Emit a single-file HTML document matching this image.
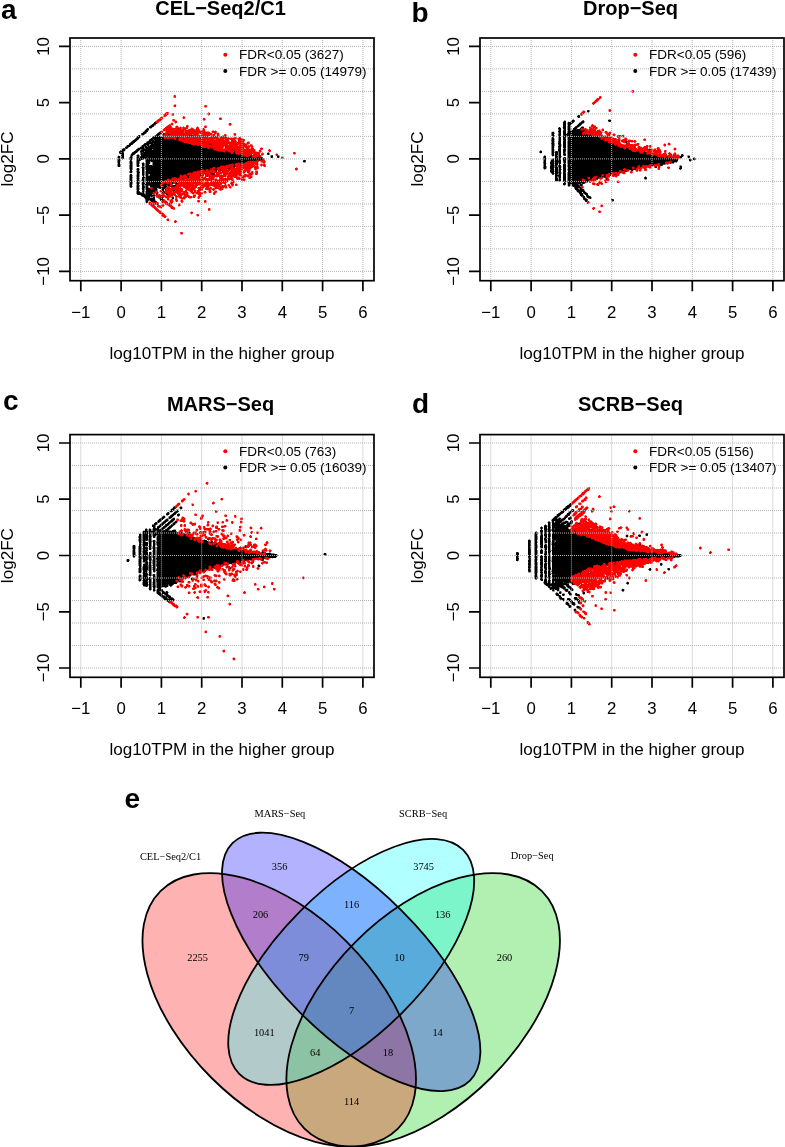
<!DOCTYPE html>
<html><head><meta charset="utf-8"><style>
html,body{margin:0;padding:0;background:#fff;}
body{width:785px;height:1147px;overflow:hidden;position:relative;}
svg{position:absolute;left:0;top:0;filter:blur(0.35px);}
text{font-family:"Liberation Sans",sans-serif;fill:#000;}
.t16{font-size:16.8px;}
.t17{font-size:17.1px;}
.t13{font-size:13.5px;}
.tb{font-size:20px;font-weight:bold;}
.lab{font-size:28px;font-weight:bold;}
.sv{font-family:"Liberation Serif",serif;font-size:10.4px;}
</style></head><body>
<svg width="785" height="1147" viewBox="0 0 785 1147">
<path d="M155 121.5h2v0.5h-2zM154 122h3v0.5h-3zM154 122.5h3.5v0.5h-3.5zM153.5 123h4v0.5h-4zM153 123.5h4v0.5h-4zM152 124h4v0.5h-4zM151.5 124.5h4v0.5h-4zM151 125h4.5v0.5h-4.5zM150 125.5h4v0.5h-4zM149.5 126h4.5v0.5h-4.5zM149 126.5h4.5v0.5h-4.5zM149 127h3.5v0.5h-3.5zM149 127.5h3v0.5h-3zM177.5 127.5h1.5v0.5h-1.5zM183.5 127.5h1.5v0.5h-1.5zM147 128h1.5v0.5h-1.5zM149.5 128h2v0.5h-2zM167.5 128h1.5v0.5h-1.5zM171.5 128h1.5v0.5h-1.5zM177 128h2.5v0.5h-2.5zM183 128h2.5v0.5h-2.5zM146.5 128.5h2.5v0.5h-2.5zM167 128.5h2.5v0.5h-2.5zM171 128.5h2.5v0.5h-2.5zM177 128.5h2.5v0.5h-2.5zM183 128.5h2.5v0.5h-2.5zM146 129h3v0.5h-3zM167 129h6.5v0.5h-6.5zM177 129h2.5v0.5h-2.5zM183 129h2.5v0.5h-2.5zM145.5 129.5h3.5v0.5h-3.5zM167 129.5h6.5v0.5h-6.5zM175 129.5h4.5v0.5h-4.5zM183 129.5h2.5v0.5h-2.5zM188 129.5h1v0.5h-1zM145 130h3.5v0.5h-3.5zM167 130h6.5v0.5h-6.5zM174 130h5v0.5h-5zM181 130h0.5v0.5h-0.5zM184 130h0.5v0.5h-0.5zM187.5 130h2.5v0.5h-2.5zM144.5 130.5h4v0.5h-4zM167.5 130.5h5v0.5h-5zM173.5 130.5h4v0.5h-4zM178 130.5h1v0.5h-1zM180 130.5h2v0.5h-2zM187.5 130.5h2.5v0.5h-2.5zM144.5 131h3.5v0.5h-3.5zM160.5 131h1v0.5h-1zM169.5 131h2.5v0.5h-2.5zM173.5 131h9v0.5h-9zM187 131h3v0.5h-3zM143.5 131.5h4.5v0.5h-4.5zM159.5 131.5h2.5v0.5h-2.5zM174 131.5h3v0.5h-3zM177.5 131.5h5v0.5h-5zM187.5 131.5h4.5v0.5h-4.5zM143 132h4v0.5h-4zM159 132h3.5v0.5h-3.5zM172.5 132h4.5v0.5h-4.5zM177.5 132h5v0.5h-5zM188 132h1.5v0.5h-1.5zM190 132h2.5v0.5h-2.5zM195 132h1v0.5h-1zM142.5 132.5h4v0.5h-4zM158 132.5h4.5v0.5h-4.5zM171.5 132.5h10.5v0.5h-10.5zM189.5 132.5h3v0.5h-3zM194.5 132.5h2.5v0.5h-2.5zM141.5 133h5v0.5h-5zM157.5 133h4.5v0.5h-4.5zM163 133h2v0.5h-2zM166 133h2v0.5h-2zM171.5 133h10v0.5h-10zM182 133h1.5v0.5h-1.5zM190 133h2.5v0.5h-2.5zM194 133h3v0.5h-3zM141 133.5h4.5v0.5h-4.5zM157 133.5h4.5v0.5h-4.5zM163 133.5h5.5v0.5h-5.5zM169 133.5h15v0.5h-15zM188 133.5h4v0.5h-4zM194 133.5h3v0.5h-3zM141 134h4v0.5h-4zM156.5 134h4.5v0.5h-4.5zM162.5 134h22v0.5h-22zM187.5 134h2.5v0.5h-2.5zM193.5 134h3.5v0.5h-3.5zM141.5 134.5h2.5v0.5h-2.5zM156 134.5h4v0.5h-4zM162.5 134.5h22.5v0.5h-22.5zM187.5 134.5h3v0.5h-3zM192.5 134.5h3.5v0.5h-3.5zM138.5 135h1.5v0.5h-1.5zM141.5 135h2v0.5h-2zM155.5 135h4v0.5h-4zM163 135h22v0.5h-22zM187.5 135h8v0.5h-8zM198.5 135h1.5v0.5h-1.5zM138 135.5h2.5v0.5h-2.5zM154.5 135.5h4.5v0.5h-4.5zM159.5 135.5h1v0.5h-1zM162.5 135.5h1v0.5h-1zM164 135.5h12.5v0.5h-12.5zM177.5 135.5h7.5v0.5h-7.5zM186.5 135.5h0.5v0.5h-0.5zM188 135.5h7.5v0.5h-7.5zM198 135.5h2.5v0.5h-2.5zM137.5 136h3v0.5h-3zM153.5 136h22v0.5h-22zM177.5 136h4.5v0.5h-4.5zM182.5 136h2v0.5h-2zM185.5 136h9.5v0.5h-9.5zM198 136h2.5v0.5h-2.5zM137 136.5h3.5v0.5h-3.5zM153 136.5h23.5v0.5h-23.5zM177 136.5h6v0.5h-6zM185.5 136.5h2.5v0.5h-2.5zM189.5 136.5h5v0.5h-5zM198 136.5h2.5v0.5h-2.5zM137 137h3.5v0.5h-3.5zM152.5 137h31v0.5h-31zM185 137h3v0.5h-3zM189.5 137h5v0.5h-5zM198 137h2.5v0.5h-2.5zM136 137.5h4v0.5h-4zM152 137.5h32v0.5h-32zM185 137.5h3v0.5h-3zM189 137.5h5v0.5h-5zM199 137.5h1.5v0.5h-1.5zM135.5 138h4v0.5h-4zM151 138h33v0.5h-33zM184.5 138h3v0.5h-3zM188.5 138h5.5v0.5h-5.5zM194.5 138h2v0.5h-2zM199 138h2v0.5h-2zM217.5 138h1.5v0.5h-1.5zM135.5 138.5h3.5v0.5h-3.5zM150.5 138.5h46.5v0.5h-46.5zM198.5 138.5h3v0.5h-3zM217 138.5h2.5v0.5h-2.5zM134.5 139h4v0.5h-4zM149.5 139h41.5v0.5h-41.5zM192 139h5v0.5h-5zM198.5 139h3v0.5h-3zM217 139h2.5v0.5h-2.5zM134 139.5h4.5v0.5h-4.5zM149 139.5h4.5v0.5h-4.5zM154 139.5h37v0.5h-37zM192 139.5h5.5v0.5h-5.5zM198.5 139.5h4.5v0.5h-4.5zM217 139.5h2.5v0.5h-2.5zM133 140h4.5v0.5h-4.5zM149 140h5v0.5h-5zM154.5 140h37v0.5h-37zM192 140h6v0.5h-6zM198.5 140h5v0.5h-5zM217 140h2.5v0.5h-2.5zM132.5 140.5h4.5v0.5h-4.5zM148.5 140.5h43v0.5h-43zM192 140.5h11.5v0.5h-11.5zM218 140.5h0.5v0.5h-0.5zM132 141h4.5v0.5h-4.5zM147.5 141h47.5v0.5h-47.5zM195.5 141h8.5v0.5h-8.5zM211.5 141h1v0.5h-1zM131 141.5h5v0.5h-5zM146.5 141.5h4.5v0.5h-4.5zM151.5 141.5h53v0.5h-53zM210.5 141.5h3v0.5h-3zM131 142h4v0.5h-4zM146.5 142h58.5v0.5h-58.5zM208.5 142h5v0.5h-5zM130 142.5h5v0.5h-5zM146 142.5h59v0.5h-59zM208 142.5h5.5v0.5h-5.5zM218 142.5h1v0.5h-1zM129.5 143h4.5v0.5h-4.5zM144.5 143h9v0.5h-9zM154 143h50.5v0.5h-50.5zM207 143h6.5v0.5h-6.5zM217 143h2.5v0.5h-2.5zM129 143.5h4.5v0.5h-4.5zM144 143.5h61.5v0.5h-61.5zM206.5 143.5h7.5v0.5h-7.5zM214.5 143.5h2v0.5h-2zM217 143.5h3v0.5h-3zM222.5 143.5h2v0.5h-2zM129 144h4v0.5h-4zM143.5 144h62v0.5h-62zM206 144h15v0.5h-15zM221.5 144h3.5v0.5h-3.5zM128.5 144.5h4v0.5h-4zM143 144.5h6v0.5h-6zM151 144.5h74v0.5h-74zM127 145h4v0.5h-4zM142 145h7v0.5h-7zM150 145h75v0.5h-75zM126.5 145.5h4.5v0.5h-4.5zM141.5 145.5h4.5v0.5h-4.5zM147 145.5h71v0.5h-71zM219 145.5h5.5v0.5h-5.5zM225.5 145.5h2v0.5h-2zM126.5 146h4v0.5h-4zM141.5 146h5.5v0.5h-5.5zM148 146h70v0.5h-70zM219 146h2v0.5h-2zM222 146h1.5v0.5h-1.5zM225 146h2.5v0.5h-2.5zM125.5 146.5h4.5v0.5h-4.5zM140.5 146.5h4v0.5h-4zM145 146.5h73.5v0.5h-73.5zM220 146.5h2v0.5h-2zM225 146.5h3v0.5h-3zM125 147h4v0.5h-4zM140 147h4.5v0.5h-4.5zM145 147h74v0.5h-74zM219.5 147h3v0.5h-3zM225 147h3v0.5h-3zM125 147.5h3v0.5h-3zM138.5 147.5h0.5v0.5h-0.5zM139.5 147.5h5v0.5h-5zM145 147.5h74v0.5h-74zM219.5 147.5h3.5v0.5h-3.5zM225.5 147.5h2v0.5h-2zM234 147.5h1.5v0.5h-1.5zM123.5 148h1v0.5h-1zM125 148h2.5v0.5h-2.5zM137.5 148h7v0.5h-7zM145.5 148h77.5v0.5h-77.5zM226 148h0.5v0.5h-0.5zM231.5 148h1.5v0.5h-1.5zM233.5 148h2.5v0.5h-2.5zM122.5 148.5h2.5v0.5h-2.5zM125.5 148.5h2v0.5h-2zM137.5 148.5h85.5v0.5h-85.5zM224.5 148.5h1.5v0.5h-1.5zM226.5 148.5h2v0.5h-2zM230.5 148.5h5.5v0.5h-5.5zM122 149h3.5v0.5h-3.5zM136.5 149h5v0.5h-5zM142 149h10.5v0.5h-10.5zM153 149h70.5v0.5h-70.5zM224 149h5v0.5h-5zM230 149h6v0.5h-6zM121.5 149.5h4v0.5h-4zM136 149.5h4v0.5h-4zM141 149.5h11.5v0.5h-11.5zM153 149.5h76v0.5h-76zM229.5 149.5h6.5v0.5h-6.5zM236.5 149.5h2v0.5h-2zM120.5 150h5v0.5h-5zM135.5 150h4v0.5h-4zM140.5 150h95v0.5h-95zM236 150h2.5v0.5h-2.5zM120 150.5h5v0.5h-5zM135 150.5h4.5v0.5h-4.5zM140.5 150.5h91.5v0.5h-91.5zM232.5 150.5h3v0.5h-3zM236 150.5h3v0.5h-3zM119.5 151h5v0.5h-5zM134 151h4.5v0.5h-4.5zM140 151h4v0.5h-4zM145 151h93.5v0.5h-93.5zM119 151.5h4.5v0.5h-4.5zM133.5 151.5h4.5v0.5h-4.5zM140 151.5h98.5v0.5h-98.5zM119 152h4.5v0.5h-4.5zM132.5 152h5v0.5h-5zM140 152h98.5v0.5h-98.5zM119 152.5h5v0.5h-5zM132 152.5h5v0.5h-5zM140.5 152.5h1.5v0.5h-1.5zM142.5 152.5h96.5v0.5h-96.5zM239.5 152.5h2v0.5h-2zM250 152.5h1.5v0.5h-1.5zM267.5 152.5h2v0.5h-2zM119 153h5v0.5h-5zM132 153h4v0.5h-4zM140.5 153h102v0.5h-102zM247.5 153h1v0.5h-1zM249.5 153h2.5v0.5h-2.5zM267 153h2.5v0.5h-2.5zM120 153.5h4v0.5h-4zM131 153.5h4.5v0.5h-4.5zM140.5 153.5h103.5v0.5h-103.5zM245 153.5h1.5v0.5h-1.5zM247 153.5h2v0.5h-2zM249.5 153.5h2.5v0.5h-2.5zM267 153.5h2.5v0.5h-2.5zM121 154h3v0.5h-3zM131 154h4v0.5h-4zM140.5 154h111.5v0.5h-111.5zM267 154h2.5v0.5h-2.5zM121 154.5h3v0.5h-3zM130.5 154.5h4v0.5h-4zM137 154.5h2v0.5h-2zM140.5 154.5h111.5v0.5h-111.5zM267.5 154.5h2v0.5h-2zM121 155h3v0.5h-3zM130.5 155h3v0.5h-3zM136.5 155h3v0.5h-3zM141 155h112.5v0.5h-112.5zM271.5 155h1v0.5h-1zM118.5 155.5h0.5v0.5h-0.5zM121 155.5h3v0.5h-3zM130.5 155.5h2.5v0.5h-2.5zM136.5 155.5h3v0.5h-3zM141 155.5h115v0.5h-115zM257.5 155.5h2v0.5h-2zM270.5 155.5h2.5v0.5h-2.5zM277 155.5h2.5v0.5h-2.5zM118 156h2v0.5h-2zM121.5 156h2.5v0.5h-2.5zM130.5 156h2v0.5h-2zM137 156h2.5v0.5h-2.5zM140.5 156h119v0.5h-119zM270.5 156h2.5v0.5h-2.5zM277 156h2.5v0.5h-2.5zM117.5 156.5h3v0.5h-3zM121 156.5h3v0.5h-3zM130 156.5h2.5v0.5h-2.5zM136.5 156.5h3v0.5h-3zM140 156.5h120.5v0.5h-120.5zM270.5 156.5h2.5v0.5h-2.5zM277 156.5h2.5v0.5h-2.5zM117.5 157h3v0.5h-3zM121.5 157h2.5v0.5h-2.5zM129.5 157h3v0.5h-3zM136.5 157h3v0.5h-3zM140 157h122.5v0.5h-122.5zM270.5 157h2.5v0.5h-2.5zM277 157h2.5v0.5h-2.5zM117.5 157.5h2.5v0.5h-2.5zM121 157.5h3v0.5h-3zM129.5 157.5h3v0.5h-3zM136.5 157.5h3v0.5h-3zM140 157.5h7.5v0.5h-7.5zM148 157.5h115v0.5h-115zM271 157.5h1.5v0.5h-1.5zM277.5 157.5h1.5v0.5h-1.5zM118 158h1.5v0.5h-1.5zM121 158h3v0.5h-3zM129.5 158h3v0.5h-3zM136.5 158h127v0.5h-127zM117.5 158.5h2.5v0.5h-2.5zM121 158.5h2.5v0.5h-2.5zM129.5 158.5h3v0.5h-3zM136.5 158.5h8v0.5h-8zM145 158.5h118.5v0.5h-118.5zM117.5 159h2.5v0.5h-2.5zM122 159h1v0.5h-1zM129.5 159h3v0.5h-3zM136.5 159h7.5v0.5h-7.5zM145.5 159h118v0.5h-118zM117.5 159.5h3v0.5h-3zM129.5 159.5h2.5v0.5h-2.5zM136.5 159.5h6.5v0.5h-6.5zM145.5 159.5h118v0.5h-118zM117.5 160h3v0.5h-3zM130 160h1.5v0.5h-1.5zM136.5 160h4.5v0.5h-4.5zM145.5 160h117.5v0.5h-117.5zM303.5 160h2v0.5h-2zM117.5 160.5h3v0.5h-3zM130 160.5h2v0.5h-2zM136.5 160.5h4v0.5h-4zM145.5 160.5h117v0.5h-117zM263 160.5h1.5v0.5h-1.5zM303 160.5h3v0.5h-3zM117.5 161h2.5v0.5h-2.5zM129.5 161h2.5v0.5h-2.5zM136.5 161h3.5v0.5h-3.5zM145.5 161h113.5v0.5h-113.5zM262.5 161h2.5v0.5h-2.5zM303 161h3v0.5h-3zM117.5 161.5h3v0.5h-3zM129.5 161.5h3v0.5h-3zM136.5 161.5h2.5v0.5h-2.5zM145.5 161.5h4.5v0.5h-4.5zM151 161.5h107v0.5h-107zM262.5 161.5h3v0.5h-3zM303 161.5h2.5v0.5h-2.5zM117.5 162h2.5v0.5h-2.5zM129.5 162h3v0.5h-3zM136.5 162h3v0.5h-3zM146 162h4v0.5h-4zM152.5 162h101v0.5h-101zM254.5 162h0.5v0.5h-0.5zM262.5 162h3v0.5h-3zM303.5 162h2v0.5h-2zM117.5 162.5h2.5v0.5h-2.5zM129.5 162.5h3v0.5h-3zM136.5 162.5h3v0.5h-3zM142.5 162.5h1.5v0.5h-1.5zM145.5 162.5h5v0.5h-5zM152.5 162.5h100.5v0.5h-100.5zM262.5 162.5h2.5v0.5h-2.5zM118 163h2v0.5h-2zM129.5 163h3v0.5h-3zM136.5 163h3v0.5h-3zM142 163h2.5v0.5h-2.5zM145.5 163h5v0.5h-5zM152.5 163h99.5v0.5h-99.5zM263.5 163h1v0.5h-1zM117.5 163.5h2.5v0.5h-2.5zM129.5 163.5h3v0.5h-3zM136.5 163.5h3v0.5h-3zM141.5 163.5h3v0.5h-3zM145.5 163.5h4.5v0.5h-4.5zM152.5 163.5h99v0.5h-99zM117.5 164h3v0.5h-3zM130 164h2.5v0.5h-2.5zM136.5 164h2.5v0.5h-2.5zM142 164h2.5v0.5h-2.5zM145.5 164h3.5v0.5h-3.5zM152.5 164h93.5v0.5h-93.5zM247 164h2.5v0.5h-2.5zM117.5 164.5h3v0.5h-3zM129.5 164.5h3v0.5h-3zM136.5 164.5h2.5v0.5h-2.5zM142 164.5h2.5v0.5h-2.5zM145.5 164.5h4v0.5h-4zM152.5 164.5h93.5v0.5h-93.5zM247.5 164.5h2v0.5h-2zM117.5 165h3v0.5h-3zM129.5 165h3v0.5h-3zM136.5 165h3v0.5h-3zM142 165h2.5v0.5h-2.5zM145.5 165h6.5v0.5h-6.5zM152.5 165h85.5v0.5h-85.5zM238.5 165h8v0.5h-8zM117.5 165.5h3v0.5h-3zM129.5 165.5h3v0.5h-3zM136.5 165.5h3v0.5h-3zM142 165.5h2.5v0.5h-2.5zM145.5 165.5h93v0.5h-93zM240 165.5h7v0.5h-7zM117.5 166h3v0.5h-3zM129.5 166h3v0.5h-3zM136.5 166h3v0.5h-3zM142.5 166h1v0.5h-1zM145.5 166h93v0.5h-93zM241 166h6v0.5h-6zM255 166h1.5v0.5h-1.5zM118 166.5h2v0.5h-2zM129.5 166.5h3v0.5h-3zM137 166.5h2v0.5h-2zM142 166.5h2.5v0.5h-2.5zM145 166.5h93v0.5h-93zM242 166.5h5v0.5h-5zM254.5 166.5h2.5v0.5h-2.5zM129.5 167h3v0.5h-3zM141.5 167h3v0.5h-3zM145.5 167h90v0.5h-90zM236 167h2v0.5h-2zM242 167h2v0.5h-2zM244.5 167h2v0.5h-2zM254 167h3v0.5h-3zM129.5 167.5h3v0.5h-3zM141.5 167.5h3.5v0.5h-3.5zM145.5 167.5h87v0.5h-87zM233 167.5h2v0.5h-2zM254.5 167.5h2.5v0.5h-2.5zM129.5 168h3v0.5h-3zM137 168h2v0.5h-2zM142 168h2.5v0.5h-2.5zM145.5 168h85v0.5h-85zM254.5 168h2v0.5h-2zM129.5 168.5h3v0.5h-3zM136.5 168.5h3v0.5h-3zM142 168.5h2.5v0.5h-2.5zM145.5 168.5h80.5v0.5h-80.5zM227 168.5h3.5v0.5h-3.5zM255.5 168.5h0.5v0.5h-0.5zM129.5 169h3v0.5h-3zM136.5 169h3v0.5h-3zM142 169h2.5v0.5h-2.5zM145.5 169h81v0.5h-81zM228 169h2v0.5h-2zM130 169.5h2.5v0.5h-2.5zM136.5 169.5h3v0.5h-3zM142 169.5h2.5v0.5h-2.5zM145.5 169.5h72v0.5h-72zM218 169.5h9v0.5h-9zM228.5 169.5h1v0.5h-1zM130 170h2v0.5h-2zM137 170h2v0.5h-2zM142 170h2.5v0.5h-2.5zM146 170h71v0.5h-71zM219 170h8v0.5h-8zM130 170.5h2v0.5h-2zM136.5 170.5h3v0.5h-3zM142 170.5h2.5v0.5h-2.5zM146 170.5h71v0.5h-71zM218.5 170.5h8v0.5h-8zM129.5 171h3v0.5h-3zM136.5 171h3v0.5h-3zM142 171h2.5v0.5h-2.5zM145.5 171h62v0.5h-62zM208 171h9v0.5h-9zM218 171h3v0.5h-3zM222 171h2.5v0.5h-2.5zM225 171h1v0.5h-1zM129.5 171.5h3v0.5h-3zM136.5 171.5h3v0.5h-3zM142 171.5h2.5v0.5h-2.5zM145.5 171.5h67.5v0.5h-67.5zM214 171.5h3v0.5h-3zM218 171.5h3v0.5h-3zM222 171.5h2.5v0.5h-2.5zM129.5 172h3v0.5h-3zM136.5 172h3.5v0.5h-3.5zM142 172h2.5v0.5h-2.5zM145.5 172h61.5v0.5h-61.5zM207.5 172h5.5v0.5h-5.5zM214 172h2.5v0.5h-2.5zM218.5 172h2.5v0.5h-2.5zM223 172h1v0.5h-1zM129.5 172.5h2.5v0.5h-2.5zM137 172.5h3v0.5h-3zM142 172.5h2.5v0.5h-2.5zM145.5 172.5h67.5v0.5h-67.5zM214.5 172.5h1.5v0.5h-1.5zM219 172.5h1v0.5h-1zM130.5 173h1v0.5h-1zM137 173h2.5v0.5h-2.5zM142 173h2.5v0.5h-2.5zM145.5 173h56v0.5h-56zM202 173h7.5v0.5h-7.5zM210 173h4.5v0.5h-4.5zM136.5 173.5h3v0.5h-3zM142 173.5h2.5v0.5h-2.5zM145.5 173.5h55.5v0.5h-55.5zM202.5 173.5h2v0.5h-2zM205.5 173.5h9.5v0.5h-9.5zM130 174h2v0.5h-2zM136.5 174h3v0.5h-3zM142 174h2.5v0.5h-2.5zM145.5 174h4v0.5h-4zM150 174h51v0.5h-51zM205 174h10v0.5h-10zM129.5 174.5h2.5v0.5h-2.5zM137 174.5h2.5v0.5h-2.5zM142 174.5h2.5v0.5h-2.5zM145.5 174.5h2.5v0.5h-2.5zM150 174.5h51v0.5h-51zM205 174.5h4v0.5h-4zM209.5 174.5h5.5v0.5h-5.5zM129.5 175h3v0.5h-3zM136.5 175h3v0.5h-3zM142 175h2.5v0.5h-2.5zM145.5 175h2.5v0.5h-2.5zM150 175h51v0.5h-51zM205 175h3.5v0.5h-3.5zM210 175h5v0.5h-5zM129.5 175.5h3v0.5h-3zM136.5 175.5h3v0.5h-3zM142.5 175.5h1.5v0.5h-1.5zM145.5 175.5h52v0.5h-52zM198 175.5h3v0.5h-3zM205.5 175.5h3.5v0.5h-3.5zM211.5 175.5h3.5v0.5h-3.5zM129.5 176h2.5v0.5h-2.5zM136.5 176h3v0.5h-3zM143 176h1v0.5h-1zM145.5 176h52v0.5h-52zM198 176h2.5v0.5h-2.5zM206 176h2.5v0.5h-2.5zM211.5 176h4v0.5h-4zM129.5 176.5h3v0.5h-3zM136.5 176.5h3v0.5h-3zM142.5 176.5h2v0.5h-2zM146 176.5h51v0.5h-51zM198 176.5h2.5v0.5h-2.5zM206.5 176.5h2v0.5h-2zM212 176.5h3v0.5h-3zM129.5 177h3v0.5h-3zM136.5 177h3v0.5h-3zM142 177h3v0.5h-3zM145.5 177h49.5v0.5h-49.5zM197.5 177h2.5v0.5h-2.5zM213 177h1.5v0.5h-1.5zM129.5 177.5h3v0.5h-3zM137 177.5h2v0.5h-2zM142 177.5h3v0.5h-3zM145.5 177.5h49.5v0.5h-49.5zM197 177.5h3v0.5h-3zM129.5 178h3v0.5h-3zM136.5 178h3v0.5h-3zM142 178h2.5v0.5h-2.5zM145.5 178h49v0.5h-49zM197 178h3v0.5h-3zM129.5 178.5h2.5v0.5h-2.5zM136.5 178.5h3v0.5h-3zM142 178.5h2.5v0.5h-2.5zM145.5 178.5h49v0.5h-49zM197.5 178.5h3v0.5h-3zM129.5 179h3v0.5h-3zM137 179h2v0.5h-2zM142 179h2.5v0.5h-2.5zM145.5 179h37.5v0.5h-37.5zM186.5 179h7.5v0.5h-7.5zM197.5 179h3v0.5h-3zM129.5 179.5h2.5v0.5h-2.5zM136.5 179.5h3v0.5h-3zM141.5 179.5h3v0.5h-3zM145.5 179.5h37v0.5h-37zM186.5 179.5h3.5v0.5h-3.5zM190.5 179.5h2.5v0.5h-2.5zM198 179.5h2v0.5h-2zM129.5 180h3v0.5h-3zM136.5 180h3v0.5h-3zM141.5 180h3v0.5h-3zM145.5 180h36v0.5h-36zM183.5 180h1.5v0.5h-1.5zM187 180h2v0.5h-2zM190.5 180h2v0.5h-2zM198.5 180h1v0.5h-1zM129.5 180.5h3v0.5h-3zM136.5 180.5h3v0.5h-3zM141.5 180.5h3v0.5h-3zM145.5 180.5h36.5v0.5h-36.5zM183 180.5h2.5v0.5h-2.5zM187.5 180.5h1v0.5h-1zM190.5 180.5h2.5v0.5h-2.5zM129.5 181h3v0.5h-3zM137 181h2.5v0.5h-2.5zM142 181h3v0.5h-3zM145.5 181h40v0.5h-40zM186 181h1.5v0.5h-1.5zM190 181h3v0.5h-3zM129.5 181.5h3v0.5h-3zM136.5 181.5h3v0.5h-3zM142 181.5h3v0.5h-3zM145.5 181.5h32.5v0.5h-32.5zM178.5 181.5h9.5v0.5h-9.5zM190.5 181.5h2.5v0.5h-2.5zM129.5 182h3v0.5h-3zM136.5 182h3v0.5h-3zM142 182h2.5v0.5h-2.5zM145.5 182h4.5v0.5h-4.5zM150.5 182h26.5v0.5h-26.5zM178 182h10v0.5h-10zM190.5 182h2v0.5h-2zM129.5 182.5h3v0.5h-3zM136.5 182.5h3v0.5h-3zM141.5 182.5h3v0.5h-3zM146 182.5h31v0.5h-31zM178 182.5h5v0.5h-5zM184 182.5h0.5v0.5h-0.5zM185.5 182.5h2.5v0.5h-2.5zM129.5 183h3v0.5h-3zM136.5 183h3v0.5h-3zM141.5 183h3.5v0.5h-3.5zM146 183h38v0.5h-38zM185.5 183h2.5v0.5h-2.5zM129.5 183.5h3v0.5h-3zM136.5 183.5h3v0.5h-3zM142 183.5h3v0.5h-3zM145.5 183.5h27.5v0.5h-27.5zM173.5 183.5h7v0.5h-7zM181 183.5h7.5v0.5h-7.5zM129.5 184h3v0.5h-3zM136.5 184h2.5v0.5h-2.5zM142 184h2.5v0.5h-2.5zM145 184h27.5v0.5h-27.5zM175 184h2.5v0.5h-2.5zM178 184h2v0.5h-2zM182 184h6.5v0.5h-6.5zM129.5 184.5h2.5v0.5h-2.5zM137 184.5h2v0.5h-2zM141.5 184.5h3v0.5h-3zM145 184.5h27.5v0.5h-27.5zM175.5 184.5h1.5v0.5h-1.5zM178.5 184.5h1v0.5h-1zM182 184.5h6.5v0.5h-6.5zM129.5 185h2.5v0.5h-2.5zM136.5 185h3v0.5h-3zM142 185h2.5v0.5h-2.5zM145.5 185h21v0.5h-21zM167 185h9v0.5h-9zM178 185h2.5v0.5h-2.5zM182 185h6.5v0.5h-6.5zM129.5 185.5h2.5v0.5h-2.5zM136.5 185.5h3v0.5h-3zM142 185.5h2.5v0.5h-2.5zM145.5 185.5h2.5v0.5h-2.5zM148.5 185.5h1v0.5h-1zM150 185.5h17v0.5h-17zM167.5 185.5h8.5v0.5h-8.5zM177.5 185.5h3v0.5h-3zM182 185.5h6v0.5h-6zM129.5 186h3v0.5h-3zM136.5 186h3v0.5h-3zM142 186h2.5v0.5h-2.5zM145.5 186h2.5v0.5h-2.5zM150 186h11v0.5h-11zM162 186h5.5v0.5h-5.5zM168 186h8.5v0.5h-8.5zM177 186h3.5v0.5h-3.5zM182.5 186h5v0.5h-5zM129.5 186.5h3v0.5h-3zM136.5 186.5h3v0.5h-3zM142 186.5h3v0.5h-3zM145.5 186.5h3v0.5h-3zM150 186.5h11.5v0.5h-11.5zM163.5 186.5h4v0.5h-4zM168.5 186.5h8v0.5h-8zM177 186.5h3.5v0.5h-3.5zM182.5 186.5h2v0.5h-2zM185 186.5h2.5v0.5h-2.5zM130 187h2v0.5h-2zM136.5 187h3v0.5h-3zM142 187h3v0.5h-3zM145.5 187h3v0.5h-3zM150 187h11.5v0.5h-11.5zM162 187h5.5v0.5h-5.5zM169.5 187h0.5v0.5h-0.5zM171.5 187h1.5v0.5h-1.5zM173.5 187h6v0.5h-6zM183.5 187h0.5v0.5h-0.5zM185.5 187h2v0.5h-2zM130.5 187.5h1v0.5h-1zM136.5 187.5h2.5v0.5h-2.5zM142 187.5h3v0.5h-3zM145.5 187.5h2.5v0.5h-2.5zM148.5 187.5h1v0.5h-1zM150 187.5h19v0.5h-19zM173 187.5h3.5v0.5h-3.5zM177 187.5h2v0.5h-2zM136.5 188h3v0.5h-3zM141.5 188h3v0.5h-3zM145.5 188h12v0.5h-12zM158 188h7.5v0.5h-7.5zM166 188h3.5v0.5h-3.5zM173 188h3.5v0.5h-3.5zM136.5 188.5h3v0.5h-3zM142 188.5h2.5v0.5h-2.5zM145.5 188.5h6.5v0.5h-6.5zM152.5 188.5h4.5v0.5h-4.5zM159.5 188.5h1.5v0.5h-1.5zM161.5 188.5h8.5v0.5h-8.5zM173 188.5h3.5v0.5h-3.5zM136.5 189h3v0.5h-3zM142 189h2.5v0.5h-2.5zM145.5 189h12v0.5h-12zM161.5 189h2.5v0.5h-2.5zM165 189h4.5v0.5h-4.5zM173 189h3.5v0.5h-3.5zM136.5 189.5h3v0.5h-3zM142 189.5h2.5v0.5h-2.5zM145.5 189.5h12v0.5h-12zM161.5 189.5h3v0.5h-3zM165 189.5h4.5v0.5h-4.5zM173 189.5h3v0.5h-3zM137 190h2v0.5h-2zM142.5 190h2v0.5h-2zM146 190h11.5v0.5h-11.5zM161.5 190h3v0.5h-3zM165 190h4v0.5h-4zM172.5 190h3v0.5h-3zM136.5 190.5h2.5v0.5h-2.5zM142 190.5h2.5v0.5h-2.5zM146 190.5h11.5v0.5h-11.5zM162 190.5h2v0.5h-2zM165.5 190.5h3v0.5h-3zM172.5 190.5h3v0.5h-3zM136.5 191h3v0.5h-3zM142 191h2.5v0.5h-2.5zM145.5 191h9.5v0.5h-9.5zM156 191h0.5v0.5h-0.5zM163 191h1.5v0.5h-1.5zM165.5 191h3v0.5h-3zM173 191h4v0.5h-4zM136.5 191.5h3.5v0.5h-3.5zM142 191.5h2.5v0.5h-2.5zM145.5 191.5h10v0.5h-10zM156 191.5h2v0.5h-2zM162.5 191.5h6.5v0.5h-6.5zM173.5 191.5h4v0.5h-4zM136.5 192h4v0.5h-4zM142 192h2.5v0.5h-2.5zM145.5 192h13v0.5h-13zM162 192h8v0.5h-8zM175 192h2.5v0.5h-2.5zM136.5 192.5h5.5v0.5h-5.5zM142.5 192.5h1.5v0.5h-1.5zM145.5 192.5h9.5v0.5h-9.5zM155.5 192.5h3v0.5h-3zM161.5 192.5h9v0.5h-9zM175 192.5h2.5v0.5h-2.5zM136.5 193h8v0.5h-8zM145.5 193h9.5v0.5h-9.5zM155.5 193h3v0.5h-3zM161.5 193h9v0.5h-9zM175.5 193h1.5v0.5h-1.5zM136.5 193.5h8v0.5h-8zM145.5 193.5h9.5v0.5h-9.5zM155.5 193.5h2.5v0.5h-2.5zM161.5 193.5h2.5v0.5h-2.5zM165 193.5h5.5v0.5h-5.5zM137 194h8v0.5h-8zM145.5 194h6.5v0.5h-6.5zM153 194h1.5v0.5h-1.5zM155.5 194h2.5v0.5h-2.5zM162 194h1.5v0.5h-1.5zM166 194h4v0.5h-4zM137.5 194.5h17.5v0.5h-17.5zM156 194.5h1.5v0.5h-1.5zM161 194.5h1v0.5h-1zM166 194.5h3v0.5h-3zM140.5 195h15v0.5h-15zM157 195h2v0.5h-2zM160.5 195h2v0.5h-2zM166.5 195h2.5v0.5h-2.5zM141 195.5h14.5v0.5h-14.5zM156.5 195.5h3v0.5h-3zM160 195.5h3v0.5h-3zM167 195.5h1.5v0.5h-1.5zM141.5 196h13.5v0.5h-13.5zM156.5 196h7v0.5h-7zM142.5 196.5h7.5v0.5h-7.5zM150.5 196.5h2v0.5h-2zM153.5 196.5h1v0.5h-1zM156.5 196.5h7v0.5h-7zM172 196.5h1.5v0.5h-1.5zM143.5 197h6.5v0.5h-6.5zM153 197h2v0.5h-2zM156.5 197h7v0.5h-7zM171.5 197h2.5v0.5h-2.5zM144 197.5h11v0.5h-11zM157 197.5h6.5v0.5h-6.5zM171.5 197.5h2.5v0.5h-2.5zM144.5 198h10.5v0.5h-10.5zM158.5 198h4.5v0.5h-4.5zM171.5 198h2.5v0.5h-2.5zM145 198.5h10v0.5h-10zM159.5 198.5h3.5v0.5h-3.5zM172 198.5h2v0.5h-2zM145.5 199h9.5v0.5h-9.5zM159.5 199h4.5v0.5h-4.5zM145 199.5h10.5v0.5h-10.5zM160 199.5h4.5v0.5h-4.5zM145.5 200h10v0.5h-10zM160 200h4.5v0.5h-4.5zM145.5 200.5h3v0.5h-3zM150 200.5h5.5v0.5h-5.5zM160.5 200.5h4v0.5h-4zM145.5 201h3v0.5h-3zM150.5 201h6v0.5h-6zM162 201h2v0.5h-2zM145.5 201.5h2.5v0.5h-2.5zM151 201.5h6v0.5h-6zM145.5 202h2.5v0.5h-2.5zM152.5 202h5.5v0.5h-5.5zM146 202.5h1.5v0.5h-1.5zM152.5 202.5h6v0.5h-6zM152.5 203h6.5v0.5h-6.5zM152.5 203.5h6.5v0.5h-6.5zM152.5 204h2.5v0.5h-2.5zM155.5 204h3.5v0.5h-3.5zM153 204.5h1.5v0.5h-1.5zM156.5 204.5h2v0.5h-2z" fill="#000"/>
<path d="M174 95h1.5v0.5h-1.5zM173.5 95.5h2.5v0.5h-2.5zM173.5 96h2.5v0.5h-2.5zM173.5 96.5h2.5v0.5h-2.5zM173.5 97h2.5v0.5h-2.5zM174.5 97.5h1v0.5h-1zM174 104.5h2v0.5h-2zM173.5 105h2.5v0.5h-2.5zM204.5 105h2v0.5h-2zM173.5 105.5h3v0.5h-3zM204.5 105.5h2.5v0.5h-2.5zM173.5 106h2.5v0.5h-2.5zM204 106h3v0.5h-3zM174 106.5h2v0.5h-2zM204.5 106.5h2.5v0.5h-2.5zM204.5 107h2v0.5h-2zM166 112h2.5v0.5h-2.5zM165.5 112.5h3.5v0.5h-3.5zM208 112.5h1.5v0.5h-1.5zM165 113h4v0.5h-4zM172 113h1.5v0.5h-1.5zM207.5 113h2.5v0.5h-2.5zM164 113.5h5v0.5h-5zM171.5 113.5h2.5v0.5h-2.5zM207.5 113.5h2.5v0.5h-2.5zM163.5 114h5.5v0.5h-5.5zM171.5 114h2.5v0.5h-2.5zM207.5 114h2.5v0.5h-2.5zM163.5 114.5h4.5v0.5h-4.5zM171.5 114.5h2.5v0.5h-2.5zM207.5 114.5h2.5v0.5h-2.5zM163.5 115h3.5v0.5h-3.5zM171.5 115h2.5v0.5h-2.5zM208 115h1v0.5h-1zM163.5 115.5h3.5v0.5h-3.5zM172.5 115.5h0.5v0.5h-0.5zM163.5 116h3v0.5h-3zM183.5 116h0.5v0.5h-0.5zM161 116.5h1.5v0.5h-1.5zM163.5 116.5h2v0.5h-2zM183 116.5h2v0.5h-2zM160.5 117h2.5v0.5h-2.5zM182.5 117h2.5v0.5h-2.5zM160 117.5h3v0.5h-3zM182.5 117.5h3v0.5h-3zM219.5 117.5h2v0.5h-2zM159.5 118h3.5v0.5h-3.5zM182.5 118h2.5v0.5h-2.5zM203 118h2v0.5h-2zM219 118h2.5v0.5h-2.5zM159 118.5h4v0.5h-4zM183 118.5h1.5v0.5h-1.5zM203 118.5h2.5v0.5h-2.5zM219 118.5h3v0.5h-3zM158 119h4.5v0.5h-4.5zM172.5 119h2v0.5h-2zM202.5 119h3v0.5h-3zM219 119h3v0.5h-3zM157.5 119.5h4.5v0.5h-4.5zM172.5 119.5h2.5v0.5h-2.5zM203 119.5h2.5v0.5h-2.5zM219.5 119.5h2v0.5h-2zM157 120h4v0.5h-4zM172 120h3v0.5h-3zM203 120h2v0.5h-2zM156 120.5h5v0.5h-5zM172.5 120.5h4v0.5h-4zM156 121h4.5v0.5h-4.5zM172.5 121h4.5v0.5h-4.5zM155.5 121.5h4v0.5h-4zM174.5 121.5h2.5v0.5h-2.5zM155.5 122h3.5v0.5h-3.5zM174.5 122h2.5v0.5h-2.5zM156 122.5h2.5v0.5h-2.5zM171.5 122.5h1v0.5h-1zM174.5 122.5h2.5v0.5h-2.5zM157 123h0.5v0.5h-0.5zM171 123h2v0.5h-2zM175 123h1v0.5h-1zM229 123h2v0.5h-2zM170.5 123.5h3v0.5h-3zM229 123.5h2.5v0.5h-2.5zM169.5 124h0.5v0.5h-0.5zM170.5 124h3v0.5h-3zM228.5 124h3v0.5h-3zM168.5 124.5h4.5v0.5h-4.5zM228.5 124.5h3v0.5h-3zM168 125h3v0.5h-3zM171.5 125h1v0.5h-1zM186.5 125h2v0.5h-2zM229 125h2v0.5h-2zM167 125.5h4v0.5h-4zM176.5 125.5h1v0.5h-1zM186 125.5h2.5v0.5h-2.5zM204.5 125.5h2v0.5h-2zM230 125.5h0.5v0.5h-0.5zM166.5 126h5v0.5h-5zM175.5 126h2.5v0.5h-2.5zM186 126h2.5v0.5h-2.5zM204 126h2.5v0.5h-2.5zM166 126.5h6v0.5h-6zM175.5 126.5h3v0.5h-3zM180 126.5h1v0.5h-1zM183 126.5h1v0.5h-1zM186 126.5h2.5v0.5h-2.5zM197 126.5h1v0.5h-1zM204 126.5h3v0.5h-3zM165 127h7.5v0.5h-7.5zM175.5 127h3v0.5h-3zM179.5 127h2v0.5h-2zM182.5 127h2v0.5h-2zM185.5 127h3v0.5h-3zM196.5 127h2v0.5h-2zM204 127h3v0.5h-3zM165 127.5h7.5v0.5h-7.5zM175 127.5h3v0.5h-3zM179 127.5h9v0.5h-9zM191 127.5h1.5v0.5h-1.5zM196 127.5h3v0.5h-3zM204.5 127.5h2v0.5h-2zM164 128h14v0.5h-14zM178.5 128h9.5v0.5h-9.5zM190.5 128h2.5v0.5h-2.5zM196 128h3v0.5h-3zM203 128h1v0.5h-1zM163.5 128.5h18v0.5h-18zM182.5 128.5h5.5v0.5h-5.5zM190.5 128.5h3.5v0.5h-3.5zM196 128.5h3v0.5h-3zM202.5 128.5h2.5v0.5h-2.5zM163 129h4.5v0.5h-4.5zM168 129h13.5v0.5h-13.5zM182 129h5.5v0.5h-5.5zM189 129h5.5v0.5h-5.5zM195.5 129h4v0.5h-4zM202.5 129h2.5v0.5h-2.5zM162.5 129.5h4.5v0.5h-4.5zM167.5 129.5h7.5v0.5h-7.5zM175.5 129.5h10v0.5h-10zM189 129.5h11v0.5h-11zM202.5 129.5h2.5v0.5h-2.5zM163 130h9v0.5h-9zM172.5 130h27.5v0.5h-27.5zM201.5 130h3.5v0.5h-3.5zM161 130.5h1.5v0.5h-1.5zM163 130.5h9.5v0.5h-9.5zM173.5 130.5h10.5v0.5h-10.5zM184.5 130.5h21v0.5h-21zM212 130.5h2v0.5h-2zM215 130.5h1v0.5h-1zM160.5 131h2.5v0.5h-2.5zM163.5 131h1v0.5h-1zM165.5 131h18.5v0.5h-18.5zM184.5 131h21v0.5h-21zM211.5 131h5v0.5h-5zM160 131.5h3v0.5h-3zM165.5 131.5h44v0.5h-44zM211.5 131.5h5.5v0.5h-5.5zM160 132h3v0.5h-3zM165.5 132h19v0.5h-19zM185 132h25v0.5h-25zM211.5 132h5.5v0.5h-5.5zM160.5 132.5h2.5v0.5h-2.5zM165 132.5h45.5v0.5h-45.5zM212 132.5h4.5v0.5h-4.5zM217.5 132.5h1v0.5h-1zM161 133h1v0.5h-1zM164.5 133h47.5v0.5h-47.5zM214 133h2.5v0.5h-2.5zM217 133h2v0.5h-2zM234 133h1.5v0.5h-1.5zM164.5 133.5h3v0.5h-3zM168 133.5h31v0.5h-31zM200 133.5h12.5v0.5h-12.5zM214 133.5h5.5v0.5h-5.5zM233.5 133.5h2.5v0.5h-2.5zM164 134h4v0.5h-4zM169 134h23v0.5h-23zM192.5 134h6v0.5h-6zM201 134h11.5v0.5h-11.5zM213 134h3v0.5h-3zM216.5 134h3v0.5h-3zM224.5 134h1.5v0.5h-1.5zM233.5 134h3v0.5h-3zM163.5 134.5h5v0.5h-5zM169 134.5h23v0.5h-23zM192.5 134.5h7v0.5h-7zM201 134.5h14v0.5h-14zM217 134.5h2.5v0.5h-2.5zM224 134.5h2.5v0.5h-2.5zM233.5 134.5h2.5v0.5h-2.5zM162.5 135h20.5v0.5h-20.5zM183.5 135h5.5v0.5h-5.5zM190 135h2v0.5h-2zM192.5 135h8v0.5h-8zM201 135h11v0.5h-11zM212.5 135h2.5v0.5h-2.5zM217 135h2.5v0.5h-2.5zM223.5 135h3v0.5h-3zM233.5 135h2.5v0.5h-2.5zM162.5 135.5h15v0.5h-15zM178 135.5h12.5v0.5h-12.5zM192.5 135.5h17.5v0.5h-17.5zM211.5 135.5h3.5v0.5h-3.5zM215.5 135.5h1v0.5h-1zM217 135.5h2.5v0.5h-2.5zM222 135.5h1v0.5h-1zM223.5 135.5h3.5v0.5h-3.5zM234.5 135.5h1v0.5h-1zM162 136h15.5v0.5h-15.5zM178.5 136h12v0.5h-12zM191 136h1.5v0.5h-1.5zM193 136h1.5v0.5h-1.5zM195 136h14.5v0.5h-14.5zM211 136h8.5v0.5h-8.5zM220 136h7v0.5h-7zM162 136.5h15.5v0.5h-15.5zM178.5 136.5h5.5v0.5h-5.5zM184.5 136.5h24v0.5h-24zM211 136.5h8v0.5h-8zM219.5 136.5h7.5v0.5h-7.5zM162.5 137h15v0.5h-15zM178.5 137h5.5v0.5h-5.5zM184.5 137h24v0.5h-24zM209 137h9.5v0.5h-9.5zM219.5 137h7.5v0.5h-7.5zM228 137h0.5v0.5h-0.5zM234.5 137h2v0.5h-2zM239 137h1.5v0.5h-1.5zM163.5 137.5h13v0.5h-13zM178.5 137.5h5v0.5h-5zM184 137.5h3v0.5h-3zM188 137.5h12.5v0.5h-12.5zM201.5 137.5h17v0.5h-17zM219.5 137.5h10v0.5h-10zM230.5 137.5h1.5v0.5h-1.5zM232.5 137.5h4v0.5h-4zM238.5 137.5h2.5v0.5h-2.5zM164 138h12.5v0.5h-12.5zM178.5 138h9.5v0.5h-9.5zM188.5 138h11.5v0.5h-11.5zM201.5 138h17.5v0.5h-17.5zM220 138h17v0.5h-17zM237.5 138h5v0.5h-5zM164 138.5h2.5v0.5h-2.5zM167 138.5h2.5v0.5h-2.5zM171.5 138.5h1.5v0.5h-1.5zM174 138.5h2.5v0.5h-2.5zM178 138.5h5v0.5h-5zM183.5 138.5h10.5v0.5h-10.5zM194.5 138.5h1.5v0.5h-1.5zM196.5 138.5h4v0.5h-4zM201.5 138.5h35v0.5h-35zM237.5 138.5h5.5v0.5h-5.5zM243.5 138.5h0.5v0.5h-0.5zM167.5 139h1v0.5h-1zM174 139h2.5v0.5h-2.5zM178 139h5v0.5h-5zM184 139h45.5v0.5h-45.5zM230 139h6.5v0.5h-6.5zM237.5 139h7v0.5h-7zM174.5 139.5h1.5v0.5h-1.5zM178 139.5h36.5v0.5h-36.5zM215.5 139.5h8.5v0.5h-8.5zM225 139.5h4.5v0.5h-4.5zM230 139.5h5v0.5h-5zM237.5 139.5h7.5v0.5h-7.5zM178 140h28.5v0.5h-28.5zM207 140h22v0.5h-22zM231 140h5v0.5h-5zM238 140h7v0.5h-7zM178.5 140.5h51v0.5h-51zM231 140.5h5.5v0.5h-5.5zM238 140.5h7v0.5h-7zM180.5 141h18v0.5h-18zM200 141h29.5v0.5h-29.5zM231 141h6v0.5h-6zM238 141h6.5v0.5h-6.5zM182 141.5h16v0.5h-16zM200 141.5h2.5v0.5h-2.5zM203 141.5h34v0.5h-34zM238 141.5h6v0.5h-6zM247.5 141.5h2v0.5h-2zM182.5 142h20v0.5h-20zM203.5 142h33v0.5h-33zM237 142h7v0.5h-7zM247 142h2.5v0.5h-2.5zM184 142.5h18.5v0.5h-18.5zM203 142.5h41.5v0.5h-41.5zM246.5 142.5h3.5v0.5h-3.5zM186.5 143h58.5v0.5h-58.5zM246 143h4v0.5h-4zM188 143.5h21.5v0.5h-21.5zM210.5 143.5h35.5v0.5h-35.5zM246.5 143.5h3v0.5h-3zM191 144h18.5v0.5h-18.5zM211.5 144h17v0.5h-17zM229 144h10v0.5h-10zM239.5 144h9.5v0.5h-9.5zM250.5 144h1v0.5h-1zM191 144.5h8.5v0.5h-8.5zM200 144.5h9.5v0.5h-9.5zM210 144.5h18.5v0.5h-18.5zM229 144.5h18v0.5h-18zM247.5 144.5h0.5v0.5h-0.5zM250 144.5h2.5v0.5h-2.5zM193 145h2v0.5h-2zM196.5 145h3v0.5h-3zM200 145h38.5v0.5h-38.5zM239 145h8.5v0.5h-8.5zM248.5 145h0.5v0.5h-0.5zM249.5 145h3v0.5h-3zM197 145.5h2v0.5h-2zM200.5 145.5h38v0.5h-38zM239 145.5h8v0.5h-8zM247.5 145.5h5.5v0.5h-5.5zM201.5 146h23v0.5h-23zM225 146h28v0.5h-28zM201.5 146.5h23v0.5h-23zM226 146.5h24v0.5h-24zM250.5 146.5h3v0.5h-3zM201.5 147h23v0.5h-23zM225.5 147h19v0.5h-19zM245 147h5v0.5h-5zM250.5 147h2.5v0.5h-2.5zM202 147.5h4v0.5h-4zM206.5 147.5h3.5v0.5h-3.5zM210.5 147.5h13v0.5h-13zM225.5 147.5h19v0.5h-19zM245 147.5h4.5v0.5h-4.5zM251 147.5h2.5v0.5h-2.5zM260.5 147.5h2v0.5h-2zM207 148h3v0.5h-3zM211 148h12.5v0.5h-12.5zM225 148h19.5v0.5h-19.5zM245.5 148h3.5v0.5h-3.5zM251 148h3v0.5h-3zM260 148h3v0.5h-3zM207.5 148.5h2v0.5h-2zM213 148.5h10.5v0.5h-10.5zM224 148.5h8.5v0.5h-8.5zM233 148.5h11.5v0.5h-11.5zM245.5 148.5h8.5v0.5h-8.5zM260 148.5h3v0.5h-3zM208 149h1v0.5h-1zM213 149h19v0.5h-19zM232.5 149h22.5v0.5h-22.5zM260.5 149h2.5v0.5h-2.5zM269 149h1v0.5h-1zM213.5 149.5h18.5v0.5h-18.5zM233 149.5h22.5v0.5h-22.5zM259.5 149.5h3v0.5h-3zM268.5 149.5h2v0.5h-2zM214 150h41.5v0.5h-41.5zM259 150h2v0.5h-2zM268 150h3v0.5h-3zM216.5 150.5h17v0.5h-17zM234.5 150.5h21v0.5h-21zM258.5 150.5h3v0.5h-3zM268 150.5h3v0.5h-3zM218 151h8v0.5h-8zM226.5 151h7.5v0.5h-7.5zM234.5 151h21v0.5h-21zM258.5 151h3v0.5h-3zM268.5 151h2.5v0.5h-2.5zM220.5 151.5h2v0.5h-2zM223 151.5h2.5v0.5h-2.5zM228 151.5h6v0.5h-6zM234.5 151.5h23v0.5h-23zM259 151.5h2.5v0.5h-2.5zM269 151.5h1.5v0.5h-1.5zM223.5 152h1.5v0.5h-1.5zM228.5 152h5v0.5h-5zM235 152h26v0.5h-26zM293.5 152h2v0.5h-2zM230.5 152.5h3v0.5h-3zM235.5 152.5h24.5v0.5h-24.5zM262 152.5h1v0.5h-1zM293 152.5h2.5v0.5h-2.5zM230.5 153h3v0.5h-3zM235 153h25v0.5h-25zM261.5 153h2v0.5h-2zM293 153h3v0.5h-3zM231 153.5h2v0.5h-2zM235.5 153.5h12.5v0.5h-12.5zM248.5 153.5h5v0.5h-5zM254 153.5h6v0.5h-6zM261 153.5h3v0.5h-3zM276 153.5h1.5v0.5h-1.5zM293 153.5h2.5v0.5h-2.5zM235.5 154h4.5v0.5h-4.5zM240.5 154h11v0.5h-11zM253 154h7v0.5h-7zM261 154h3v0.5h-3zM275.5 154h2.5v0.5h-2.5zM293.5 154h2v0.5h-2zM238 154.5h1.5v0.5h-1.5zM241 154.5h10.5v0.5h-10.5zM252.5 154.5h7.5v0.5h-7.5zM261 154.5h2.5v0.5h-2.5zM275.5 154.5h2.5v0.5h-2.5zM241.5 155h10v0.5h-10zM252 155h3v0.5h-3zM255.5 155h5.5v0.5h-5.5zM261.5 155h1.5v0.5h-1.5zM275.5 155h2.5v0.5h-2.5zM242.5 155.5h7.5v0.5h-7.5zM251.5 155.5h10v0.5h-10zM276 155.5h2v0.5h-2zM243 156h2v0.5h-2zM245.5 156h4v0.5h-4zM251.5 156h10v0.5h-10zM245.5 156.5h3v0.5h-3zM251.5 156.5h10v0.5h-10zM281.5 156.5h2v0.5h-2zM251.5 157h5.5v0.5h-5.5zM259 157h2v0.5h-2zM281 157h2.5v0.5h-2.5zM252 157.5h1v0.5h-1zM254.5 157.5h2v0.5h-2zM281 157.5h2.5v0.5h-2.5zM281 158h2.5v0.5h-2.5zM281.5 158.5h2v0.5h-2zM263 159h1.5v0.5h-1.5zM262.5 159.5h2.5v0.5h-2.5zM257 160h1.5v0.5h-1.5zM260.5 160h4.5v0.5h-4.5zM250 160.5h1v0.5h-1zM252.5 160.5h1.5v0.5h-1.5zM255 160.5h4v0.5h-4zM260.5 160.5h4.5v0.5h-4.5zM247.5 161h1.5v0.5h-1.5zM249.5 161h2v0.5h-2zM252 161h7v0.5h-7zM260.5 161h5v0.5h-5zM246.5 161.5h12.5v0.5h-12.5zM260.5 161.5h5v0.5h-5zM245.5 162h13v0.5h-13zM260.5 162h2v0.5h-2zM263 162h2.5v0.5h-2.5zM238 162.5h1.5v0.5h-1.5zM241.5 162.5h1v0.5h-1zM245 162.5h13v0.5h-13zM263 162.5h2v0.5h-2zM236 163h4v0.5h-4zM241 163h2v0.5h-2zM244 163h14v0.5h-14zM264 163h0.5v0.5h-0.5zM231.5 163.5h1.5v0.5h-1.5zM235 163.5h23.5v0.5h-23.5zM260.5 163.5h2v0.5h-2zM263 163.5h2v0.5h-2zM229 164h1.5v0.5h-1.5zM231 164h2.5v0.5h-2.5zM234.5 164h5.5v0.5h-5.5zM240.5 164h18v0.5h-18zM260.5 164h2v0.5h-2zM263 164h2.5v0.5h-2.5zM226.5 164.5h1v0.5h-1zM228.5 164.5h5.5v0.5h-5.5zM234.5 164.5h20v0.5h-20zM255 164.5h3.5v0.5h-3.5zM260 164.5h5.5v0.5h-5.5zM226 165h2v0.5h-2zM228.5 165h5.5v0.5h-5.5zM234.5 165h6v0.5h-6zM241 165h14.5v0.5h-14.5zM256 165h2.5v0.5h-2.5zM260 165h6v0.5h-6zM221 165.5h3v0.5h-3zM224.5 165.5h6.5v0.5h-6.5zM231.5 165.5h2v0.5h-2zM235 165.5h5.5v0.5h-5.5zM241 165.5h14.5v0.5h-14.5zM256.5 165.5h1.5v0.5h-1.5zM260.5 165.5h2v0.5h-2zM263 165.5h3v0.5h-3zM220 166h13v0.5h-13zM235 166h20.5v0.5h-20.5zM256 166h2.5v0.5h-2.5zM261 166h1v0.5h-1zM263.5 166h2.5v0.5h-2.5zM219.5 166.5h10.5v0.5h-10.5zM230.5 166.5h3v0.5h-3zM235.5 166.5h23v0.5h-23zM263.5 166.5h2v0.5h-2zM213 167h2v0.5h-2zM217.5 167h1v0.5h-1zM219 167h15v0.5h-15zM236 167h17v0.5h-17zM253.5 167h1.5v0.5h-1.5zM255.5 167h3v0.5h-3zM212 167.5h3v0.5h-3zM217 167.5h12.5v0.5h-12.5zM230.5 167.5h4.5v0.5h-4.5zM236 167.5h17v0.5h-17zM255 167.5h4v0.5h-4zM296 167.5h1v0.5h-1zM211.5 168h4v0.5h-4zM216.5 168h7v0.5h-7zM224 168h3v0.5h-3zM228 168h1v0.5h-1zM230 168h21.5v0.5h-21.5zM254.5 168h4.5v0.5h-4.5zM295 168h2.5v0.5h-2.5zM210 168.5h5v0.5h-5zM216.5 168.5h11v0.5h-11zM230 168.5h21.5v0.5h-21.5zM254 168.5h4.5v0.5h-4.5zM295 168.5h3v0.5h-3zM203 169h0.5v0.5h-0.5zM206 169h2v0.5h-2zM209.5 169h5v0.5h-5zM216.5 169h3.5v0.5h-3.5zM221 169h6.5v0.5h-6.5zM228 169h1v0.5h-1zM230 169h13.5v0.5h-13.5zM244 169h7v0.5h-7zM254 169h4v0.5h-4zM295 169h3v0.5h-3zM202 169.5h2v0.5h-2zM205.5 169.5h3v0.5h-3zM209.5 169.5h4v0.5h-4zM217 169.5h3v0.5h-3zM221 169.5h8.5v0.5h-8.5zM230 169.5h13v0.5h-13zM244.5 169.5h6v0.5h-6zM254.5 169.5h2v0.5h-2zM295 169.5h2.5v0.5h-2.5zM200 170h4.5v0.5h-4.5zM205.5 170h3v0.5h-3zM209.5 170h6.5v0.5h-6.5zM217 170h3.5v0.5h-3.5zM221.5 170h8.5v0.5h-8.5zM230.5 170h12v0.5h-12zM243.5 170h7v0.5h-7zM255 170h1v0.5h-1zM295.5 170h1.5v0.5h-1.5zM197.5 170.5h1.5v0.5h-1.5zM199.5 170.5h5v0.5h-5zM205.5 170.5h3.5v0.5h-3.5zM209.5 170.5h7v0.5h-7zM217.5 170.5h3.5v0.5h-3.5zM222 170.5h19.5v0.5h-19.5zM243 170.5h7.5v0.5h-7.5zM256 170.5h1.5v0.5h-1.5zM195 171h1.5v0.5h-1.5zM197 171h19.5v0.5h-19.5zM218 171h3v0.5h-3zM223 171h6.5v0.5h-6.5zM230 171h12v0.5h-12zM243 171h7.5v0.5h-7.5zM251.5 171h1.5v0.5h-1.5zM255.5 171h2.5v0.5h-2.5zM193 171.5h23v0.5h-23zM216.5 171.5h5.5v0.5h-5.5zM223 171.5h6v0.5h-6zM229.5 171.5h12.5v0.5h-12.5zM242.5 171.5h3.5v0.5h-3.5zM247 171.5h3v0.5h-3zM251 171.5h2.5v0.5h-2.5zM255 171.5h3v0.5h-3zM192.5 172h36v0.5h-36zM229 172h13v0.5h-13zM242.5 172h3v0.5h-3zM247 172h2.5v0.5h-2.5zM251 172h2.5v0.5h-2.5zM255 172h3v0.5h-3zM188.5 172.5h2v0.5h-2zM192.5 172.5h18v0.5h-18zM211 172.5h1.5v0.5h-1.5zM213.5 172.5h1.5v0.5h-1.5zM215.5 172.5h26.5v0.5h-26.5zM242.5 172.5h3v0.5h-3zM247 172.5h6.5v0.5h-6.5zM255.5 172.5h2.5v0.5h-2.5zM187.5 173h3.5v0.5h-3.5zM191.5 173h8v0.5h-8zM200 173h11v0.5h-11zM215.5 173h26.5v0.5h-26.5zM243 173h2v0.5h-2zM247.5 173h6v0.5h-6zM255 173h3v0.5h-3zM187 173.5h13v0.5h-13zM200.5 173.5h10.5v0.5h-10.5zM216 173.5h6v0.5h-6zM223 173.5h18.5v0.5h-18.5zM243.5 173.5h0.5v0.5h-0.5zM248.5 173.5h5v0.5h-5zM255 173.5h3v0.5h-3zM185 174h0.5v0.5h-0.5zM187 174h13v0.5h-13zM200.5 174h4v0.5h-4zM205.5 174h2v0.5h-2zM208 174h3v0.5h-3zM215 174h0.5v0.5h-0.5zM216 174h4v0.5h-4zM221 174h0.5v0.5h-0.5zM223 174h18.5v0.5h-18.5zM244 174h2.5v0.5h-2.5zM248.5 174h5v0.5h-5zM255 174h2.5v0.5h-2.5zM180.5 174.5h1v0.5h-1zM184 174.5h2.5v0.5h-2.5zM187 174.5h13v0.5h-13zM200.5 174.5h4v0.5h-4zM205 174.5h2v0.5h-2zM208 174.5h3v0.5h-3zM212 174.5h1v0.5h-1zM214 174.5h8v0.5h-8zM222.5 174.5h4.5v0.5h-4.5zM227.5 174.5h14.5v0.5h-14.5zM243.5 174.5h9v0.5h-9zM255.5 174.5h2v0.5h-2zM180 175h2v0.5h-2zM183 175h3.5v0.5h-3.5zM187.5 175h12.5v0.5h-12.5zM200.5 175h3.5v0.5h-3.5zM205 175h2.5v0.5h-2.5zM208 175h2.5v0.5h-2.5zM211 175h16v0.5h-16zM227.5 175h14.5v0.5h-14.5zM243.5 175h8v0.5h-8zM179.5 175.5h7v0.5h-7zM189.5 175.5h10.5v0.5h-10.5zM200.5 175.5h3.5v0.5h-3.5zM205 175.5h2.5v0.5h-2.5zM208 175.5h18.5v0.5h-18.5zM227.5 175.5h10v0.5h-10zM239 175.5h10.5v0.5h-10.5zM250 175.5h2.5v0.5h-2.5zM179.5 176h7.5v0.5h-7.5zM189 176h11v0.5h-11zM200.5 176h3v0.5h-3zM205 176h2.5v0.5h-2.5zM208.5 176h18v0.5h-18zM227 176h10.5v0.5h-10.5zM239.5 176h10v0.5h-10zM250 176h2.5v0.5h-2.5zM179.5 176.5h7.5v0.5h-7.5zM189 176.5h11.5v0.5h-11.5zM201 176.5h2.5v0.5h-2.5zM204.5 176.5h2.5v0.5h-2.5zM208.5 176.5h18v0.5h-18zM227 176.5h12.5v0.5h-12.5zM241 176.5h5.5v0.5h-5.5zM247 176.5h5.5v0.5h-5.5zM174 177h1.5v0.5h-1.5zM179.5 177h7.5v0.5h-7.5zM189 177h11.5v0.5h-11.5zM201 177h2.5v0.5h-2.5zM204 177h2v0.5h-2zM208.5 177h6.5v0.5h-6.5zM216 177h2v0.5h-2zM219 177h4v0.5h-4zM225 177h0.5v0.5h-0.5zM227 177h2.5v0.5h-2.5zM230 177h10v0.5h-10zM241 177h5v0.5h-5zM247.5 177h5v0.5h-5zM172 177.5h4.5v0.5h-4.5zM178.5 177.5h10v0.5h-10zM189 177.5h11.5v0.5h-11.5zM201 177.5h5.5v0.5h-5.5zM208.5 177.5h6v0.5h-6zM219 177.5h5v0.5h-5zM225.5 177.5h0.5v0.5h-0.5zM227 177.5h5.5v0.5h-5.5zM234 177.5h6.5v0.5h-6.5zM241.5 177.5h2.5v0.5h-2.5zM244.5 177.5h0.5v0.5h-0.5zM248.5 177.5h3.5v0.5h-3.5zM171.5 178h5.5v0.5h-5.5zM178.5 178h4v0.5h-4zM183 178h17.5v0.5h-17.5zM201 178h13.5v0.5h-13.5zM219 178h14v0.5h-14zM236 178h4.5v0.5h-4.5zM241 178h2.5v0.5h-2.5zM248.5 178h2.5v0.5h-2.5zM167.5 178.5h1.5v0.5h-1.5zM171 178.5h6v0.5h-6zM178 178.5h4.5v0.5h-4.5zM183 178.5h2.5v0.5h-2.5zM186 178.5h14v0.5h-14zM200.5 178.5h14v0.5h-14zM215 178.5h2v0.5h-2zM219.5 178.5h14v0.5h-14zM236 178.5h9.5v0.5h-9.5zM248.5 178.5h2v0.5h-2zM167 179h2.5v0.5h-2.5zM171 179h14.5v0.5h-14.5zM186 179h31v0.5h-31zM219 179h14.5v0.5h-14.5zM236 179h4.5v0.5h-4.5zM241 179h4.5v0.5h-4.5zM166.5 179.5h47.5v0.5h-47.5zM214.5 179.5h19.5v0.5h-19.5zM237 179.5h1v0.5h-1zM238.5 179.5h2v0.5h-2zM241 179.5h4.5v0.5h-4.5zM165 180h8v0.5h-8zM174 180h30.5v0.5h-30.5zM205 180h7.5v0.5h-7.5zM214.5 180h15.5v0.5h-15.5zM231 180h2.5v0.5h-2.5zM241 180h4.5v0.5h-4.5zM164.5 180.5h8v0.5h-8zM174 180.5h22v0.5h-22zM196.5 180.5h7.5v0.5h-7.5zM205 180.5h7.5v0.5h-7.5zM213 180.5h15v0.5h-15zM231.5 180.5h3v0.5h-3zM241 180.5h4v0.5h-4zM163 181h9.5v0.5h-9.5zM173.5 181h15v0.5h-15zM189 181h3v0.5h-3zM193 181h10.5v0.5h-10.5zM205.5 181h3v0.5h-3zM210 181h2v0.5h-2zM213 181h15v0.5h-15zM232 181h2.5v0.5h-2.5zM242 181h0.5v0.5h-0.5zM162.5 181.5h5.5v0.5h-5.5zM169 181.5h3v0.5h-3zM173 181.5h3.5v0.5h-3.5zM177.5 181.5h10.5v0.5h-10.5zM188.5 181.5h3v0.5h-3zM193 181.5h10.5v0.5h-10.5zM205.5 181.5h3.5v0.5h-3.5zM210 181.5h2v0.5h-2zM213 181.5h15v0.5h-15zM231 181.5h4v0.5h-4zM161.5 182h7v0.5h-7zM169.5 182h2.5v0.5h-2.5zM173 182h3v0.5h-3zM177.5 182h10v0.5h-10zM188 182h3.5v0.5h-3.5zM192 182h11.5v0.5h-11.5zM204.5 182h4.5v0.5h-4.5zM209.5 182h12v0.5h-12zM222 182h5.5v0.5h-5.5zM230.5 182h4v0.5h-4zM161 182.5h4v0.5h-4zM165.5 182.5h3.5v0.5h-3.5zM169.5 182.5h2.5v0.5h-2.5zM173 182.5h3v0.5h-3zM177.5 182.5h5v0.5h-5zM183.5 182.5h3.5v0.5h-3.5zM187.5 182.5h21.5v0.5h-21.5zM209.5 182.5h17v0.5h-17zM230.5 182.5h4v0.5h-4zM161 183h3.5v0.5h-3.5zM166 183h3v0.5h-3zM169.5 183h2.5v0.5h-2.5zM173 183h3v0.5h-3zM177.5 183h9.5v0.5h-9.5zM187.5 183h16v0.5h-16zM204 183h15v0.5h-15zM219.5 183h6.5v0.5h-6.5zM230 183h4v0.5h-4zM161 183.5h3v0.5h-3zM166.5 183.5h2.5v0.5h-2.5zM169.5 183.5h2.5v0.5h-2.5zM173.5 183.5h1.5v0.5h-1.5zM177.5 183.5h44.5v0.5h-44.5zM222.5 183.5h1v0.5h-1zM224 183.5h2v0.5h-2zM230 183.5h3.5v0.5h-3.5zM235.5 183.5h1.5v0.5h-1.5zM160.5 184h3v0.5h-3zM167 184h1.5v0.5h-1.5zM170 184h2v0.5h-2zM176.5 184h18v0.5h-18zM195 184h27v0.5h-27zM225 184h1v0.5h-1zM228 184h1.5v0.5h-1.5zM230.5 184h3.5v0.5h-3.5zM235 184h2.5v0.5h-2.5zM160 184.5h2.5v0.5h-2.5zM170 184.5h2.5v0.5h-2.5zM176 184.5h45.5v0.5h-45.5zM224 184.5h2.5v0.5h-2.5zM227.5 184.5h2.5v0.5h-2.5zM231 184.5h3v0.5h-3zM235 184.5h2.5v0.5h-2.5zM160 185h2.5v0.5h-2.5zM170 185h2.5v0.5h-2.5zM175.5 185h44.5v0.5h-44.5zM220.5 185h1v0.5h-1zM222 185h1.5v0.5h-1.5zM224 185h2.5v0.5h-2.5zM227.5 185h2.5v0.5h-2.5zM231 185h3v0.5h-3zM235 185h2.5v0.5h-2.5zM160 185.5h2.5v0.5h-2.5zM170 185.5h2.5v0.5h-2.5zM175.5 185.5h22.5v0.5h-22.5zM201 185.5h26v0.5h-26zM227.5 185.5h3v0.5h-3zM231.5 185.5h2v0.5h-2zM235.5 185.5h2v0.5h-2zM160.5 186h2v0.5h-2zM168 186h1.5v0.5h-1.5zM170 186h2v0.5h-2zM175 186h22v0.5h-22zM200 186h1v0.5h-1zM202 186h8.5v0.5h-8.5zM212 186h15v0.5h-15zM228 186h3v0.5h-3zM232 186h1v0.5h-1zM167.5 186.5h2.5v0.5h-2.5zM172 186.5h9.5v0.5h-9.5zM183 186.5h14v0.5h-14zM199.5 186.5h10v0.5h-10zM213.5 186.5h13.5v0.5h-13.5zM229 186.5h2.5v0.5h-2.5zM150.5 187h2v0.5h-2zM166 187h4v0.5h-4zM171 187h8v0.5h-8zM179.5 187h1.5v0.5h-1.5zM183 187h14v0.5h-14zM198 187h6.5v0.5h-6.5zM206 187h3v0.5h-3zM210 187h1.5v0.5h-1.5zM214 187h5.5v0.5h-5.5zM220 187h7.5v0.5h-7.5zM228.5 187h3v0.5h-3zM150 187.5h2.5v0.5h-2.5zM165.5 187.5h4.5v0.5h-4.5zM170.5 187.5h8.5v0.5h-8.5zM179.5 187.5h1.5v0.5h-1.5zM183.5 187.5h7v0.5h-7zM191 187.5h6v0.5h-6zM197.5 187.5h7v0.5h-7zM205.5 187.5h6.5v0.5h-6.5zM214.5 187.5h9.5v0.5h-9.5zM224.5 187.5h2.5v0.5h-2.5zM229 187.5h2.5v0.5h-2.5zM150 188h3v0.5h-3zM165 188h17.5v0.5h-17.5zM184.5 188h11.5v0.5h-11.5zM197.5 188h6.5v0.5h-6.5zM205 188h7v0.5h-7zM212.5 188h11v0.5h-11zM225 188h2v0.5h-2zM229.5 188h1.5v0.5h-1.5zM150 188.5h2.5v0.5h-2.5zM165 188.5h3v0.5h-3zM168.5 188.5h14.5v0.5h-14.5zM185 188.5h10.5v0.5h-10.5zM197.5 188.5h5.5v0.5h-5.5zM205 188.5h7v0.5h-7zM212.5 188.5h2v0.5h-2zM215 188.5h8.5v0.5h-8.5zM150.5 189h2v0.5h-2zM165.5 189h2.5v0.5h-2.5zM168.5 189h14.5v0.5h-14.5zM185.5 189h10v0.5h-10zM198 189h5v0.5h-5zM205 189h10v0.5h-10zM215.5 189h1v0.5h-1zM218.5 189h5v0.5h-5zM166 189.5h9.5v0.5h-9.5zM176 189.5h7v0.5h-7zM185.5 189.5h9.5v0.5h-9.5zM198 189.5h5v0.5h-5zM205.5 189.5h5v0.5h-5zM212 189.5h3v0.5h-3zM218.5 189.5h4.5v0.5h-4.5zM160 190h2v0.5h-2zM166 190h7.5v0.5h-7.5zM176 190h7v0.5h-7zM185 190h2.5v0.5h-2.5zM188 190h8.5v0.5h-8.5zM197 190h6v0.5h-6zM207.5 190h0.5v0.5h-0.5zM208.5 190h2.5v0.5h-2.5zM212.5 190h2v0.5h-2zM219 190h3v0.5h-3zM155.5 190.5h1.5v0.5h-1.5zM159.5 190.5h3v0.5h-3zM165.5 190.5h7v0.5h-7zM175.5 190.5h7.5v0.5h-7.5zM184.5 190.5h3v0.5h-3zM188.5 190.5h5v0.5h-5zM194 190.5h2.5v0.5h-2.5zM197 190.5h4v0.5h-4zM201.5 190.5h0.5v0.5h-0.5zM208.5 190.5h2.5v0.5h-2.5zM213 190.5h1v0.5h-1zM214.5 190.5h2v0.5h-2zM220 190.5h0.5v0.5h-0.5zM155 191h2.5v0.5h-2.5zM159.5 191h3v0.5h-3zM165 191h7.5v0.5h-7.5zM173 191h14.5v0.5h-14.5zM189 191h4v0.5h-4zM194 191h2.5v0.5h-2.5zM197 191h3v0.5h-3zM204 191h2v0.5h-2zM208.5 191h3v0.5h-3zM214.5 191h2.5v0.5h-2.5zM155 191.5h3v0.5h-3zM159.5 191.5h3v0.5h-3zM165 191.5h22v0.5h-22zM190 191.5h3.5v0.5h-3.5zM194 191.5h2.5v0.5h-2.5zM197 191.5h3.5v0.5h-3.5zM203.5 191.5h3v0.5h-3zM208.5 191.5h3v0.5h-3zM214 191.5h3v0.5h-3zM153 192h1.5v0.5h-1.5zM155 192h2.5v0.5h-2.5zM160 192h2v0.5h-2zM163 192h1v0.5h-1zM165 192h23v0.5h-23zM190.5 192h12v0.5h-12zM203.5 192h3v0.5h-3zM208.5 192h3v0.5h-3zM213.5 192h3.5v0.5h-3.5zM152.5 192.5h2.5v0.5h-2.5zM155.5 192.5h2v0.5h-2zM162.5 192.5h2v0.5h-2zM165 192.5h7.5v0.5h-7.5zM173 192.5h8v0.5h-8zM182.5 192.5h6v0.5h-6zM190.5 192.5h12.5v0.5h-12.5zM203.5 192.5h3v0.5h-3zM209 192.5h2v0.5h-2zM213 192.5h3.5v0.5h-3.5zM152.5 193h2.5v0.5h-2.5zM156 193h0.5v0.5h-0.5zM162 193h3v0.5h-3zM165.5 193h9.5v0.5h-9.5zM176.5 193h12v0.5h-12zM190.5 193h12.5v0.5h-12.5zM204 193h2v0.5h-2zM213 193h2.5v0.5h-2.5zM152.5 193.5h2.5v0.5h-2.5zM162 193.5h3v0.5h-3zM167 193.5h9v0.5h-9zM177 193.5h8v0.5h-8zM185.5 193.5h3v0.5h-3zM192 193.5h2v0.5h-2zM196 193.5h7v0.5h-7zM213 193.5h2.5v0.5h-2.5zM152.5 194h2.5v0.5h-2.5zM158.5 194h2v0.5h-2zM162 194h2.5v0.5h-2.5zM168 194h8v0.5h-8zM177 194h11v0.5h-11zM192.5 194h1v0.5h-1zM196.5 194h6v0.5h-6zM213 194h2.5v0.5h-2.5zM153 194.5h1.5v0.5h-1.5zM156 194.5h1.5v0.5h-1.5zM158 194.5h2.5v0.5h-2.5zM162.5 194.5h2.5v0.5h-2.5zM167.5 194.5h8.5v0.5h-8.5zM177.5 194.5h11.5v0.5h-11.5zM193 194.5h3v0.5h-3zM198 194.5h3v0.5h-3zM201.5 194.5h0.5v0.5h-0.5zM213.5 194.5h1.5v0.5h-1.5zM155.5 195h5.5v0.5h-5.5zM162 195h3.5v0.5h-3.5zM167 195h10v0.5h-10zM178 195h5.5v0.5h-5.5zM184 195h5v0.5h-5zM193 195h3v0.5h-3zM198.5 195h2.5v0.5h-2.5zM155.5 195.5h5v0.5h-5zM162 195.5h11v0.5h-11zM174 195.5h3.5v0.5h-3.5zM178 195.5h4v0.5h-4zM184 195.5h6v0.5h-6zM193 195.5h3v0.5h-3zM198.5 195.5h3v0.5h-3zM155.5 196h5v0.5h-5zM162 196h11v0.5h-11zM175 196h7v0.5h-7zM183.5 196h8.5v0.5h-8.5zM192.5 196h3.5v0.5h-3.5zM198 196h3.5v0.5h-3.5zM156 196.5h5v0.5h-5zM162 196.5h9.5v0.5h-9.5zM175 196.5h7v0.5h-7zM183 196.5h9v0.5h-9zM192.5 196.5h3v0.5h-3zM197.5 196.5h3.5v0.5h-3.5zM156.5 197h4.5v0.5h-4.5zM162.5 197h2v0.5h-2zM165 197h6.5v0.5h-6.5zM175 197h2.5v0.5h-2.5zM178.5 197h4v0.5h-4zM183 197h4v0.5h-4zM188 197h4v0.5h-4zM192.5 197h2.5v0.5h-2.5zM197.5 197h2.5v0.5h-2.5zM157 197.5h4v0.5h-4zM165 197.5h4.5v0.5h-4.5zM175.5 197.5h1.5v0.5h-1.5zM178.5 197.5h8v0.5h-8zM188 197.5h4v0.5h-4zM192.5 197.5h2.5v0.5h-2.5zM197.5 197.5h2.5v0.5h-2.5zM158.5 198h2v0.5h-2zM165.5 198h3.5v0.5h-3.5zM175.5 198h1.5v0.5h-1.5zM179 198h6.5v0.5h-6.5zM189 198h2.5v0.5h-2.5zM197.5 198h2.5v0.5h-2.5zM167 198.5h2.5v0.5h-2.5zM175 198.5h2.5v0.5h-2.5zM180.5 198.5h5v0.5h-5zM198 198.5h1v0.5h-1zM163 199h1.5v0.5h-1.5zM167 199h2.5v0.5h-2.5zM171 199h2v0.5h-2zM175 199h2.5v0.5h-2.5zM181 199h2v0.5h-2zM183.5 199h1.5v0.5h-1.5zM162.5 199.5h2.5v0.5h-2.5zM167 199.5h2.5v0.5h-2.5zM170 199.5h3.5v0.5h-3.5zM175 199.5h3v0.5h-3zM181.5 199.5h1v0.5h-1zM162.5 200h3v0.5h-3zM167.5 200h1.5v0.5h-1.5zM169.5 200h4v0.5h-4zM175 200h3v0.5h-3zM180.5 200h2.5v0.5h-2.5zM197.5 200h2v0.5h-2zM204.5 200h1.5v0.5h-1.5zM162.5 200.5h4v0.5h-4zM169.5 200.5h3.5v0.5h-3.5zM175.5 200.5h2.5v0.5h-2.5zM180.5 200.5h2.5v0.5h-2.5zM197 200.5h3v0.5h-3zM204 200.5h2.5v0.5h-2.5zM161.5 201h5.5v0.5h-5.5zM169.5 201h4v0.5h-4zM175.5 201h2.5v0.5h-2.5zM180.5 201h3v0.5h-3zM197 201h3v0.5h-3zM204 201h2.5v0.5h-2.5zM149 201.5h1.5v0.5h-1.5zM153 201.5h1v0.5h-1zM161 201.5h6.5v0.5h-6.5zM169.5 201.5h4v0.5h-4zM176 201.5h1.5v0.5h-1.5zM180.5 201.5h3v0.5h-3zM197.5 201.5h2.5v0.5h-2.5zM204 201.5h2.5v0.5h-2.5zM148.5 202h3v0.5h-3zM152.5 202h2v0.5h-2zM156 202h2v0.5h-2zM161 202h7v0.5h-7zM169.5 202h3.5v0.5h-3.5zM181 202h2v0.5h-2zM197.5 202h2v0.5h-2zM204 202h2.5v0.5h-2.5zM148.5 202.5h3v0.5h-3zM152 202.5h6.5v0.5h-6.5zM161.5 202.5h6.5v0.5h-6.5zM169.5 202.5h3.5v0.5h-3.5zM181.5 202.5h1v0.5h-1zM204.5 202.5h1v0.5h-1zM148.5 203h10v0.5h-10zM161.5 203h2v0.5h-2zM164.5 203h8v0.5h-8zM148.5 203.5h10v0.5h-10zM164.5 203.5h7.5v0.5h-7.5zM178.5 203.5h1.5v0.5h-1.5zM148.5 204h6v0.5h-6zM155 204h3v0.5h-3zM162.5 204h1v0.5h-1zM165 204h6.5v0.5h-6.5zM178 204h2.5v0.5h-2.5zM149 204.5h5v0.5h-5zM155.5 204.5h1.5v0.5h-1.5zM161.5 204.5h2.5v0.5h-2.5zM165.5 204.5h6v0.5h-6zM178 204.5h2.5v0.5h-2.5zM150 205h4.5v0.5h-4.5zM157.5 205h2v0.5h-2zM161.5 205h3v0.5h-3zM166.5 205h5.5v0.5h-5.5zM178 205h2.5v0.5h-2.5zM150.5 205.5h4.5v0.5h-4.5zM157 205.5h7.5v0.5h-7.5zM168 205.5h4.5v0.5h-4.5zM178 205.5h2.5v0.5h-2.5zM151 206h4.5v0.5h-4.5zM157 206h7v0.5h-7zM168.5 206h4.5v0.5h-4.5zM178.5 206h1v0.5h-1zM151.5 206.5h4.5v0.5h-4.5zM157 206.5h5v0.5h-5zM162.5 206.5h1v0.5h-1zM169.5 206.5h4v0.5h-4zM152.5 207h4v0.5h-4zM157.5 207h4.5v0.5h-4.5zM170 207h4.5v0.5h-4.5zM152.5 207.5h4.5v0.5h-4.5zM159.5 207.5h2.5v0.5h-2.5zM170.5 207.5h4.5v0.5h-4.5zM153.5 208h4v0.5h-4zM160.5 208h0.5v0.5h-0.5zM170.5 208h4.5v0.5h-4.5zM208.5 208h1.5v0.5h-1.5zM154 208.5h4v0.5h-4zM171 208.5h4v0.5h-4zM208 208.5h2.5v0.5h-2.5zM154.5 209h4v0.5h-4zM172.5 209h2.5v0.5h-2.5zM208 209h2.5v0.5h-2.5zM155 209.5h4v0.5h-4zM173.5 209.5h0.5v0.5h-0.5zM208 209.5h2.5v0.5h-2.5zM155.5 210h4v0.5h-4zM208 210h2.5v0.5h-2.5zM156 210.5h4.5v0.5h-4.5zM208.5 210.5h1v0.5h-1zM156.5 211h4.5v0.5h-4.5zM157 211.5h4.5v0.5h-4.5zM191 211.5h1.5v0.5h-1.5zM158 212h4v0.5h-4zM190.5 212h2.5v0.5h-2.5zM158.5 212.5h4.5v0.5h-4.5zM190 212.5h3v0.5h-3zM159 213h4.5v0.5h-4.5zM190.5 213h2.5v0.5h-2.5zM159.5 213.5h4.5v0.5h-4.5zM190.5 213.5h2v0.5h-2zM160.5 214h4v0.5h-4zM191.5 214h0.5v0.5h-0.5zM196.5 214h2v0.5h-2zM161 214.5h4v0.5h-4zM196.5 214.5h2.5v0.5h-2.5zM161 215h4.5v0.5h-4.5zM196.5 215h2.5v0.5h-2.5zM161.5 215.5h4.5v0.5h-4.5zM196.5 215.5h2.5v0.5h-2.5zM162 216h4.5v0.5h-4.5zM197 216h1.5v0.5h-1.5zM162.5 216.5h4v0.5h-4zM163.5 217h2.5v0.5h-2.5zM164 217.5h2v0.5h-2zM167 218.5h2v0.5h-2zM166.5 219h2.5v0.5h-2.5zM166.5 219.5h2.5v0.5h-2.5zM166.5 220h2.5v0.5h-2.5zM175 220h1v0.5h-1zM167 220.5h2v0.5h-2zM174.5 220.5h2v0.5h-2zM174 221h3v0.5h-3zM174 221.5h3v0.5h-3zM174 222h2.5v0.5h-2.5zM174.5 222.5h1.5v0.5h-1.5zM180.5 232h2v0.5h-2zM180 232.5h3v0.5h-3zM180 233h3v0.5h-3zM180.5 233.5h2.5v0.5h-2.5zM180.5 234h2v0.5h-2z" fill="#f00"/>
<path d="M80.8 38.0V280.7M121.1 38.0V280.7M161.4 38.0V280.7M201.7 38.0V280.7M242.0 38.0V280.7M282.3 38.0V280.7M322.6 38.0V280.7M362.9 38.0V280.7M70.0 271.4H374.0M70.0 248.9H374.0M70.0 226.4H374.0M70.0 203.9H374.0M70.0 181.4H374.0M70.0 158.9H374.0M70.0 136.4H374.0M70.0 113.9H374.0M70.0 91.4H374.0M70.0 68.9H374.0M70.0 46.4H374.0" stroke="#b4b4b4" stroke-width="1" stroke-dasharray="1 1" fill="none"/>
<rect x="70.0" y="38.0" width="304.0" height="242.7" fill="none" stroke="#000" stroke-width="1.7"/>
<path d="M59.0 271.4H70.0M59.0 215.2H70.0M59.0 158.9H70.0M59.0 102.7H70.0M59.0 46.4H70.0M80.8 280.7V291.2M121.1 280.7V291.2M161.4 280.7V291.2M201.7 280.7V291.2M242.0 280.7V291.2M282.3 280.7V291.2M322.6 280.7V291.2M362.9 280.7V291.2" stroke="#000" stroke-width="1.7" fill="none"/>
<text transform="translate(43.3,271.4) rotate(-90)" x="0" y="5.8" text-anchor="middle" class="t16">−10</text>
<text transform="translate(43.3,215.2) rotate(-90)" x="0" y="5.8" text-anchor="middle" class="t16">−5</text>
<text transform="translate(43.3,158.9) rotate(-90)" x="0" y="5.8" text-anchor="middle" class="t16">0</text>
<text transform="translate(43.3,102.7) rotate(-90)" x="0" y="5.8" text-anchor="middle" class="t16">5</text>
<text transform="translate(43.3,46.4) rotate(-90)" x="0" y="5.8" text-anchor="middle" class="t16">10</text>
<text x="80.8" y="317.8" text-anchor="middle" class="t16">−1</text>
<text x="121.1" y="317.8" text-anchor="middle" class="t16">0</text>
<text x="161.4" y="317.8" text-anchor="middle" class="t16">1</text>
<text x="201.7" y="317.8" text-anchor="middle" class="t16">2</text>
<text x="242.0" y="317.8" text-anchor="middle" class="t16">3</text>
<text x="282.3" y="317.8" text-anchor="middle" class="t16">4</text>
<text x="322.6" y="317.8" text-anchor="middle" class="t16">5</text>
<text x="362.9" y="317.8" text-anchor="middle" class="t16">6</text>
<text x="222.0" y="358.6" text-anchor="middle" class="t17">log10TPM in the higher group</text>
 <text transform="translate(12.8,159.0) rotate(-90)" x="0" y="0" text-anchor="middle" class="t17">log2FC</text>
<text x="220.5" y="14.7" text-anchor="middle" class="tb">CEL−Seq2/C1</text>
<text x="1.0" y="19.3" class="lab">a</text>
<circle cx="225.3" cy="54.7" r="2" fill="#f00"/><circle cx="225.3" cy="71" r="2" fill="#000"/>
<text x="239" y="59" class="t13">FDR&lt;0.05 (3627)</text>
<text x="239" y="75.6" class="t13">FDR &gt;= 0.05 (14979)</text><path d="M587.5 110h2v0.5h-2zM587 110.5h2.5v0.5h-2.5zM587 111h2.5v0.5h-2.5zM587 111.5h2.5v0.5h-2.5zM587.5 112h1.5v0.5h-1.5zM580.5 113h2v0.5h-2zM580 113.5h2.5v0.5h-2.5zM580 114h2.5v0.5h-2.5zM580 114.5h2.5v0.5h-2.5zM578 115h1.5v0.5h-1.5zM580.5 115h2v0.5h-2zM577.5 115.5h2.5v0.5h-2.5zM577 116h3v0.5h-3zM577 116.5h3v0.5h-3zM577.5 117h2.5v0.5h-2.5zM578 117.5h1.5v0.5h-1.5zM572.5 119.5h1.5v0.5h-1.5zM608.5 119.5h2v0.5h-2zM572 120h2.5v0.5h-2.5zM583 120h0.5v0.5h-0.5zM608 120h3v0.5h-3zM564 120.5h1.5v0.5h-1.5zM571.5 120.5h3.5v0.5h-3.5zM582 120.5h2v0.5h-2zM608 120.5h3v0.5h-3zM563.5 121h2.5v0.5h-2.5zM571.5 121h3.5v0.5h-3.5zM581.5 121h3v0.5h-3zM608.5 121h2.5v0.5h-2.5zM563.5 121.5h2.5v0.5h-2.5zM568.5 121.5h0.5v0.5h-0.5zM570.5 121.5h4v0.5h-4zM581 121.5h3.5v0.5h-3.5zM608.5 121.5h2v0.5h-2zM563 122h3v0.5h-3zM568 122h6v0.5h-6zM580.5 122h4v0.5h-4zM563 122.5h3v0.5h-3zM567.5 122.5h6v0.5h-6zM579.5 122.5h4.5v0.5h-4.5zM563 123h3v0.5h-3zM567.5 123h5v0.5h-5zM579 123h4.5v0.5h-4.5zM563 123.5h3v0.5h-3zM567.5 123.5h5v0.5h-5zM578.5 123.5h4v0.5h-4zM563 124h3v0.5h-3zM567.5 124h4v0.5h-4zM578 124h4v0.5h-4zM563 124.5h3v0.5h-3zM567.5 124.5h3.5v0.5h-3.5zM577.5 124.5h4v0.5h-4zM563 125h3v0.5h-3zM568 125h2.5v0.5h-2.5zM577 125h4v0.5h-4zM563 125.5h3v0.5h-3zM567.5 125.5h3v0.5h-3zM576.5 125.5h4v0.5h-4zM563 126h3v0.5h-3zM567.5 126h3v0.5h-3zM575.5 126h4.5v0.5h-4.5zM563 126.5h3v0.5h-3zM567.5 126.5h3v0.5h-3zM575 126.5h4v0.5h-4zM581.5 126.5h2v0.5h-2zM559 127h1v0.5h-1zM563 127h3v0.5h-3zM567.5 127h3v0.5h-3zM574.5 127h4v0.5h-4zM581 127h3v0.5h-3zM558.5 127.5h2v0.5h-2zM562.5 127.5h3.5v0.5h-3.5zM567.5 127.5h3v0.5h-3zM574 127.5h3.5v0.5h-3.5zM580.5 127.5h3.5v0.5h-3.5zM558 128h3v0.5h-3zM563 128h3v0.5h-3zM567.5 128h3v0.5h-3zM573 128h4.5v0.5h-4.5zM580 128h4v0.5h-4zM558 128.5h3v0.5h-3zM563 128.5h3v0.5h-3zM567.5 128.5h3v0.5h-3zM573 128.5h4v0.5h-4zM579.5 128.5h4v0.5h-4zM591.5 128.5h1.5v0.5h-1.5zM558.5 129h2.5v0.5h-2.5zM563.5 129h2.5v0.5h-2.5zM567.5 129h3v0.5h-3zM572.5 129h4v0.5h-4zM577 129h6v0.5h-6zM583.5 129h1v0.5h-1zM591 129h2.5v0.5h-2.5zM558.5 129.5h2.5v0.5h-2.5zM563.5 129.5h2.5v0.5h-2.5zM567.5 129.5h3v0.5h-3zM571.5 129.5h0.5v0.5h-0.5zM573 129.5h12v0.5h-12zM586 129.5h1.5v0.5h-1.5zM591 129.5h2.5v0.5h-2.5zM558.5 130h2.5v0.5h-2.5zM563.5 130h2.5v0.5h-2.5zM568 130h2v0.5h-2zM571 130h17v0.5h-17zM591 130h3.5v0.5h-3.5zM558.5 130.5h2.5v0.5h-2.5zM563 130.5h3v0.5h-3zM567.5 130.5h21v0.5h-21zM589.5 130.5h1v0.5h-1zM591 130.5h4v0.5h-4zM558 131h3v0.5h-3zM563 131h3v0.5h-3zM567.5 131h27.5v0.5h-27.5zM552.5 131.5h1v0.5h-1zM558 131.5h3v0.5h-3zM563 131.5h3v0.5h-3zM567.5 131.5h27.5v0.5h-27.5zM551.5 132h2.5v0.5h-2.5zM558.5 132h2.5v0.5h-2.5zM563 132h3v0.5h-3zM567.5 132h30v0.5h-30zM551.5 132.5h3v0.5h-3zM558.5 132.5h2.5v0.5h-2.5zM563 132.5h3v0.5h-3zM567.5 132.5h31v0.5h-31zM599.5 132.5h1v0.5h-1zM551.5 133h3v0.5h-3zM558.5 133h2.5v0.5h-2.5zM563 133h3v0.5h-3zM567 133h34v0.5h-34zM551.5 133.5h3v0.5h-3zM558.5 133.5h2.5v0.5h-2.5zM563 133.5h3v0.5h-3zM566.5 133.5h35v0.5h-35zM551.5 134h2.5v0.5h-2.5zM558.5 134h2.5v0.5h-2.5zM563 134h39v0.5h-39zM551.5 134.5h2.5v0.5h-2.5zM558 134.5h3v0.5h-3zM563 134.5h7v0.5h-7zM570.5 134.5h32v0.5h-32zM551.5 135h3v0.5h-3zM558.5 135h2.5v0.5h-2.5zM563 135h3v0.5h-3zM566.5 135h36v0.5h-36zM551.5 135.5h3v0.5h-3zM558 135.5h3v0.5h-3zM563.5 135.5h2.5v0.5h-2.5zM566.5 135.5h3.5v0.5h-3.5zM570.5 135.5h32.5v0.5h-32.5zM552 136h2v0.5h-2zM558 136h3.5v0.5h-3.5zM563 136h3v0.5h-3zM567.5 136h35.5v0.5h-35.5zM552.5 136.5h1v0.5h-1zM558.5 136.5h2.5v0.5h-2.5zM563 136.5h3v0.5h-3zM567.5 136.5h39.5v0.5h-39.5zM552 137h1.5v0.5h-1.5zM558.5 137h2.5v0.5h-2.5zM563 137h3v0.5h-3zM567.5 137h41v0.5h-41zM551.5 137.5h2.5v0.5h-2.5zM558.5 137.5h2.5v0.5h-2.5zM563 137.5h3v0.5h-3zM567.5 137.5h41v0.5h-41zM551.5 138h2.5v0.5h-2.5zM558.5 138h2.5v0.5h-2.5zM563 138h3v0.5h-3zM567.5 138h41.5v0.5h-41.5zM551.5 138.5h3v0.5h-3zM558.5 138.5h2.5v0.5h-2.5zM563 138.5h2.5v0.5h-2.5zM567.5 138.5h43v0.5h-43zM551.5 139h3v0.5h-3zM558.5 139h2.5v0.5h-2.5zM563 139h3v0.5h-3zM567.5 139h44.5v0.5h-44.5zM551.5 139.5h3v0.5h-3zM558.5 139.5h2.5v0.5h-2.5zM563 139.5h3v0.5h-3zM567.5 139.5h46v0.5h-46zM551.5 140h3v0.5h-3zM558.5 140h2.5v0.5h-2.5zM563.5 140h2.5v0.5h-2.5zM568 140h46v0.5h-46zM551 140.5h3v0.5h-3zM558.5 140.5h2.5v0.5h-2.5zM563 140.5h3v0.5h-3zM567.5 140.5h46.5v0.5h-46.5zM625 140.5h2v0.5h-2zM551.5 141h3v0.5h-3zM558.5 141h2.5v0.5h-2.5zM563 141h3v0.5h-3zM567.5 141h46.5v0.5h-46.5zM624.5 141h2.5v0.5h-2.5zM551.5 141.5h3v0.5h-3zM558 141.5h3v0.5h-3zM563 141.5h3v0.5h-3zM567.5 141.5h49.5v0.5h-49.5zM624.5 141.5h3v0.5h-3zM551.5 142h3v0.5h-3zM558 142h3v0.5h-3zM563 142h3v0.5h-3zM567.5 142h50.5v0.5h-50.5zM624.5 142h3v0.5h-3zM551.5 142.5h2.5v0.5h-2.5zM558.5 142.5h2.5v0.5h-2.5zM563 142.5h3v0.5h-3zM567.5 142.5h51.5v0.5h-51.5zM625 142.5h2v0.5h-2zM551 143h3.5v0.5h-3.5zM558 143h3v0.5h-3zM563 143h3v0.5h-3zM567.5 143h53.5v0.5h-53.5zM551.5 143.5h3v0.5h-3zM558 143.5h3v0.5h-3zM563 143.5h3v0.5h-3zM567.5 143.5h54v0.5h-54zM551.5 144h3v0.5h-3zM558.5 144h2.5v0.5h-2.5zM563 144h3v0.5h-3zM567.5 144h54v0.5h-54zM551.5 144.5h3v0.5h-3zM558 144.5h3.5v0.5h-3.5zM563 144.5h3v0.5h-3zM567.5 144.5h54.5v0.5h-54.5zM551.5 145h3v0.5h-3zM558.5 145h3v0.5h-3zM563 145h3v0.5h-3zM567.5 145h57v0.5h-57zM551.5 145.5h3v0.5h-3zM558.5 145.5h2.5v0.5h-2.5zM563 145.5h3v0.5h-3zM567.5 145.5h58v0.5h-58zM551.5 146h3v0.5h-3zM558 146h3.5v0.5h-3.5zM563 146h3v0.5h-3zM567.5 146h58.5v0.5h-58.5zM551.5 146.5h2.5v0.5h-2.5zM558 146.5h3v0.5h-3zM563 146.5h3v0.5h-3zM567.5 146.5h61v0.5h-61zM551.5 147h2.5v0.5h-2.5zM558 147h3v0.5h-3zM563 147h3v0.5h-3zM567.5 147h62v0.5h-62zM551.5 147.5h3v0.5h-3zM558.5 147.5h2.5v0.5h-2.5zM563 147.5h3v0.5h-3zM567.5 147.5h63.5v0.5h-63.5zM551.5 148h2.5v0.5h-2.5zM558.5 148h2.5v0.5h-2.5zM563.5 148h2v0.5h-2zM567.5 148h65.5v0.5h-65.5zM551.5 148.5h2.5v0.5h-2.5zM558 148.5h3v0.5h-3zM563.5 148.5h2.5v0.5h-2.5zM567.5 148.5h66v0.5h-66zM634 148.5h2.5v0.5h-2.5zM642 148.5h1.5v0.5h-1.5zM649 148.5h1.5v0.5h-1.5zM551.5 149h2.5v0.5h-2.5zM558 149h3v0.5h-3zM563 149h3v0.5h-3zM567.5 149h69.5v0.5h-69.5zM641.5 149h2.5v0.5h-2.5zM648.5 149h2.5v0.5h-2.5zM551.5 149.5h3v0.5h-3zM558 149.5h3v0.5h-3zM563 149.5h3v0.5h-3zM567.5 149.5h71.5v0.5h-71.5zM641.5 149.5h3v0.5h-3zM648 149.5h3v0.5h-3zM551.5 150h3v0.5h-3zM558 150h3v0.5h-3zM563 150h3v0.5h-3zM567.5 150h72v0.5h-72zM641.5 150h2.5v0.5h-2.5zM648 150h3v0.5h-3zM540 150.5h1.5v0.5h-1.5zM551.5 150.5h2.5v0.5h-2.5zM558 150.5h3v0.5h-3zM563 150.5h3v0.5h-3zM567.5 150.5h73v0.5h-73zM641 150.5h3v0.5h-3zM648.5 150.5h2v0.5h-2zM539.5 151h2.5v0.5h-2.5zM551.5 151h2.5v0.5h-2.5zM555.5 151h2v0.5h-2zM558 151h3v0.5h-3zM563 151h3v0.5h-3zM567.5 151h77.5v0.5h-77.5zM649 151h1v0.5h-1zM539.5 151.5h2.5v0.5h-2.5zM551.5 151.5h3v0.5h-3zM555 151.5h3v0.5h-3zM558.5 151.5h2.5v0.5h-2.5zM563 151.5h2.5v0.5h-2.5zM567.5 151.5h80.5v0.5h-80.5zM648.5 151.5h1v0.5h-1zM539.5 152h2.5v0.5h-2.5zM551.5 152h3v0.5h-3zM555 152h3v0.5h-3zM558.5 152h2.5v0.5h-2.5zM563 152h2.5v0.5h-2.5zM567.5 152h82.5v0.5h-82.5zM539.5 152.5h2.5v0.5h-2.5zM551.5 152.5h3v0.5h-3zM555 152.5h3v0.5h-3zM558.5 152.5h2.5v0.5h-2.5zM563 152.5h2.5v0.5h-2.5zM567.5 152.5h84v0.5h-84zM540.5 153h0.5v0.5h-0.5zM551.5 153h2.5v0.5h-2.5zM555 153h3v0.5h-3zM558.5 153h2.5v0.5h-2.5zM563.5 153h2v0.5h-2zM567.5 153h84v0.5h-84zM652 153h2v0.5h-2zM551.5 153.5h2.5v0.5h-2.5zM555 153.5h3v0.5h-3zM558.5 153.5h2.5v0.5h-2.5zM563 153.5h3v0.5h-3zM567.5 153.5h88.5v0.5h-88.5zM551.5 154h2.5v0.5h-2.5zM555 154h3v0.5h-3zM558.5 154h2.5v0.5h-2.5zM563 154h3v0.5h-3zM567.5 154h91.5v0.5h-91.5zM681.5 154h1.5v0.5h-1.5zM551.5 154.5h3v0.5h-3zM555 154.5h3v0.5h-3zM558.5 154.5h2.5v0.5h-2.5zM563 154.5h3v0.5h-3zM567.5 154.5h93v0.5h-93zM661.5 154.5h1v0.5h-1zM681 154.5h2.5v0.5h-2.5zM551.5 155h3v0.5h-3zM555 155h2.5v0.5h-2.5zM558.5 155h2.5v0.5h-2.5zM563.5 155h2.5v0.5h-2.5zM567.5 155h95.5v0.5h-95.5zM663.5 155h0.5v0.5h-0.5zM664.5 155h1.5v0.5h-1.5zM681 155h3v0.5h-3zM544 155.5h1.5v0.5h-1.5zM552 155.5h2v0.5h-2zM555 155.5h2.5v0.5h-2.5zM558.5 155.5h2.5v0.5h-2.5zM563.5 155.5h2v0.5h-2zM567.5 155.5h100v0.5h-100zM681 155.5h2.5v0.5h-2.5zM687.5 155.5h2v0.5h-2zM543.5 156h2.5v0.5h-2.5zM552.5 156h1v0.5h-1zM555 156h3v0.5h-3zM558.5 156h3v0.5h-3zM567.5 156h104v0.5h-104zM679.5 156h4v0.5h-4zM687.5 156h2.5v0.5h-2.5zM543.5 156.5h2.5v0.5h-2.5zM555 156.5h3v0.5h-3zM558.5 156.5h3v0.5h-3zM567.5 156.5h107v0.5h-107zM679 156.5h4v0.5h-4zM687.5 156.5h2.5v0.5h-2.5zM543 157h3v0.5h-3zM555 157h3v0.5h-3zM558.5 157h2.5v0.5h-2.5zM563.5 157h2v0.5h-2zM567.5 157h110v0.5h-110zM679 157h3v0.5h-3zM687.5 157h2.5v0.5h-2.5zM543.5 157.5h2.5v0.5h-2.5zM555 157.5h2.5v0.5h-2.5zM558.5 157.5h2.5v0.5h-2.5zM563.5 157.5h2.5v0.5h-2.5zM567.5 157.5h110.5v0.5h-110.5zM679 157.5h3v0.5h-3zM688 157.5h1.5v0.5h-1.5zM693.5 157.5h1.5v0.5h-1.5zM543.5 158h3v0.5h-3zM555 158h3v0.5h-3zM558.5 158h2.5v0.5h-2.5zM563 158h3v0.5h-3zM567.5 158h111v0.5h-111zM679.5 158h2v0.5h-2zM693 158h2.5v0.5h-2.5zM543.5 158.5h2.5v0.5h-2.5zM551.5 158.5h2.5v0.5h-2.5zM555 158.5h3v0.5h-3zM558.5 158.5h2.5v0.5h-2.5zM563 158.5h3v0.5h-3zM567.5 158.5h111v0.5h-111zM689.5 158.5h1.5v0.5h-1.5zM693 158.5h2.5v0.5h-2.5zM543.5 159h2.5v0.5h-2.5zM551.5 159h2.5v0.5h-2.5zM555 159h3v0.5h-3zM558.5 159h2.5v0.5h-2.5zM563 159h3v0.5h-3zM567.5 159h111v0.5h-111zM689 159h2.5v0.5h-2.5zM693 159h2.5v0.5h-2.5zM543.5 159.5h2.5v0.5h-2.5zM551.5 159.5h2.5v0.5h-2.5zM555 159.5h3v0.5h-3zM558.5 159.5h2.5v0.5h-2.5zM563 159.5h3v0.5h-3zM567.5 159.5h110.5v0.5h-110.5zM689 159.5h2.5v0.5h-2.5zM693 159.5h2.5v0.5h-2.5zM543.5 160h2.5v0.5h-2.5zM551 160h3v0.5h-3zM555 160h3v0.5h-3zM558.5 160h2.5v0.5h-2.5zM563 160h3v0.5h-3zM567.5 160h110.5v0.5h-110.5zM689 160h2.5v0.5h-2.5zM694 160h0.5v0.5h-0.5zM543.5 160.5h2.5v0.5h-2.5zM550.5 160.5h4v0.5h-4zM555 160.5h6v0.5h-6zM563 160.5h3v0.5h-3zM567.5 160.5h110.5v0.5h-110.5zM689 160.5h2.5v0.5h-2.5zM543.5 161h2.5v0.5h-2.5zM550.5 161h4v0.5h-4zM555 161h6v0.5h-6zM563.5 161h2.5v0.5h-2.5zM567.5 161h110v0.5h-110zM689.5 161h1.5v0.5h-1.5zM543.5 161.5h2.5v0.5h-2.5zM550.5 161.5h4v0.5h-4zM555 161.5h6v0.5h-6zM563 161.5h3v0.5h-3zM567.5 161.5h110v0.5h-110zM543.5 162h2.5v0.5h-2.5zM550 162h4.5v0.5h-4.5zM555 162h6v0.5h-6zM563 162h3v0.5h-3zM567.5 162h107v0.5h-107zM675.5 162h1.5v0.5h-1.5zM543 162.5h3v0.5h-3zM550 162.5h4v0.5h-4zM555 162.5h3v0.5h-3zM558.5 162.5h2.5v0.5h-2.5zM563.5 162.5h2.5v0.5h-2.5zM567.5 162.5h107v0.5h-107zM543.5 163h2.5v0.5h-2.5zM550 163h4.5v0.5h-4.5zM555 163h3v0.5h-3zM558.5 163h2.5v0.5h-2.5zM564 163h1.5v0.5h-1.5zM567.5 163h106.5v0.5h-106.5zM543.5 163.5h3v0.5h-3zM550 163.5h4.5v0.5h-4.5zM555 163.5h3v0.5h-3zM558.5 163.5h2.5v0.5h-2.5zM563.5 163.5h2v0.5h-2zM567.5 163.5h101.5v0.5h-101.5zM670 163.5h1v0.5h-1zM543.5 164h2.5v0.5h-2.5zM550 164h4v0.5h-4zM555 164h3v0.5h-3zM559 164h1v0.5h-1zM563 164h3v0.5h-3zM567.5 164h99v0.5h-99zM667 164h1.5v0.5h-1.5zM543.5 164.5h2.5v0.5h-2.5zM550.5 164.5h4v0.5h-4zM555 164.5h3v0.5h-3zM559 164.5h1.5v0.5h-1.5zM563 164.5h3v0.5h-3zM568 164.5h2v0.5h-2zM570.5 164.5h92.5v0.5h-92.5zM663.5 164.5h1v0.5h-1zM543.5 165h2.5v0.5h-2.5zM550.5 165h4v0.5h-4zM555 165h2.5v0.5h-2.5zM558.5 165h2.5v0.5h-2.5zM563 165h3v0.5h-3zM567.5 165h2.5v0.5h-2.5zM570.5 165h92.5v0.5h-92.5zM543.5 165.5h2.5v0.5h-2.5zM550 165.5h4.5v0.5h-4.5zM555 165.5h2.5v0.5h-2.5zM558 165.5h3v0.5h-3zM563 165.5h3v0.5h-3zM567.5 165.5h90.5v0.5h-90.5zM660 165.5h2.5v0.5h-2.5zM679.5 165.5h2v0.5h-2zM543.5 166h3v0.5h-3zM550 166h4.5v0.5h-4.5zM555 166h2.5v0.5h-2.5zM558 166h3v0.5h-3zM563 166h3v0.5h-3zM567.5 166h85.5v0.5h-85.5zM654 166h3v0.5h-3zM679.5 166h2.5v0.5h-2.5zM543.5 166.5h3v0.5h-3zM550 166.5h4.5v0.5h-4.5zM555.5 166.5h2v0.5h-2zM558.5 166.5h3v0.5h-3zM563 166.5h3v0.5h-3zM567.5 166.5h83v0.5h-83zM654.5 166.5h2.5v0.5h-2.5zM679.5 166.5h2.5v0.5h-2.5zM543 167h3.5v0.5h-3.5zM550 167h4.5v0.5h-4.5zM555 167h3v0.5h-3zM558.5 167h3v0.5h-3zM563 167h3v0.5h-3zM567.5 167h80v0.5h-80zM648 167h2v0.5h-2zM654.5 167h2.5v0.5h-2.5zM679.5 167h2.5v0.5h-2.5zM543.5 167.5h3v0.5h-3zM550 167.5h4.5v0.5h-4.5zM555 167.5h3v0.5h-3zM558.5 167.5h2.5v0.5h-2.5zM563 167.5h3v0.5h-3zM568 167.5h75v0.5h-75zM645 167.5h1.5v0.5h-1.5zM654.5 167.5h2.5v0.5h-2.5zM679.5 167.5h2.5v0.5h-2.5zM543.5 168h3v0.5h-3zM550 168h4v0.5h-4zM555 168h3v0.5h-3zM558.5 168h2.5v0.5h-2.5zM563 168h3v0.5h-3zM568 168h74v0.5h-74zM679 168h3v0.5h-3zM543.5 168.5h2.5v0.5h-2.5zM550 168.5h4v0.5h-4zM555 168.5h3v0.5h-3zM559 168.5h2v0.5h-2zM563 168.5h3v0.5h-3zM567.5 168.5h73.5v0.5h-73.5zM679 168.5h3v0.5h-3zM544 169h1.5v0.5h-1.5zM550.5 169h3.5v0.5h-3.5zM555 169h3v0.5h-3zM558.5 169h3v0.5h-3zM563 169h3v0.5h-3zM567.5 169h70v0.5h-70zM639 169h1.5v0.5h-1.5zM679.5 169h2v0.5h-2zM550 169.5h4.5v0.5h-4.5zM555 169.5h3v0.5h-3zM558.5 169.5h3v0.5h-3zM563 169.5h3v0.5h-3zM567.5 169.5h68.5v0.5h-68.5zM680.5 169.5h0.5v0.5h-0.5zM550 170h4.5v0.5h-4.5zM555 170h3v0.5h-3zM558.5 170h2.5v0.5h-2.5zM563 170h3v0.5h-3zM567.5 170h62v0.5h-62zM630 170h0.5v0.5h-0.5zM631 170h2.5v0.5h-2.5zM550 170.5h4v0.5h-4zM555 170.5h3v0.5h-3zM558.5 170.5h2.5v0.5h-2.5zM563 170.5h3v0.5h-3zM568 170.5h2v0.5h-2zM570.5 170.5h58.5v0.5h-58.5zM631 170.5h2v0.5h-2zM550 171h4.5v0.5h-4.5zM555 171h3v0.5h-3zM558.5 171h2.5v0.5h-2.5zM563 171h3v0.5h-3zM568 171h60.5v0.5h-60.5zM550 171.5h4.5v0.5h-4.5zM555 171.5h3v0.5h-3zM558.5 171.5h2.5v0.5h-2.5zM563 171.5h3v0.5h-3zM568 171.5h59v0.5h-59zM550.5 172h3.5v0.5h-3.5zM555 172h3v0.5h-3zM558.5 172h2.5v0.5h-2.5zM563 172h2.5v0.5h-2.5zM567.5 172h57.5v0.5h-57.5zM550.5 172.5h3.5v0.5h-3.5zM555 172.5h6.5v0.5h-6.5zM563 172.5h3v0.5h-3zM567.5 172.5h54v0.5h-54zM551.5 173h3v0.5h-3zM555 173h3v0.5h-3zM558.5 173h2.5v0.5h-2.5zM563 173h3v0.5h-3zM567.5 173h53v0.5h-53zM551.5 173.5h3v0.5h-3zM555 173.5h3v0.5h-3zM558.5 173.5h3v0.5h-3zM563 173.5h3v0.5h-3zM567.5 173.5h52v0.5h-52zM552 174h2v0.5h-2zM555 174h3v0.5h-3zM558.5 174h2.5v0.5h-2.5zM563 174h3v0.5h-3zM567.5 174h49.5v0.5h-49.5zM552.5 174.5h1v0.5h-1zM555 174.5h2.5v0.5h-2.5zM558.5 174.5h2.5v0.5h-2.5zM563 174.5h3v0.5h-3zM567.5 174.5h49.5v0.5h-49.5zM555 175h6v0.5h-6zM563 175h3v0.5h-3zM567.5 175h44v0.5h-44zM612 175h4.5v0.5h-4.5zM555 175.5h6v0.5h-6zM563 175.5h3v0.5h-3zM567.5 175.5h43.5v0.5h-43.5zM555 176h3v0.5h-3zM558.5 176h2.5v0.5h-2.5zM563 176h3v0.5h-3zM567.5 176h42.5v0.5h-42.5zM555 176.5h2.5v0.5h-2.5zM558 176.5h3v0.5h-3zM563 176.5h3v0.5h-3zM567.5 176.5h41v0.5h-41zM645 176.5h1v0.5h-1zM555 177h2.5v0.5h-2.5zM558.5 177h2.5v0.5h-2.5zM563 177h3v0.5h-3zM567.5 177h40.5v0.5h-40.5zM644.5 177h2v0.5h-2zM555 177.5h2.5v0.5h-2.5zM558.5 177.5h2.5v0.5h-2.5zM563 177.5h3v0.5h-3zM567.5 177.5h35.5v0.5h-35.5zM604.5 177.5h3.5v0.5h-3.5zM644 177.5h3v0.5h-3zM555 178h3v0.5h-3zM558.5 178h2.5v0.5h-2.5zM563 178h3v0.5h-3zM567.5 178h34v0.5h-34zM605.5 178h3v0.5h-3zM644 178h3v0.5h-3zM555 178.5h3v0.5h-3zM559 178.5h1.5v0.5h-1.5zM563 178.5h3v0.5h-3zM567.5 178.5h31v0.5h-31zM599 178.5h1.5v0.5h-1.5zM605.5 178.5h3v0.5h-3zM644.5 178.5h2.5v0.5h-2.5zM555 179h3v0.5h-3zM558.5 179h2.5v0.5h-2.5zM563 179h3v0.5h-3zM567.5 179h30.5v0.5h-30.5zM605.5 179h2.5v0.5h-2.5zM644.5 179h2v0.5h-2zM555 179.5h3v0.5h-3zM558.5 179.5h2.5v0.5h-2.5zM563 179.5h3v0.5h-3zM567.5 179.5h2.5v0.5h-2.5zM570.5 179.5h24v0.5h-24zM596.5 179.5h1v0.5h-1zM606 179.5h1.5v0.5h-1.5zM555 180h6v0.5h-6zM563 180h3v0.5h-3zM567.5 180h27v0.5h-27zM555 180.5h3v0.5h-3zM558.5 180.5h2.5v0.5h-2.5zM563 180.5h3v0.5h-3zM567.5 180.5h27v0.5h-27zM555.5 181h2v0.5h-2zM559 181h1.5v0.5h-1.5zM563 181h3v0.5h-3zM567.5 181h24v0.5h-24zM592.5 181h1.5v0.5h-1.5zM563.5 181.5h2.5v0.5h-2.5zM567.5 181.5h23.5v0.5h-23.5zM564 182h1.5v0.5h-1.5zM567.5 182h20.5v0.5h-20.5zM589 182h2v0.5h-2zM564 182.5h1.5v0.5h-1.5zM567.5 182.5h18v0.5h-18zM563 183h3v0.5h-3zM567.5 183h13.5v0.5h-13.5zM582 183h3.5v0.5h-3.5zM563 183.5h3v0.5h-3zM568 183.5h16.5v0.5h-16.5zM563 184h3v0.5h-3zM568 184h2.5v0.5h-2.5zM571 184h11.5v0.5h-11.5zM563 184.5h2.5v0.5h-2.5zM567.5 184.5h3v0.5h-3zM571.5 184.5h7v0.5h-7zM580 184.5h3v0.5h-3zM563.5 185h1.5v0.5h-1.5zM567.5 185h3v0.5h-3zM571.5 185h8v0.5h-8zM580 185h3v0.5h-3zM568 185.5h2.5v0.5h-2.5zM572 185.5h10.5v0.5h-10.5zM568 186h2v0.5h-2zM572.5 186h8v0.5h-8zM581 186h1v0.5h-1zM572.5 186.5h8v0.5h-8zM574 187h7.5v0.5h-7.5zM574.5 187.5h7.5v0.5h-7.5zM574.5 188h4v0.5h-4zM579.5 188h2.5v0.5h-2.5zM574.5 188.5h4v0.5h-4zM579.5 188.5h3.5v0.5h-3.5zM575 189h4v0.5h-4zM579.5 189h4.5v0.5h-4.5zM575 189.5h9.5v0.5h-9.5zM576 190h8.5v0.5h-8.5zM576.5 190.5h8v0.5h-8zM576.5 191h8.5v0.5h-8.5zM577 191.5h8.5v0.5h-8.5zM577.5 192h4.5v0.5h-4.5zM583 192h3v0.5h-3zM578.5 192.5h3.5v0.5h-3.5zM583 192.5h4v0.5h-4zM579 193h4v0.5h-4zM583.5 193h4v0.5h-4zM579 193.5h4v0.5h-4zM583.5 193.5h4.5v0.5h-4.5zM579.5 194h3.5v0.5h-3.5zM584.5 194h3.5v0.5h-3.5zM580 194.5h3.5v0.5h-3.5zM585 194.5h3v0.5h-3zM580 195h3.5v0.5h-3.5zM586 195h2.5v0.5h-2.5zM580 195.5h4v0.5h-4zM586 195.5h3v0.5h-3zM581 196h4v0.5h-4zM586 196h4.5v0.5h-4.5zM581.5 196.5h0.5v0.5h-0.5zM582.5 196.5h2.5v0.5h-2.5zM586.5 196.5h4.5v0.5h-4.5zM582.5 197h2.5v0.5h-2.5zM586.5 197h5v0.5h-5zM582.5 197.5h3v0.5h-3zM587 197.5h4.5v0.5h-4.5zM583 198h3v0.5h-3zM588 198h3.5v0.5h-3.5zM583 198.5h4v0.5h-4zM589.5 198.5h1.5v0.5h-1.5zM583 199h4.5v0.5h-4.5zM611.5 199h2v0.5h-2zM583.5 199.5h4.5v0.5h-4.5zM611 199.5h3v0.5h-3zM584 200h4v0.5h-4zM611 200h3v0.5h-3zM585 200.5h2.5v0.5h-2.5zM611 200.5h3v0.5h-3zM585 201h2.5v0.5h-2.5zM611.5 201h2v0.5h-2zM585.5 201.5h1.5v0.5h-1.5z" fill="#000"/>
<path d="M632 90h1.5v0.5h-1.5zM631.5 90.5h2.5v0.5h-2.5zM631.5 91h2.5v0.5h-2.5zM631.5 91.5h2.5v0.5h-2.5zM631.5 92h2.5v0.5h-2.5zM632.5 92.5h0.5v0.5h-0.5zM599.5 96h1.5v0.5h-1.5zM599 96.5h2.5v0.5h-2.5zM599 97h2.5v0.5h-2.5zM599 97.5h2.5v0.5h-2.5zM597 98h4.5v0.5h-4.5zM596.5 98.5h4v0.5h-4zM596 99h3.5v0.5h-3.5zM595.5 99.5h4v0.5h-4zM595 100h4v0.5h-4zM594.5 100.5h4v0.5h-4zM594 101h4v0.5h-4zM593.5 101.5h4v0.5h-4zM592.5 102h4v0.5h-4zM592.5 102.5h4v0.5h-4zM592 103h3.5v0.5h-3.5zM592 103.5h3v0.5h-3zM592.5 104h2v0.5h-2zM593 104.5h1v0.5h-1zM609 109h1.5v0.5h-1.5zM608.5 109.5h2.5v0.5h-2.5zM608.5 110h2.5v0.5h-2.5zM583 110.5h1.5v0.5h-1.5zM608.5 110.5h2.5v0.5h-2.5zM582.5 111h2.5v0.5h-2.5zM608.5 111h2.5v0.5h-2.5zM582 111.5h3.5v0.5h-3.5zM609 111.5h1.5v0.5h-1.5zM581.5 112h4v0.5h-4zM581 112.5h4v0.5h-4zM580.5 113h4v0.5h-4zM580 113.5h4v0.5h-4zM580 114h3.5v0.5h-3.5zM580.5 114.5h2v0.5h-2zM581 115h1v0.5h-1zM592 124h1v0.5h-1zM591.5 124.5h2v0.5h-2zM591 125h3v0.5h-3zM591 125.5h5v0.5h-5zM591 126h5v0.5h-5zM589.5 126.5h6.5v0.5h-6.5zM589 127h2.5v0.5h-2.5zM592 127h5.5v0.5h-5.5zM589 127.5h3v0.5h-3zM592.5 127.5h5v0.5h-5zM581 128h1.5v0.5h-1.5zM584.5 128h2v0.5h-2zM589 128h3v0.5h-3zM593 128h4.5v0.5h-4.5zM580.5 128.5h2.5v0.5h-2.5zM584 128.5h2.5v0.5h-2.5zM589.5 128.5h5v0.5h-5zM595 128.5h2.5v0.5h-2.5zM602 128.5h1.5v0.5h-1.5zM580.5 129h2.5v0.5h-2.5zM584 129h3.5v0.5h-3.5zM588.5 129h8.5v0.5h-8.5zM601.5 129h2.5v0.5h-2.5zM580.5 129.5h2.5v0.5h-2.5zM584 129.5h4v0.5h-4zM588.5 129.5h7.5v0.5h-7.5zM598.5 129.5h2v0.5h-2zM601.5 129.5h2.5v0.5h-2.5zM580.5 130h2.5v0.5h-2.5zM584.5 130h3.5v0.5h-3.5zM588.5 130h7.5v0.5h-7.5zM597 130h3.5v0.5h-3.5zM601.5 130h2.5v0.5h-2.5zM581.5 130.5h0.5v0.5h-0.5zM585 130.5h11v0.5h-11zM596.5 130.5h4v0.5h-4zM601.5 130.5h2.5v0.5h-2.5zM584 131h1v0.5h-1zM585.5 131h15.5v0.5h-15.5zM602.5 131h0.5v0.5h-0.5zM605 131h2v0.5h-2zM583.5 131.5h6v0.5h-6zM590 131.5h12v0.5h-12zM604.5 131.5h3v0.5h-3zM609.5 131.5h1v0.5h-1zM582.5 132h7v0.5h-7zM590 132h3v0.5h-3zM593.5 132h9v0.5h-9zM604.5 132h3v0.5h-3zM608.5 132h2.5v0.5h-2.5zM582 132.5h7.5v0.5h-7.5zM590 132.5h3v0.5h-3zM593.5 132.5h9v0.5h-9zM604.5 132.5h3.5v0.5h-3.5zM608.5 132.5h2.5v0.5h-2.5zM582 133h17v0.5h-17zM599.5 133h2.5v0.5h-2.5zM605 133h6v0.5h-6zM582 133.5h20v0.5h-20zM605.5 133.5h5.5v0.5h-5.5zM613 133.5h2v0.5h-2zM582 134h4.5v0.5h-4.5zM587 134h15v0.5h-15zM606 134h4.5v0.5h-4.5zM612.5 134h3v0.5h-3zM582.5 134.5h1.5v0.5h-1.5zM585 134.5h1v0.5h-1zM587 134.5h2.5v0.5h-2.5zM591 134.5h11v0.5h-11zM606.5 134.5h4v0.5h-4zM612.5 134.5h3v0.5h-3zM623 134.5h0.5v0.5h-0.5zM588 135h1v0.5h-1zM591 135h11.5v0.5h-11.5zM606.5 135h4v0.5h-4zM612.5 135h3v0.5h-3zM617.5 135h3.5v0.5h-3.5zM622 135h2v0.5h-2zM591.5 135.5h11v0.5h-11zM603.5 135.5h2.5v0.5h-2.5zM606.5 135.5h3.5v0.5h-3.5zM613 135.5h2v0.5h-2zM617 135.5h4.5v0.5h-4.5zM622 135.5h2.5v0.5h-2.5zM592 136h2.5v0.5h-2.5zM595 136h2v0.5h-2zM597.5 136h5v0.5h-5zM603 136h6v0.5h-6zM609.5 136h2v0.5h-2zM617 136h7.5v0.5h-7.5zM598 136.5h8.5v0.5h-8.5zM607 136.5h1.5v0.5h-1.5zM609.5 136.5h2.5v0.5h-2.5zM617 136.5h4.5v0.5h-4.5zM622 136.5h2.5v0.5h-2.5zM598.5 137h8v0.5h-8zM608.5 137h3.5v0.5h-3.5zM617 137h4v0.5h-4zM622.5 137h1.5v0.5h-1.5zM599 137.5h15v0.5h-15zM617.5 137.5h2v0.5h-2zM624.5 137.5h2v0.5h-2zM600.5 138h2.5v0.5h-2.5zM603.5 138h13v0.5h-13zM618.5 138h1.5v0.5h-1.5zM624.5 138h2.5v0.5h-2.5zM600.5 138.5h2.5v0.5h-2.5zM604.5 138.5h12v0.5h-12zM618 138.5h2.5v0.5h-2.5zM624 138.5h3v0.5h-3zM643.5 138.5h2v0.5h-2zM600.5 139h2.5v0.5h-2.5zM604 139h13v0.5h-13zM617.5 139h3v0.5h-3zM622.5 139h5v0.5h-5zM643.5 139h2.5v0.5h-2.5zM601 139.5h1.5v0.5h-1.5zM603.5 139.5h17v0.5h-17zM621.5 139.5h6v0.5h-6zM628.5 139.5h2v0.5h-2zM643 139.5h3v0.5h-3zM603.5 140h14v0.5h-14zM618 140h2.5v0.5h-2.5zM621 140h6v0.5h-6zM628 140h5v0.5h-5zM634 140h1.5v0.5h-1.5zM643.5 140h2.5v0.5h-2.5zM604 140.5h16.5v0.5h-16.5zM621 140.5h6v0.5h-6zM627.5 140.5h5.5v0.5h-5.5zM633.5 140.5h2.5v0.5h-2.5zM643.5 140.5h2v0.5h-2zM604.5 141h1v0.5h-1zM608 141h12.5v0.5h-12.5zM621 141h4.5v0.5h-4.5zM627 141h9.5v0.5h-9.5zM607.5 141.5h12.5v0.5h-12.5zM621 141.5h4.5v0.5h-4.5zM627 141.5h9.5v0.5h-9.5zM608 142h12.5v0.5h-12.5zM622 142h3.5v0.5h-3.5zM627.5 142h2.5v0.5h-2.5zM631 142h2v0.5h-2zM634 142h2v0.5h-2zM608 142.5h3v0.5h-3zM611.5 142.5h9v0.5h-9zM623 142.5h2.5v0.5h-2.5zM627.5 142.5h2v0.5h-2zM634.5 142.5h1v0.5h-1zM668.5 142.5h1v0.5h-1zM609 143h1.5v0.5h-1.5zM611.5 143h9.5v0.5h-9.5zM624 143h0.5v0.5h-0.5zM626 143h4v0.5h-4zM637 143h2v0.5h-2zM668 143h2v0.5h-2zM612.5 143.5h1v0.5h-1zM614 143.5h7v0.5h-7zM625.5 143.5h4.5v0.5h-4.5zM634.5 143.5h5v0.5h-5zM664 143.5h1v0.5h-1zM667.5 143.5h3v0.5h-3zM614 144h3v0.5h-3zM617.5 144h4v0.5h-4zM622 144h1.5v0.5h-1.5zM625.5 144h8v0.5h-8zM634 144h5.5v0.5h-5.5zM663.5 144h2.5v0.5h-2.5zM667.5 144h3v0.5h-3zM614 144.5h25v0.5h-25zM663.5 144.5h2.5v0.5h-2.5zM668 144.5h2.5v0.5h-2.5zM614.5 145h2v0.5h-2zM617 145h22v0.5h-22zM646 145h2v0.5h-2zM649.5 145h1.5v0.5h-1.5zM663.5 145h2.5v0.5h-2.5zM668.5 145h1.5v0.5h-1.5zM615 145.5h1v0.5h-1zM617 145.5h20.5v0.5h-20.5zM638.5 145.5h0.5v0.5h-0.5zM646 145.5h2.5v0.5h-2.5zM649 145.5h2.5v0.5h-2.5zM663.5 145.5h2.5v0.5h-2.5zM617.5 146h18.5v0.5h-18.5zM638 146h2v0.5h-2zM644 146h4.5v0.5h-4.5zM649 146h2.5v0.5h-2.5zM664 146h1.5v0.5h-1.5zM618 146.5h1v0.5h-1zM619.5 146.5h10v0.5h-10zM630 146.5h6v0.5h-6zM637.5 146.5h4v0.5h-4zM643.5 146.5h5v0.5h-5zM649 146.5h2.5v0.5h-2.5zM619.5 147h16.5v0.5h-16.5zM637.5 147h4.5v0.5h-4.5zM643 147h5v0.5h-5zM649 147h2.5v0.5h-2.5zM657.5 147h1.5v0.5h-1.5zM620 147.5h1.5v0.5h-1.5zM622.5 147.5h13.5v0.5h-13.5zM637.5 147.5h10.5v0.5h-10.5zM650 147.5h0.5v0.5h-0.5zM657 147.5h2.5v0.5h-2.5zM674.5 147.5h1v0.5h-1zM623 148h3v0.5h-3zM628 148h9v0.5h-9zM637.5 148h10.5v0.5h-10.5zM656.5 148h3v0.5h-3zM674 148h2v0.5h-2zM623.5 148.5h2.5v0.5h-2.5zM628.5 148.5h8.5v0.5h-8.5zM637.5 148.5h11v0.5h-11zM651 148.5h1v0.5h-1zM654 148.5h2v0.5h-2zM656.5 148.5h3.5v0.5h-3.5zM673.5 148.5h3v0.5h-3zM624 149h1.5v0.5h-1.5zM628.5 149h20v0.5h-20zM650.5 149h2v0.5h-2zM653.5 149h2.5v0.5h-2.5zM657 149h3.5v0.5h-3.5zM673.5 149h3v0.5h-3zM629 149.5h20v0.5h-20zM650 149.5h3v0.5h-3zM653.5 149.5h2.5v0.5h-2.5zM656.5 149.5h4.5v0.5h-4.5zM673.5 149.5h2.5v0.5h-2.5zM631 150h17.5v0.5h-17.5zM650 150h11v0.5h-11zM664.5 150h2v0.5h-2zM674 150h1.5v0.5h-1.5zM631.5 150.5h29.5v0.5h-29.5zM664 150.5h2.5v0.5h-2.5zM632 151h6.5v0.5h-6.5zM639 151h7.5v0.5h-7.5zM647.5 151h5v0.5h-5zM653 151h8.5v0.5h-8.5zM664 151h2.5v0.5h-2.5zM632.5 151.5h3.5v0.5h-3.5zM637 151.5h0.5v0.5h-0.5zM639 151.5h5v0.5h-5zM647 151.5h5.5v0.5h-5.5zM653 151.5h8.5v0.5h-8.5zM664 151.5h2.5v0.5h-2.5zM639 152h4.5v0.5h-4.5zM646.5 152h6.5v0.5h-6.5zM653.5 152h8v0.5h-8zM664.5 152h2v0.5h-2zM669 152h1v0.5h-1zM639.5 152.5h4v0.5h-4zM646 152.5h15.5v0.5h-15.5zM664 152.5h2v0.5h-2zM668.5 152.5h2v0.5h-2zM674 152.5h2v0.5h-2zM639.5 153h3.5v0.5h-3.5zM646 153h15v0.5h-15zM663 153h3.5v0.5h-3.5zM668 153h3v0.5h-3zM673.5 153h2.5v0.5h-2.5zM641.5 153.5h1v0.5h-1zM646 153.5h12v0.5h-12zM658.5 153.5h3v0.5h-3zM662.5 153.5h4v0.5h-4zM668 153.5h4v0.5h-4zM673.5 153.5h3v0.5h-3zM646.5 154h2.5v0.5h-2.5zM649.5 154h12v0.5h-12zM662 154h5v0.5h-5zM668.5 154h3.5v0.5h-3.5zM673 154h3.5v0.5h-3.5zM647 154.5h1.5v0.5h-1.5zM651.5 154.5h15.5v0.5h-15.5zM668.5 154.5h4v0.5h-4zM673 154.5h3v0.5h-3zM676.5 154.5h2.5v0.5h-2.5zM651.5 155h2.5v0.5h-2.5zM654.5 155h13v0.5h-13zM668 155h4.5v0.5h-4.5zM673 155h6v0.5h-6zM652 155.5h1.5v0.5h-1.5zM656 155.5h11v0.5h-11zM667.5 155.5h12.5v0.5h-12.5zM657 156h23v0.5h-23zM657.5 156.5h9v0.5h-9zM667 156.5h3v0.5h-3zM670.5 156.5h9.5v0.5h-9.5zM660 157h3v0.5h-3zM664 157h2.5v0.5h-2.5zM667 157h3v0.5h-3zM670.5 157h9.5v0.5h-9.5zM664 157.5h2v0.5h-2zM667.5 157.5h2.5v0.5h-2.5zM671 157.5h9v0.5h-9zM667.5 158h2v0.5h-2zM671.5 158h8v0.5h-8zM672 158.5h2.5v0.5h-2.5zM675 158.5h4v0.5h-4zM676.5 159h0.5v0.5h-0.5zM670 160.5h1v0.5h-1zM669.5 161h2v0.5h-2zM665.5 161.5h6.5v0.5h-6.5zM665 162h7v0.5h-7zM665 162.5h6.5v0.5h-6.5zM658 163h2v0.5h-2zM665 163h4.5v0.5h-4.5zM670 163h1v0.5h-1zM656 163.5h1v0.5h-1zM657.5 163.5h2.5v0.5h-2.5zM665 163.5h4v0.5h-4zM649.5 164h1.5v0.5h-1.5zM654 164h1v0.5h-1zM655.5 164h4.5v0.5h-4.5zM643.5 164.5h0.5v0.5h-0.5zM649 164.5h2.5v0.5h-2.5zM653.5 164.5h6.5v0.5h-6.5zM638.5 165h1v0.5h-1zM642.5 165h2.5v0.5h-2.5zM646 165h1v0.5h-1zM648 165h3.5v0.5h-3.5zM653 165h7v0.5h-7zM637.5 165.5h2.5v0.5h-2.5zM642.5 165.5h2.5v0.5h-2.5zM645.5 165.5h6v0.5h-6zM653 165.5h7.5v0.5h-7.5zM637.5 166h2.5v0.5h-2.5zM641.5 166h9.5v0.5h-9.5zM653.5 166h2v0.5h-2zM656 166h1.5v0.5h-1.5zM658 166h2.5v0.5h-2.5zM632.5 166.5h1.5v0.5h-1.5zM637.5 166.5h2.5v0.5h-2.5zM641 166.5h10.5v0.5h-10.5zM654 166.5h1v0.5h-1zM658 166.5h2.5v0.5h-2.5zM667.5 166.5h2v0.5h-2zM632 167h2.5v0.5h-2.5zM637 167h3v0.5h-3zM640.5 167h7v0.5h-7zM648 167h3.5v0.5h-3.5zM658 167h2.5v0.5h-2.5zM667 167h3v0.5h-3zM631.5 167.5h3v0.5h-3zM636.5 167.5h11v0.5h-11zM648.5 167.5h3v0.5h-3zM657.5 167.5h2.5v0.5h-2.5zM667 167.5h3v0.5h-3zM623.5 168h2v0.5h-2zM632 168h2.5v0.5h-2.5zM636 168h3v0.5h-3zM639.5 168h7.5v0.5h-7.5zM649 168h2v0.5h-2zM657.5 168h2.5v0.5h-2.5zM667.5 168h2.5v0.5h-2.5zM623.5 168.5h2.5v0.5h-2.5zM632 168.5h2.5v0.5h-2.5zM636 168.5h3v0.5h-3zM639.5 168.5h2.5v0.5h-2.5zM643.5 168.5h3v0.5h-3zM657.5 168.5h2.5v0.5h-2.5zM667.5 168.5h2v0.5h-2zM623 169h3v0.5h-3zM626.5 169h2v0.5h-2zM632.5 169h1v0.5h-1zM636 169h2.5v0.5h-2.5zM639 169h3v0.5h-3zM644 169h3v0.5h-3zM657.5 169h2.5v0.5h-2.5zM623 169.5h6v0.5h-6zM636 169.5h2.5v0.5h-2.5zM639 169.5h2.5v0.5h-2.5zM644 169.5h3v0.5h-3zM658 169.5h1.5v0.5h-1.5zM619 170h2v0.5h-2zM623.5 170h2v0.5h-2zM626 170h3v0.5h-3zM635.5 170h3v0.5h-3zM639 170h2.5v0.5h-2.5zM644 170h3v0.5h-3zM619 170.5h2.5v0.5h-2.5zM624.5 170.5h0.5v0.5h-0.5zM626 170.5h3v0.5h-3zM631 170.5h1v0.5h-1zM635.5 170.5h3v0.5h-3zM639 170.5h2.5v0.5h-2.5zM644.5 170.5h2v0.5h-2zM618.5 171h3v0.5h-3zM622 171h2.5v0.5h-2.5zM626.5 171h2v0.5h-2zM630.5 171h2v0.5h-2zM636 171h2v0.5h-2zM639 171h2v0.5h-2zM619 171.5h6v0.5h-6zM630 171.5h3v0.5h-3zM636.5 171.5h1v0.5h-1zM612 172h2v0.5h-2zM614.5 172h2.5v0.5h-2.5zM618 172h3v0.5h-3zM621.5 172h4v0.5h-4zM630 172h3v0.5h-3zM611.5 172.5h5.5v0.5h-5.5zM617.5 172.5h2v0.5h-2zM621.5 172.5h4v0.5h-4zM630 172.5h2.5v0.5h-2.5zM608 173h2v0.5h-2zM611.5 173h8.5v0.5h-8.5zM621.5 173h4v0.5h-4zM630.5 173h1.5v0.5h-1.5zM607.5 173.5h2.5v0.5h-2.5zM611.5 173.5h8.5v0.5h-8.5zM622.5 173.5h3v0.5h-3zM601.5 174h2v0.5h-2zM606 174h4.5v0.5h-4.5zM612 174h2.5v0.5h-2.5zM615 174h1.5v0.5h-1.5zM617 174h2.5v0.5h-2.5zM623.5 174h1v0.5h-1zM601.5 174.5h2.5v0.5h-2.5zM605.5 174.5h5v0.5h-5zM612 174.5h2.5v0.5h-2.5zM615.5 174.5h4v0.5h-4zM601 175h3v0.5h-3zM605.5 175h4.5v0.5h-4.5zM612 175h7.5v0.5h-7.5zM595.5 175.5h1v0.5h-1zM601.5 175.5h2.5v0.5h-2.5zM605.5 175.5h4.5v0.5h-4.5zM612 175.5h7v0.5h-7zM594.5 176h2.5v0.5h-2.5zM601.5 176h2v0.5h-2zM605.5 176h4.5v0.5h-4.5zM612 176h5.5v0.5h-5.5zM588.5 176.5h0.5v0.5h-0.5zM593.5 176.5h3.5v0.5h-3.5zM601 176.5h1v0.5h-1zM605.5 176.5h4.5v0.5h-4.5zM612.5 176.5h2v0.5h-2zM615 176.5h2.5v0.5h-2.5zM587.5 177h2.5v0.5h-2.5zM593 177h4v0.5h-4zM599.5 177h3v0.5h-3zM605.5 177h4.5v0.5h-4.5zM615.5 177h1.5v0.5h-1.5zM587.5 177.5h2.5v0.5h-2.5zM592.5 177.5h4.5v0.5h-4.5zM599 177.5h4v0.5h-4zM605.5 177.5h2.5v0.5h-2.5zM608.5 177.5h0.5v0.5h-0.5zM587.5 178h2.5v0.5h-2.5zM592 178h4.5v0.5h-4.5zM599 178h4v0.5h-4zM606 178h1.5v0.5h-1.5zM582 178.5h2v0.5h-2zM587.5 178.5h2.5v0.5h-2.5zM592 178.5h4v0.5h-4zM599 178.5h3.5v0.5h-3.5zM607 178.5h2v0.5h-2zM582 179h2.5v0.5h-2.5zM588 179h1.5v0.5h-1.5zM591.5 179h4.5v0.5h-4.5zM599.5 179h2.5v0.5h-2.5zM607 179h2.5v0.5h-2.5zM581.5 179.5h4v0.5h-4zM590 179.5h0.5v0.5h-0.5zM591 179.5h5.5v0.5h-5.5zM600 179.5h0.5v0.5h-0.5zM604.5 179.5h1.5v0.5h-1.5zM606.5 179.5h3v0.5h-3zM581.5 180h4v0.5h-4zM589 180h7.5v0.5h-7.5zM604 180h2.5v0.5h-2.5zM607 180h2.5v0.5h-2.5zM582 180.5h3.5v0.5h-3.5zM589 180.5h7v0.5h-7zM599.5 180.5h1.5v0.5h-1.5zM604 180.5h5v0.5h-5zM617.5 180.5h1.5v0.5h-1.5zM583 181h2.5v0.5h-2.5zM589 181h2.5v0.5h-2.5zM592 181h1v0.5h-1zM594.5 181h1v0.5h-1zM599 181h2.5v0.5h-2.5zM604 181h3v0.5h-3zM617 181h2.5v0.5h-2.5zM583.5 181.5h1.5v0.5h-1.5zM589 181.5h2.5v0.5h-2.5zM598.5 181.5h3v0.5h-3zM604 181.5h3.5v0.5h-3.5zM617 181.5h2.5v0.5h-2.5zM589.5 182h1.5v0.5h-1.5zM593 182h0.5v0.5h-0.5zM598.5 182h3.5v0.5h-3.5zM604.5 182h3v0.5h-3zM617 182h2.5v0.5h-2.5zM592 182.5h3v0.5h-3zM598 182.5h4.5v0.5h-4.5zM605 182.5h2v0.5h-2zM617 182.5h2.5v0.5h-2.5zM592 183h3.5v0.5h-3.5zM596.5 183h6.5v0.5h-6.5zM605.5 183h0.5v0.5h-0.5zM592 183.5h4v0.5h-4zM596.5 183.5h6.5v0.5h-6.5zM592 184h3.5v0.5h-3.5zM596 184h3.5v0.5h-3.5zM600.5 184h2.5v0.5h-2.5zM592.5 184.5h3v0.5h-3zM596 184.5h3.5v0.5h-3.5zM601 184.5h1.5v0.5h-1.5zM594 185h0.5v0.5h-0.5zM596.5 185h3v0.5h-3zM597 185.5h2v0.5h-2zM581.5 186h2v0.5h-2zM581 186.5h2.5v0.5h-2.5zM581 187h3v0.5h-3zM581 187.5h2.5v0.5h-2.5zM581.5 188h2v0.5h-2zM587.5 201h1.5v0.5h-1.5zM587 201.5h2.5v0.5h-2.5zM587 202h2.5v0.5h-2.5zM586.5 202.5h3v0.5h-3zM587 203h2.5v0.5h-2.5zM587 203.5h2v0.5h-2zM601 204.5h1.5v0.5h-1.5zM600.5 205h2.5v0.5h-2.5zM600.5 205.5h2.5v0.5h-2.5zM600.5 206h2.5v0.5h-2.5zM600.5 206.5h2v0.5h-2zM593 207h1.5v0.5h-1.5zM601.5 207h0.5v0.5h-0.5zM592.5 207.5h2.5v0.5h-2.5zM592 208h3v0.5h-3zM592 208.5h3v0.5h-3zM592.5 209h2v0.5h-2zM593 209.5h1v0.5h-1zM598.5 210.5h2v0.5h-2zM598.5 211h2.5v0.5h-2.5zM598 211.5h3v0.5h-3zM598.5 212h2.5v0.5h-2.5zM598.5 212.5h2v0.5h-2z" fill="#f00"/>
<path d="M490.8 38.0V280.7M531.1 38.0V280.7M571.4 38.0V280.7M611.7 38.0V280.7M652.0 38.0V280.7M692.3 38.0V280.7M732.6 38.0V280.7M772.9 38.0V280.7M480.0 271.4H784.0M480.0 248.9H784.0M480.0 226.4H784.0M480.0 203.9H784.0M480.0 181.4H784.0M480.0 158.9H784.0M480.0 136.4H784.0M480.0 113.9H784.0M480.0 91.4H784.0M480.0 68.9H784.0M480.0 46.4H784.0" stroke="#b4b4b4" stroke-width="1" stroke-dasharray="1 1" fill="none"/>
<rect x="480.0" y="38.0" width="304.0" height="242.7" fill="none" stroke="#000" stroke-width="1.7"/>
<path d="M469.0 271.4H480.0M469.0 215.2H480.0M469.0 158.9H480.0M469.0 102.7H480.0M469.0 46.4H480.0M490.8 280.7V291.2M531.1 280.7V291.2M571.4 280.7V291.2M611.7 280.7V291.2M652.0 280.7V291.2M692.3 280.7V291.2M732.6 280.7V291.2M772.9 280.7V291.2" stroke="#000" stroke-width="1.7" fill="none"/>
<text transform="translate(453.3,271.4) rotate(-90)" x="0" y="5.8" text-anchor="middle" class="t16">−10</text>
<text transform="translate(453.3,215.2) rotate(-90)" x="0" y="5.8" text-anchor="middle" class="t16">−5</text>
<text transform="translate(453.3,158.9) rotate(-90)" x="0" y="5.8" text-anchor="middle" class="t16">0</text>
<text transform="translate(453.3,102.7) rotate(-90)" x="0" y="5.8" text-anchor="middle" class="t16">5</text>
<text transform="translate(453.3,46.4) rotate(-90)" x="0" y="5.8" text-anchor="middle" class="t16">10</text>
<text x="490.8" y="317.8" text-anchor="middle" class="t16">−1</text>
<text x="531.1" y="317.8" text-anchor="middle" class="t16">0</text>
<text x="571.4" y="317.8" text-anchor="middle" class="t16">1</text>
<text x="611.7" y="317.8" text-anchor="middle" class="t16">2</text>
<text x="652.0" y="317.8" text-anchor="middle" class="t16">3</text>
<text x="692.3" y="317.8" text-anchor="middle" class="t16">4</text>
<text x="732.6" y="317.8" text-anchor="middle" class="t16">5</text>
<text x="772.9" y="317.8" text-anchor="middle" class="t16">6</text>
<text x="632.0" y="358.6" text-anchor="middle" class="t17">log10TPM in the higher group</text>
 <text transform="translate(422.8,159.0) rotate(-90)" x="0" y="0" text-anchor="middle" class="t17">log2FC</text>
<text x="630.5" y="14.7" text-anchor="middle" class="tb">Drop−Seq</text>
<text x="411.5" y="22.1" class="lab">b</text>
<circle cx="635.3" cy="54.7" r="2" fill="#f00"/><circle cx="635.3" cy="71" r="2" fill="#000"/>
<text x="649" y="59" class="t13">FDR&lt;0.05 (596)</text>
<text x="649" y="75.6" class="t13">FDR &gt;= 0.05 (17439)</text><path d="M174.5 506.1h1.5v0.5h-1.5zM173.5 506.6h3v0.5h-3zM180 506.6h2v0.5h-2zM173 507.1h3.5v0.5h-3.5zM179.5 507.1h2.5v0.5h-2.5zM173 507.6h3.5v0.5h-3.5zM179.5 507.6h3v0.5h-3zM172.5 508.1h3.5v0.5h-3.5zM179.5 508.1h3v0.5h-3zM171.5 508.6h4v0.5h-4zM180 508.6h2v0.5h-2zM171 509.1h4v0.5h-4zM180.5 509.1h1v0.5h-1zM170.5 509.6h3.5v0.5h-3.5zM176.5 509.6h2v0.5h-2zM170 510.1h4v0.5h-4zM176.5 510.1h2.5v0.5h-2.5zM169.5 510.6h4v0.5h-4zM175.5 510.6h3.5v0.5h-3.5zM169.5 511.1h3.5v0.5h-3.5zM175.5 511.1h3.5v0.5h-3.5zM170 511.6h2.5v0.5h-2.5zM174.5 511.6h4v0.5h-4zM167.5 512.1h1.5v0.5h-1.5zM170.5 512.1h1v0.5h-1zM174 512.1h4v0.5h-4zM167 512.6h2.5v0.5h-2.5zM173.5 512.6h4v0.5h-4zM166.5 513.1h3v0.5h-3zM173 513.1h3.5v0.5h-3.5zM166 513.6h3.5v0.5h-3.5zM172.5 513.6h4v0.5h-4zM178 513.6h1.5v0.5h-1.5zM166 514.1h3.5v0.5h-3.5zM172 514.1h4v0.5h-4zM177 514.1h3v0.5h-3zM166 514.6h3v0.5h-3zM171 514.6h4.5v0.5h-4.5zM177 514.6h3v0.5h-3zM166.5 515.1h1.5v0.5h-1.5zM170.5 515.1h4v0.5h-4zM177 515.1h3v0.5h-3zM163.5 515.6h1v0.5h-1zM170 515.6h4v0.5h-4zM177 515.6h2.5v0.5h-2.5zM163 516.1h2v0.5h-2zM169.5 516.1h4v0.5h-4zM177.5 516.1h1.5v0.5h-1.5zM162 516.6h3.5v0.5h-3.5zM168.5 516.6h4.5v0.5h-4.5zM162 517.1h3.5v0.5h-3.5zM168.5 517.1h4v0.5h-4zM161 517.6h4v0.5h-4zM168.5 517.6h3.5v0.5h-3.5zM173.5 517.6h1v0.5h-1zM160.5 518.1h4v0.5h-4zM168.5 518.1h3v0.5h-3zM172.5 518.1h2.5v0.5h-2.5zM159.5 518.6h4.5v0.5h-4.5zM166.5 518.6h1.5v0.5h-1.5zM168.5 518.6h2v0.5h-2zM172.5 518.6h2.5v0.5h-2.5zM159 519.1h4v0.5h-4zM166 519.1h2.5v0.5h-2.5zM171.5 519.1h3.5v0.5h-3.5zM158.5 519.6h4.5v0.5h-4.5zM165 519.6h3.5v0.5h-3.5zM171 519.6h4v0.5h-4zM158 520.1h4v0.5h-4zM165 520.1h3.5v0.5h-3.5zM170.5 520.1h4v0.5h-4zM157.5 520.6h4v0.5h-4zM164 520.6h4.5v0.5h-4.5zM170 520.6h4v0.5h-4zM175.5 520.6h1v0.5h-1zM157 521.1h4v0.5h-4zM163.5 521.1h4.5v0.5h-4.5zM169.5 521.1h4v0.5h-4zM175 521.1h2.5v0.5h-2.5zM157.5 521.6h3v0.5h-3zM163 521.6h4v0.5h-4zM168.5 521.6h4.5v0.5h-4.5zM174.5 521.6h3v0.5h-3zM155.5 522.1h1.5v0.5h-1.5zM157.5 522.1h2.5v0.5h-2.5zM162.5 522.1h3.5v0.5h-3.5zM168 522.1h4.5v0.5h-4.5zM174 522.1h3.5v0.5h-3.5zM155 522.6h2.5v0.5h-2.5zM158 522.6h1v0.5h-1zM161.5 522.6h4.5v0.5h-4.5zM168 522.6h3.5v0.5h-3.5zM173 522.6h4v0.5h-4zM154 523.1h3.5v0.5h-3.5zM161 523.1h4.5v0.5h-4.5zM167 523.1h3.5v0.5h-3.5zM172.5 523.1h4v0.5h-4zM154 523.6h3.5v0.5h-3.5zM160.5 523.6h4v0.5h-4zM166.5 523.6h4v0.5h-4zM172.5 523.6h3v0.5h-3zM154 524.1h3.5v0.5h-3.5zM160 524.1h4v0.5h-4zM165.5 524.1h4.5v0.5h-4.5zM171.5 524.1h0.5v0.5h-0.5zM172.5 524.1h3v0.5h-3zM152 524.6h4.5v0.5h-4.5zM159.5 524.6h4v0.5h-4zM165 524.6h4v0.5h-4zM171 524.6h4v0.5h-4zM152 525.1h4v0.5h-4zM159 525.1h4v0.5h-4zM164.5 525.1h4v0.5h-4zM170.5 525.1h4v0.5h-4zM152 525.6h3v0.5h-3zM158.5 525.6h4v0.5h-4zM164.5 525.6h4v0.5h-4zM169.5 525.6h4v0.5h-4zM152 526.1h3.5v0.5h-3.5zM157.5 526.1h4v0.5h-4zM163.5 526.1h4v0.5h-4zM169 526.1h4v0.5h-4zM152 526.6h3.5v0.5h-3.5zM157 526.6h4v0.5h-4zM163 526.6h4v0.5h-4zM168.5 526.6h4v0.5h-4zM153 527.1h2.5v0.5h-2.5zM157 527.1h3.5v0.5h-3.5zM162.5 527.1h4v0.5h-4zM168 527.1h4v0.5h-4zM153 527.6h2.5v0.5h-2.5zM157 527.6h3v0.5h-3zM161.5 527.6h4v0.5h-4zM167.5 527.6h4v0.5h-4zM153 528.1h3.5v0.5h-3.5zM157 528.1h2.5v0.5h-2.5zM161 528.1h4.5v0.5h-4.5zM167 528.1h4v0.5h-4zM145.5 528.6h1.5v0.5h-1.5zM149 528.6h1.5v0.5h-1.5zM152.5 528.6h6.5v0.5h-6.5zM160.5 528.6h4v0.5h-4zM166.5 528.6h4v0.5h-4zM145 529.1h2.5v0.5h-2.5zM149 529.1h2v0.5h-2zM152.5 529.1h7v0.5h-7zM160 529.1h3.5v0.5h-3.5zM165.5 529.1h4.5v0.5h-4.5zM145 529.6h2.5v0.5h-2.5zM148.5 529.6h3v0.5h-3zM152.5 529.6h11v0.5h-11zM165 529.6h4v0.5h-4zM173.5 529.6h2v0.5h-2zM145 530.1h2.5v0.5h-2.5zM148.5 530.1h3v0.5h-3zM153 530.1h10v0.5h-10zM163.5 530.1h5v0.5h-5zM172 530.1h4v0.5h-4zM143.5 530.6h1v0.5h-1zM145 530.6h2.5v0.5h-2.5zM148.5 530.6h3v0.5h-3zM152 530.6h4v0.5h-4zM156.5 530.6h6v0.5h-6zM163 530.6h8v0.5h-8zM171.5 530.6h4.5v0.5h-4.5zM143 531.1h5v0.5h-5zM148.5 531.1h7v0.5h-7zM156.5 531.1h19.5v0.5h-19.5zM142.5 531.6h5.5v0.5h-5.5zM148.5 531.6h7v0.5h-7zM156.5 531.6h20.5v0.5h-20.5zM178.5 531.6h2v0.5h-2zM181 531.6h1v0.5h-1zM189 531.6h1v0.5h-1zM142.5 532.1h5.5v0.5h-5.5zM148.5 532.1h7v0.5h-7zM156 532.1h27v0.5h-27zM188 532.1h2.5v0.5h-2.5zM142.5 532.6h5.5v0.5h-5.5zM148.5 532.6h3v0.5h-3zM152 532.6h31.5v0.5h-31.5zM188 532.6h3v0.5h-3zM142.5 533.1h5.5v0.5h-5.5zM148.5 533.1h3v0.5h-3zM152.5 533.1h32.5v0.5h-32.5zM188 533.1h3v0.5h-3zM139.5 533.6h1.5v0.5h-1.5zM142.5 533.6h5.5v0.5h-5.5zM148.5 533.6h3v0.5h-3zM152.5 533.6h33v0.5h-33zM186 533.6h4.5v0.5h-4.5zM139 534.1h2.5v0.5h-2.5zM142.5 534.1h5.5v0.5h-5.5zM149 534.1h2.5v0.5h-2.5zM152.5 534.1h37.5v0.5h-37.5zM139 534.6h2.5v0.5h-2.5zM142.5 534.6h5.5v0.5h-5.5zM149 534.6h2.5v0.5h-2.5zM152.5 534.6h37.5v0.5h-37.5zM139 535.1h2.5v0.5h-2.5zM142.5 535.1h5.5v0.5h-5.5zM148.5 535.1h3v0.5h-3zM152.5 535.1h39v0.5h-39zM139 535.6h2.5v0.5h-2.5zM142.5 535.6h5.5v0.5h-5.5zM148.5 535.6h3v0.5h-3zM152.5 535.6h3.5v0.5h-3.5zM157.5 535.6h35v0.5h-35zM138.5 536.1h3v0.5h-3zM142.5 536.1h5.5v0.5h-5.5zM148.5 536.1h3.5v0.5h-3.5zM153 536.1h2.5v0.5h-2.5zM157 536.1h36v0.5h-36zM138.5 536.6h3v0.5h-3zM142.5 536.6h5.5v0.5h-5.5zM148.5 536.6h3v0.5h-3zM152.5 536.6h3v0.5h-3zM156.5 536.6h37v0.5h-37zM138.5 537.1h3v0.5h-3zM142.5 537.1h5.5v0.5h-5.5zM148.5 537.1h3v0.5h-3zM153 537.1h2.5v0.5h-2.5zM156.5 537.1h39v0.5h-39zM138.5 537.6h3v0.5h-3zM142.5 537.6h5.5v0.5h-5.5zM148.5 537.6h3v0.5h-3zM153 537.6h2v0.5h-2zM156.5 537.6h39v0.5h-39zM196 537.6h0.5v0.5h-0.5zM198.5 537.6h1.5v0.5h-1.5zM208 537.6h1.5v0.5h-1.5zM138.5 538.1h3v0.5h-3zM142.5 538.1h5.5v0.5h-5.5zM148.5 538.1h3v0.5h-3zM156.5 538.1h41v0.5h-41zM198 538.1h2.5v0.5h-2.5zM207.5 538.1h2.5v0.5h-2.5zM139 538.6h2.5v0.5h-2.5zM142.5 538.6h5.5v0.5h-5.5zM149 538.6h2.5v0.5h-2.5zM156.5 538.6h45v0.5h-45zM207 538.6h3v0.5h-3zM138.5 539.1h3v0.5h-3zM142.5 539.1h5.5v0.5h-5.5zM148.5 539.1h3v0.5h-3zM156.5 539.1h45.5v0.5h-45.5zM207 539.1h3v0.5h-3zM138.5 539.6h3v0.5h-3zM142.5 539.6h5.5v0.5h-5.5zM148.5 539.6h3v0.5h-3zM156.5 539.6h45.5v0.5h-45.5zM203.5 539.6h1.5v0.5h-1.5zM207.5 539.6h2v0.5h-2zM138.5 540.1h3v0.5h-3zM142.5 540.1h5.5v0.5h-5.5zM148.5 540.1h3v0.5h-3zM153 540.1h2v0.5h-2zM156.5 540.1h50.5v0.5h-50.5zM208 540.1h1v0.5h-1zM138.5 540.6h3v0.5h-3zM142.5 540.6h2.5v0.5h-2.5zM145.5 540.6h2v0.5h-2zM148.5 540.6h3v0.5h-3zM152.5 540.6h3v0.5h-3zM157 540.6h50v0.5h-50zM211.5 540.6h1v0.5h-1zM138.5 541.1h3v0.5h-3zM143 541.1h2.5v0.5h-2.5zM148.5 541.1h3v0.5h-3zM152.5 541.1h3v0.5h-3zM156.5 541.1h51.5v0.5h-51.5zM210.5 541.1h2.5v0.5h-2.5zM139 541.6h2.5v0.5h-2.5zM142.5 541.6h3v0.5h-3zM149 541.6h3v0.5h-3zM152.5 541.6h3v0.5h-3zM156.5 541.6h53.5v0.5h-53.5zM210.5 541.6h2.5v0.5h-2.5zM139 542.1h2.5v0.5h-2.5zM142.5 542.1h5.5v0.5h-5.5zM149 542.1h2.5v0.5h-2.5zM153 542.1h2v0.5h-2zM156.5 542.1h57v0.5h-57zM139 542.6h2.5v0.5h-2.5zM142.5 542.6h5.5v0.5h-5.5zM148.5 542.6h3v0.5h-3zM153 542.6h2.5v0.5h-2.5zM156 542.6h58v0.5h-58zM216 542.6h1.5v0.5h-1.5zM139.5 543.1h1.5v0.5h-1.5zM142.5 543.1h5.5v0.5h-5.5zM148.5 543.1h3v0.5h-3zM153 543.1h2.5v0.5h-2.5zM156.5 543.1h61.5v0.5h-61.5zM139 543.6h2.5v0.5h-2.5zM143 543.6h5v0.5h-5zM149 543.6h2.5v0.5h-2.5zM153 543.6h2.5v0.5h-2.5zM156.5 543.6h61.5v0.5h-61.5zM139 544.1h2.5v0.5h-2.5zM142.5 544.1h5.5v0.5h-5.5zM149 544.1h2.5v0.5h-2.5zM153 544.1h2.5v0.5h-2.5zM156.5 544.1h62.5v0.5h-62.5zM219.5 544.1h1.5v0.5h-1.5zM139 544.6h2.5v0.5h-2.5zM142.5 544.6h5.5v0.5h-5.5zM149 544.6h2.5v0.5h-2.5zM153 544.6h2.5v0.5h-2.5zM156.5 544.6h66v0.5h-66zM247.5 544.6h2v0.5h-2zM133 545.1h2v0.5h-2zM139 545.1h2.5v0.5h-2.5zM142.5 545.1h5.5v0.5h-5.5zM149 545.1h2.5v0.5h-2.5zM153 545.1h2.5v0.5h-2.5zM156.5 545.1h66.5v0.5h-66.5zM245.5 545.1h0.5v0.5h-0.5zM247.5 545.1h2.5v0.5h-2.5zM132.5 545.6h3v0.5h-3zM139 545.6h2v0.5h-2zM142.5 545.6h5.5v0.5h-5.5zM149 545.6h2.5v0.5h-2.5zM153 545.6h2v0.5h-2zM157 545.6h68v0.5h-68zM244.5 545.6h5.5v0.5h-5.5zM132.5 546.1h3v0.5h-3zM138.5 546.1h3v0.5h-3zM142.5 546.1h3v0.5h-3zM146 546.1h1.5v0.5h-1.5zM148.5 546.1h3v0.5h-3zM153 546.1h2v0.5h-2zM157.5 546.1h70v0.5h-70zM230 546.1h0.5v0.5h-0.5zM244.5 546.1h5.5v0.5h-5.5zM132.5 546.6h3v0.5h-3zM138.5 546.6h3v0.5h-3zM143 546.6h2.5v0.5h-2.5zM148.5 546.6h3v0.5h-3zM152.5 546.6h3v0.5h-3zM157 546.6h74.5v0.5h-74.5zM240 546.6h1v0.5h-1zM244.5 546.6h2.5v0.5h-2.5zM247.5 546.6h2v0.5h-2zM132.5 547.1h3v0.5h-3zM138.5 547.1h3v0.5h-3zM143 547.1h4.5v0.5h-4.5zM149 547.1h2.5v0.5h-2.5zM152.5 547.1h3v0.5h-3zM156.5 547.1h75v0.5h-75zM239 547.1h2.5v0.5h-2.5zM244.5 547.1h2.5v0.5h-2.5zM132.5 547.6h3v0.5h-3zM138.5 547.6h3v0.5h-3zM143 547.6h5v0.5h-5zM149 547.6h2v0.5h-2zM152.5 547.6h3v0.5h-3zM156.5 547.6h76v0.5h-76zM239 547.6h3v0.5h-3zM245 547.6h1.5v0.5h-1.5zM132.5 548.1h3v0.5h-3zM138.5 548.1h3v0.5h-3zM142.5 548.1h5.5v0.5h-5.5zM149 548.1h2.5v0.5h-2.5zM152.5 548.1h3v0.5h-3zM156.5 548.1h77v0.5h-77zM236 548.1h0.5v0.5h-0.5zM239 548.1h3v0.5h-3zM132.5 548.6h3v0.5h-3zM138.5 548.6h3v0.5h-3zM142.5 548.6h5.5v0.5h-5.5zM148.5 548.6h3v0.5h-3zM152.5 548.6h3v0.5h-3zM156.5 548.6h81.5v0.5h-81.5zM239 548.6h3.5v0.5h-3.5zM132.5 549.1h3v0.5h-3zM138.5 549.1h3v0.5h-3zM142.5 549.1h2.5v0.5h-2.5zM145.5 549.1h2.5v0.5h-2.5zM149 549.1h2.5v0.5h-2.5zM153 549.1h2.5v0.5h-2.5zM156.5 549.1h86v0.5h-86zM133 549.6h2v0.5h-2zM138.5 549.6h3v0.5h-3zM143 549.6h4.5v0.5h-4.5zM149 549.6h2v0.5h-2zM153 549.6h2.5v0.5h-2.5zM157 549.6h85.5v0.5h-85.5zM243.5 549.6h1v0.5h-1zM132.5 550.1h2.5v0.5h-2.5zM138.5 550.1h3v0.5h-3zM143 550.1h5v0.5h-5zM153 550.1h2.5v0.5h-2.5zM156.5 550.1h89v0.5h-89zM262 550.1h2v0.5h-2zM132.5 550.6h3v0.5h-3zM138.5 550.6h3v0.5h-3zM142.5 550.6h5.5v0.5h-5.5zM152.5 550.6h3v0.5h-3zM156.5 550.6h93v0.5h-93zM261.5 550.6h3v0.5h-3zM132.5 551.1h3v0.5h-3zM138.5 551.1h3v0.5h-3zM142.5 551.1h5v0.5h-5zM152.5 551.1h3v0.5h-3zM156.5 551.1h95.5v0.5h-95.5zM261.5 551.1h3v0.5h-3zM132.5 551.6h2.5v0.5h-2.5zM138.5 551.6h3v0.5h-3zM142.5 551.6h5v0.5h-5zM150 551.6h0.5v0.5h-0.5zM152.5 551.6h3v0.5h-3zM156.5 551.6h97.5v0.5h-97.5zM258 551.6h2v0.5h-2zM262 551.6h2.5v0.5h-2.5zM132.5 552.1h3v0.5h-3zM138.5 552.1h2.5v0.5h-2.5zM142.5 552.1h5.5v0.5h-5.5zM149 552.1h2.5v0.5h-2.5zM152.5 552.1h3v0.5h-3zM156.5 552.1h103.5v0.5h-103.5zM261.5 552.1h4v0.5h-4zM132.5 552.6h3v0.5h-3zM138.5 552.6h3v0.5h-3zM142.5 552.6h5.5v0.5h-5.5zM149 552.6h2.5v0.5h-2.5zM153 552.6h2.5v0.5h-2.5zM156.5 552.6h109.5v0.5h-109.5zM269 552.6h1.5v0.5h-1.5zM132.5 553.1h3v0.5h-3zM138.5 553.1h3v0.5h-3zM142.5 553.1h5.5v0.5h-5.5zM149 553.1h2.5v0.5h-2.5zM152.5 553.1h3v0.5h-3zM156.5 553.1h114.5v0.5h-114.5zM324 553.1h2v0.5h-2zM132.5 553.6h3v0.5h-3zM138.5 553.6h3v0.5h-3zM143 553.6h5v0.5h-5zM149 553.6h2.5v0.5h-2.5zM153 553.6h2.5v0.5h-2.5zM156.5 553.6h118v0.5h-118zM323.5 553.6h3v0.5h-3zM132.5 554.1h3v0.5h-3zM138.5 554.1h3v0.5h-3zM142.5 554.1h5.5v0.5h-5.5zM149 554.1h2.5v0.5h-2.5zM152.5 554.1h3v0.5h-3zM156.5 554.1h120.5v0.5h-120.5zM323.5 554.1h3v0.5h-3zM132.5 554.6h3v0.5h-3zM138.5 554.6h3v0.5h-3zM142.5 554.6h5.5v0.5h-5.5zM148.5 554.6h3v0.5h-3zM153 554.6h2.5v0.5h-2.5zM156.5 554.6h121v0.5h-121zM323.5 554.6h3v0.5h-3zM132.5 555.1h3v0.5h-3zM138.5 555.1h3v0.5h-3zM142.5 555.1h5.5v0.5h-5.5zM148.5 555.1h3v0.5h-3zM153 555.1h2.5v0.5h-2.5zM156.5 555.1h121v0.5h-121zM324 555.1h2v0.5h-2zM132.5 555.6h3v0.5h-3zM138.5 555.6h3v0.5h-3zM142.5 555.6h5v0.5h-5zM148.5 555.6h3v0.5h-3zM152.5 555.6h3v0.5h-3zM156.5 555.6h121v0.5h-121zM132.5 556.1h3v0.5h-3zM138.5 556.1h3v0.5h-3zM142.5 556.1h5v0.5h-5zM148.5 556.1h3v0.5h-3zM152.5 556.1h3v0.5h-3zM156.5 556.1h121v0.5h-121zM133 556.6h2v0.5h-2zM138.5 556.6h3v0.5h-3zM142.5 556.6h5.5v0.5h-5.5zM148.5 556.6h3v0.5h-3zM152.5 556.6h3v0.5h-3zM156.5 556.6h120.5v0.5h-120.5zM133 557.1h2v0.5h-2zM138.5 557.1h3v0.5h-3zM142.5 557.1h5.5v0.5h-5.5zM148.5 557.1h3v0.5h-3zM152.5 557.1h3v0.5h-3zM156.5 557.1h120v0.5h-120zM138.5 557.6h3.5v0.5h-3.5zM142.5 557.6h5.5v0.5h-5.5zM148.5 557.6h3v0.5h-3zM152.5 557.6h3v0.5h-3zM156.5 557.6h119.5v0.5h-119.5zM138.5 558.1h3.5v0.5h-3.5zM142.5 558.1h5.5v0.5h-5.5zM148.5 558.1h3v0.5h-3zM153 558.1h2.5v0.5h-2.5zM156 558.1h114.5v0.5h-114.5zM272 558.1h0.5v0.5h-0.5zM139 558.6h2.5v0.5h-2.5zM142.5 558.6h5.5v0.5h-5.5zM148.5 558.6h3v0.5h-3zM153 558.6h2.5v0.5h-2.5zM156 558.6h110v0.5h-110zM267 558.6h0.5v0.5h-0.5zM127 559.1h2v0.5h-2zM138.5 559.1h3v0.5h-3zM142.5 559.1h5.5v0.5h-5.5zM148.5 559.1h3v0.5h-3zM153 559.1h2.5v0.5h-2.5zM156.5 559.1h104v0.5h-104zM261.5 559.1h2.5v0.5h-2.5zM126.5 559.6h3v0.5h-3zM138.5 559.6h3v0.5h-3zM143 559.6h5v0.5h-5zM149 559.6h3v0.5h-3zM152.5 559.6h3v0.5h-3zM156 559.6h99v0.5h-99zM261 559.6h3v0.5h-3zM126.5 560.1h3v0.5h-3zM138.5 560.1h3v0.5h-3zM143 560.1h4.5v0.5h-4.5zM149 560.1h2.5v0.5h-2.5zM152.5 560.1h3v0.5h-3zM156.5 560.1h96v0.5h-96zM261 560.1h3v0.5h-3zM126.5 560.6h3v0.5h-3zM138.5 560.6h3v0.5h-3zM143 560.6h4.5v0.5h-4.5zM149 560.6h2.5v0.5h-2.5zM152.5 560.6h3v0.5h-3zM156.5 560.6h92v0.5h-92zM261.5 560.6h2v0.5h-2zM126.5 561.1h2.5v0.5h-2.5zM138.5 561.1h3v0.5h-3zM142.5 561.1h3v0.5h-3zM146 561.1h1.5v0.5h-1.5zM149.5 561.1h1.5v0.5h-1.5zM152.5 561.1h3v0.5h-3zM156.5 561.1h89v0.5h-89zM127 561.6h2v0.5h-2zM138.5 561.6h3v0.5h-3zM143 561.6h5v0.5h-5zM149 561.6h2.5v0.5h-2.5zM152.5 561.6h3v0.5h-3zM156 561.6h85v0.5h-85zM244 561.6h1v0.5h-1zM138.5 562.1h3v0.5h-3zM143 562.1h5v0.5h-5zM149 562.1h2.5v0.5h-2.5zM152.5 562.1h3v0.5h-3zM156.5 562.1h84.5v0.5h-84.5zM138.5 562.6h3v0.5h-3zM145 562.6h3v0.5h-3zM148.5 562.6h3v0.5h-3zM152.5 562.6h3v0.5h-3zM156.5 562.6h80v0.5h-80zM238.5 562.6h2.5v0.5h-2.5zM138.5 563.1h3v0.5h-3zM145 563.1h3v0.5h-3zM148.5 563.1h3v0.5h-3zM152.5 563.1h3v0.5h-3zM156.5 563.1h78.5v0.5h-78.5zM239 563.1h1.5v0.5h-1.5zM138.5 563.6h3v0.5h-3zM143.5 563.6h1.5v0.5h-1.5zM145.5 563.6h2.5v0.5h-2.5zM149 563.6h2v0.5h-2zM152.5 563.6h3v0.5h-3zM156.5 563.6h75.5v0.5h-75.5zM138.5 564.1h3v0.5h-3zM143 564.1h5v0.5h-5zM149 564.1h2v0.5h-2zM152.5 564.1h3v0.5h-3zM156.5 564.1h73v0.5h-73zM138.5 564.6h3v0.5h-3zM143 564.6h5v0.5h-5zM148.5 564.6h3v0.5h-3zM153 564.6h2.5v0.5h-2.5zM156 564.6h72v0.5h-72zM258 564.6h1.5v0.5h-1.5zM138.5 565.1h3v0.5h-3zM143 565.1h4.5v0.5h-4.5zM148.5 565.1h3v0.5h-3zM152.5 565.1h3v0.5h-3zM156 565.1h70.5v0.5h-70.5zM257.5 565.1h2.5v0.5h-2.5zM138.5 565.6h3v0.5h-3zM143 565.6h5v0.5h-5zM148.5 565.6h3v0.5h-3zM152.5 565.6h3v0.5h-3zM156.5 565.6h67v0.5h-67zM257.5 565.6h3v0.5h-3zM139 566.1h2.5v0.5h-2.5zM143 566.1h5v0.5h-5zM148.5 566.1h3v0.5h-3zM153 566.1h2.5v0.5h-2.5zM156.5 566.1h63.5v0.5h-63.5zM221.5 566.1h1v0.5h-1zM257.5 566.1h3v0.5h-3zM139 566.6h2.5v0.5h-2.5zM142.5 566.6h5.5v0.5h-5.5zM148.5 566.6h3v0.5h-3zM153 566.6h2.5v0.5h-2.5zM156.5 566.6h63v0.5h-63zM258 566.6h2v0.5h-2zM139 567.1h2v0.5h-2zM142.5 567.1h5.5v0.5h-5.5zM148.5 567.1h3v0.5h-3zM152.5 567.1h3v0.5h-3zM157 567.1h62.5v0.5h-62.5zM229 567.1h1.5v0.5h-1.5zM258.5 567.1h1v0.5h-1zM139 567.6h2.5v0.5h-2.5zM142.5 567.6h5.5v0.5h-5.5zM148.5 567.6h3v0.5h-3zM152.5 567.6h3v0.5h-3zM157 567.6h60.5v0.5h-60.5zM218 567.6h1v0.5h-1zM228.5 567.6h2.5v0.5h-2.5zM138.5 568.1h3v0.5h-3zM142.5 568.1h5.5v0.5h-5.5zM148.5 568.1h3v0.5h-3zM152.5 568.1h3v0.5h-3zM156.5 568.1h59.5v0.5h-59.5zM228.5 568.1h2.5v0.5h-2.5zM138.5 568.6h3v0.5h-3zM142.5 568.6h5.5v0.5h-5.5zM148.5 568.6h3v0.5h-3zM153 568.6h2.5v0.5h-2.5zM156.5 568.6h53.5v0.5h-53.5zM210.5 568.6h2.5v0.5h-2.5zM214.5 568.6h0.5v0.5h-0.5zM228.5 568.6h2.5v0.5h-2.5zM138.5 569.1h3v0.5h-3zM142.5 569.1h5.5v0.5h-5.5zM148.5 569.1h3v0.5h-3zM152.5 569.1h3v0.5h-3zM156.5 569.1h53.5v0.5h-53.5zM228.5 569.1h2.5v0.5h-2.5zM138.5 569.6h3v0.5h-3zM142.5 569.6h5.5v0.5h-5.5zM148.5 569.6h3v0.5h-3zM152.5 569.6h3v0.5h-3zM156 569.6h54v0.5h-54zM229.5 569.6h0.5v0.5h-0.5zM138.5 570.1h3v0.5h-3zM142.5 570.1h5v0.5h-5zM148.5 570.1h3v0.5h-3zM153 570.1h2.5v0.5h-2.5zM156 570.1h51.5v0.5h-51.5zM208.5 570.1h1v0.5h-1zM138.5 570.6h3v0.5h-3zM143 570.6h4.5v0.5h-4.5zM148.5 570.6h3v0.5h-3zM153 570.6h2.5v0.5h-2.5zM156 570.6h50.5v0.5h-50.5zM138.5 571.1h3v0.5h-3zM143 571.1h4.5v0.5h-4.5zM149 571.1h2.5v0.5h-2.5zM153 571.1h2.5v0.5h-2.5zM156.5 571.1h46.5v0.5h-46.5zM203.5 571.1h2.5v0.5h-2.5zM138.5 571.6h3v0.5h-3zM143 571.6h4.5v0.5h-4.5zM149 571.6h2.5v0.5h-2.5zM153 571.6h2.5v0.5h-2.5zM157 571.6h46v0.5h-46zM204 571.6h2v0.5h-2zM138.5 572.1h3v0.5h-3zM143 572.1h4.5v0.5h-4.5zM148.5 572.1h3v0.5h-3zM153.5 572.1h1.5v0.5h-1.5zM156.5 572.1h46v0.5h-46zM138.5 572.6h2.5v0.5h-2.5zM142.5 572.6h3v0.5h-3zM146 572.6h1v0.5h-1zM149 572.6h2.5v0.5h-2.5zM156.5 572.6h44v0.5h-44zM139.5 573.1h1v0.5h-1zM142.5 573.1h5v0.5h-5zM149 573.1h2.5v0.5h-2.5zM156.5 573.1h42v0.5h-42zM143 573.6h5v0.5h-5zM149 573.6h2.5v0.5h-2.5zM156.5 573.6h41.5v0.5h-41.5zM143 574.1h5v0.5h-5zM148.5 574.1h3v0.5h-3zM153 574.1h2v0.5h-2zM156.5 574.1h41.5v0.5h-41.5zM139 574.6h2v0.5h-2zM143 574.6h5v0.5h-5zM148.5 574.6h3v0.5h-3zM152.5 574.6h3v0.5h-3zM156.5 574.6h40.5v0.5h-40.5zM139 575.1h2.5v0.5h-2.5zM143 575.1h5v0.5h-5zM148.5 575.1h3v0.5h-3zM152.5 575.1h3v0.5h-3zM156.5 575.1h35.5v0.5h-35.5zM192.5 575.1h4v0.5h-4zM138.5 575.6h3v0.5h-3zM142.5 575.6h5v0.5h-5zM149 575.6h2.5v0.5h-2.5zM152.5 575.6h2.5v0.5h-2.5zM156.5 575.6h34.5v0.5h-34.5zM138.5 576.1h3v0.5h-3zM142.5 576.1h5v0.5h-5zM149.5 576.1h1.5v0.5h-1.5zM153 576.1h2.5v0.5h-2.5zM156.5 576.1h34.5v0.5h-34.5zM138.5 576.6h3v0.5h-3zM143 576.6h5v0.5h-5zM153 576.6h2.5v0.5h-2.5zM156.5 576.6h32.5v0.5h-32.5zM138.5 577.1h3v0.5h-3zM142.5 577.1h5.5v0.5h-5.5zM149 577.1h2v0.5h-2zM153 577.1h2.5v0.5h-2.5zM156.5 577.1h32.5v0.5h-32.5zM138.5 577.6h3v0.5h-3zM142.5 577.6h5.5v0.5h-5.5zM149 577.6h2.5v0.5h-2.5zM153 577.6h2.5v0.5h-2.5zM156.5 577.6h32v0.5h-32zM191.5 577.6h1.5v0.5h-1.5zM138.5 578.1h3v0.5h-3zM142.5 578.1h5.5v0.5h-5.5zM148.5 578.1h3v0.5h-3zM152.5 578.1h3v0.5h-3zM156.5 578.1h26.5v0.5h-26.5zM183.5 578.1h3.5v0.5h-3.5zM191 578.1h2.5v0.5h-2.5zM138.5 578.6h3v0.5h-3zM142.5 578.6h5.5v0.5h-5.5zM148.5 578.6h3v0.5h-3zM152.5 578.6h3v0.5h-3zM156 578.6h27.5v0.5h-27.5zM191 578.6h2.5v0.5h-2.5zM138.5 579.1h3v0.5h-3zM143 579.1h2v0.5h-2zM145.5 579.1h6v0.5h-6zM153 579.1h2.5v0.5h-2.5zM156 579.1h27.5v0.5h-27.5zM191 579.1h2.5v0.5h-2.5zM138.5 579.6h3v0.5h-3zM143 579.6h5.5v0.5h-5.5zM149 579.6h2.5v0.5h-2.5zM153 579.6h2.5v0.5h-2.5zM156 579.6h27v0.5h-27zM191 579.6h2.5v0.5h-2.5zM138.5 580.1h3v0.5h-3zM142.5 580.1h5.5v0.5h-5.5zM149 580.1h2.5v0.5h-2.5zM153 580.1h2.5v0.5h-2.5zM156.5 580.1h26v0.5h-26zM192 580.1h0.5v0.5h-0.5zM138.5 580.6h2.5v0.5h-2.5zM142.5 580.6h5.5v0.5h-5.5zM149 580.6h2.5v0.5h-2.5zM153 580.6h2.5v0.5h-2.5zM156 580.6h25.5v0.5h-25.5zM139 581.1h1.5v0.5h-1.5zM142.5 581.1h5.5v0.5h-5.5zM149 581.1h2.5v0.5h-2.5zM153 581.1h2.5v0.5h-2.5zM156 581.1h25.5v0.5h-25.5zM143 581.6h4.5v0.5h-4.5zM148.5 581.6h3v0.5h-3zM153 581.6h2.5v0.5h-2.5zM156.5 581.6h22v0.5h-22zM179 581.6h2.5v0.5h-2.5zM142.5 582.1h5.5v0.5h-5.5zM148.5 582.1h3v0.5h-3zM152.5 582.1h3v0.5h-3zM156.5 582.1h22v0.5h-22zM179.5 582.1h1.5v0.5h-1.5zM142.5 582.6h5.5v0.5h-5.5zM149 582.6h2.5v0.5h-2.5zM152.5 582.6h3v0.5h-3zM156.5 582.6h21v0.5h-21zM142.5 583.1h5.5v0.5h-5.5zM149 583.1h2.5v0.5h-2.5zM152.5 583.1h3v0.5h-3zM156.5 583.1h20.5v0.5h-20.5zM142.5 583.6h5.5v0.5h-5.5zM149 583.6h2.5v0.5h-2.5zM153 583.6h2.5v0.5h-2.5zM156.5 583.6h20.5v0.5h-20.5zM142.5 584.1h5.5v0.5h-5.5zM148.5 584.1h3v0.5h-3zM152.5 584.1h3v0.5h-3zM156.5 584.1h17.5v0.5h-17.5zM142.5 584.6h5.5v0.5h-5.5zM148.5 584.6h3v0.5h-3zM152.5 584.6h3v0.5h-3zM156.5 584.6h12v0.5h-12zM169 584.6h4.5v0.5h-4.5zM143 585.1h5v0.5h-5zM148.5 585.1h3v0.5h-3zM152.5 585.1h3v0.5h-3zM156.5 585.1h12v0.5h-12zM169 585.1h3.5v0.5h-3.5zM143 585.6h5v0.5h-5zM149 585.6h2.5v0.5h-2.5zM153 585.6h2.5v0.5h-2.5zM156.5 585.6h12v0.5h-12zM169.5 585.6h3v0.5h-3zM143.5 586.1h4v0.5h-4zM149 586.1h2.5v0.5h-2.5zM152.5 586.1h3.5v0.5h-3.5zM156.5 586.1h12v0.5h-12zM170 586.1h2v0.5h-2zM145.5 586.6h2v0.5h-2zM149 586.6h2.5v0.5h-2.5zM152.5 586.6h3v0.5h-3zM156.5 586.6h11.5v0.5h-11.5zM170.5 586.6h0.5v0.5h-0.5zM149 587.1h2.5v0.5h-2.5zM153 587.1h2.5v0.5h-2.5zM156.5 587.1h5.5v0.5h-5.5zM162.5 587.1h1v0.5h-1zM164.5 587.1h2.5v0.5h-2.5zM149 587.6h2.5v0.5h-2.5zM153 587.6h2.5v0.5h-2.5zM156.5 587.6h5v0.5h-5zM165.5 587.6h0.5v0.5h-0.5zM149 588.1h2.5v0.5h-2.5zM153 588.1h2.5v0.5h-2.5zM157 588.1h4v0.5h-4zM148.5 588.6h3v0.5h-3zM153.5 588.6h1.5v0.5h-1.5zM158 588.6h3v0.5h-3zM149 589.1h2.5v0.5h-2.5zM153 589.1h2v0.5h-2zM157 589.1h5.5v0.5h-5.5zM149 589.6h2.5v0.5h-2.5zM153 589.6h2.5v0.5h-2.5zM156.5 589.6h6.5v0.5h-6.5zM149.5 590.1h1.5v0.5h-1.5zM153 590.1h2.5v0.5h-2.5zM156.5 590.1h6.5v0.5h-6.5zM153 590.6h2.5v0.5h-2.5zM156.5 590.6h7v0.5h-7zM153 591.1h2v0.5h-2zM156.5 591.1h8v0.5h-8zM166 591.1h1.5v0.5h-1.5zM156.5 591.6h3v0.5h-3zM161 591.6h3.5v0.5h-3.5zM165.5 591.6h2.5v0.5h-2.5zM156.5 592.1h4v0.5h-4zM162 592.1h3v0.5h-3zM165.5 592.1h3v0.5h-3zM156.5 592.6h4.5v0.5h-4.5zM162 592.6h6.5v0.5h-6.5zM156.5 593.1h4.5v0.5h-4.5zM162 593.1h6v0.5h-6zM157 593.6h11v0.5h-11zM157.5 594.1h5v0.5h-5zM164 594.1h4.5v0.5h-4.5zM158 594.6h5v0.5h-5zM164.5 594.6h4v0.5h-4zM159 595.1h4.5v0.5h-4.5zM165 595.1h4.5v0.5h-4.5zM159.5 595.6h5.5v0.5h-5.5zM166 595.6h4.5v0.5h-4.5zM160 596.1h5.5v0.5h-5.5zM166 596.1h5v0.5h-5zM161 596.6h10v0.5h-10zM161.5 597.1h10v0.5h-10zM162.5 597.6h4.5v0.5h-4.5zM168 597.6h5v0.5h-5zM162.5 598.1h5v0.5h-5zM168.5 598.1h5v0.5h-5zM163.5 598.6h5v0.5h-5zM169 598.6h5v0.5h-5zM163.5 599.1h11v0.5h-11zM164 599.6h10.5v0.5h-10.5zM165.5 600.1h5v0.5h-5zM171 600.1h3.5v0.5h-3.5zM166.5 600.6h4v0.5h-4zM171.5 600.6h3v0.5h-3zM166.5 601.1h4.5v0.5h-4.5zM172.5 601.1h1.5v0.5h-1.5zM167.5 601.6h3.5v0.5h-3.5zM168 602.1h2.5v0.5h-2.5zM168.5 602.6h1.5v0.5h-1.5zM203 617.1h1.5v0.5h-1.5zM202.5 617.6h2.5v0.5h-2.5zM202.5 618.1h2.5v0.5h-2.5zM202.5 618.6h2.5v0.5h-2.5zM202.5 619.1h2.5v0.5h-2.5zM203.5 619.6h0.5v0.5h-0.5z" fill="#000"/>
<path d="M206 482.1h2v0.5h-2zM206 482.6h2.5v0.5h-2.5zM205.5 483.1h3v0.5h-3zM205.5 483.6h3v0.5h-3zM206 484.1h2v0.5h-2zM207 484.6h0.5v0.5h-0.5zM194.5 490.1h2v0.5h-2zM194.5 490.6h2.5v0.5h-2.5zM194.5 491.1h2.5v0.5h-2.5zM194.5 491.6h2.5v0.5h-2.5zM194.5 492.1h2v0.5h-2zM188 492.6h1v0.5h-1zM187.5 493.1h2v0.5h-2zM187 493.6h3v0.5h-3zM187 494.1h3v0.5h-3zM187.5 494.6h2v0.5h-2zM188 495.1h1.5v0.5h-1.5zM183.5 498.1h1.5v0.5h-1.5zM221 498.1h2v0.5h-2zM182.5 498.6h3v0.5h-3zM220.5 498.6h2.5v0.5h-2.5zM182.5 499.1h3v0.5h-3zM220.5 499.1h2.5v0.5h-2.5zM181.5 499.6h4v0.5h-4zM220.5 499.6h2.5v0.5h-2.5zM181 500.1h4v0.5h-4zM221 500.1h1.5v0.5h-1.5zM181 500.6h3.5v0.5h-3.5zM181 501.1h3v0.5h-3zM181 501.6h2.5v0.5h-2.5zM213 501.6h1v0.5h-1zM181.5 502.1h1.5v0.5h-1.5zM212.5 502.1h2v0.5h-2zM178.5 502.6h1v0.5h-1zM212 502.6h3v0.5h-3zM177.5 503.1h2.5v0.5h-2.5zM212 503.1h3v0.5h-3zM177 503.6h3.5v0.5h-3.5zM191.5 503.6h2v0.5h-2zM212 503.6h2.5v0.5h-2.5zM176.5 504.1h4v0.5h-4zM191.5 504.1h2.5v0.5h-2.5zM212.5 504.1h1.5v0.5h-1.5zM176.5 504.6h3.5v0.5h-3.5zM191.5 504.6h2.5v0.5h-2.5zM176 505.1h3.5v0.5h-3.5zM191.5 505.1h2.5v0.5h-2.5zM175 505.6h4v0.5h-4zM192 505.6h1.5v0.5h-1.5zM174.5 506.1h4v0.5h-4zM174.5 506.6h3v0.5h-3zM174.5 507.1h2.5v0.5h-2.5zM175 507.6h2v0.5h-2zM215.5 510.1h1.5v0.5h-1.5zM215 510.6h2.5v0.5h-2.5zM215 511.1h2.5v0.5h-2.5zM215 511.6h2.5v0.5h-2.5zM215 512.1h2.5v0.5h-2.5zM215.5 512.6h1v0.5h-1zM194.5 513.6h2v0.5h-2zM194.5 514.1h2.5v0.5h-2.5zM194 514.6h3v0.5h-3zM201.5 514.6h2v0.5h-2zM224.5 514.6h2v0.5h-2zM194.5 515.1h2.5v0.5h-2.5zM201.5 515.1h2.5v0.5h-2.5zM224.5 515.1h2.5v0.5h-2.5zM234.5 515.1h1.5v0.5h-1.5zM194.5 515.6h2v0.5h-2zM201 515.6h3v0.5h-3zM224 515.6h3v0.5h-3zM234 515.6h2.5v0.5h-2.5zM201 516.1h3v0.5h-3zM224.5 516.1h2.5v0.5h-2.5zM234 516.1h2.5v0.5h-2.5zM182 516.6h1.5v0.5h-1.5zM200.5 516.6h3v0.5h-3zM224.5 516.6h2v0.5h-2zM234 516.6h2.5v0.5h-2.5zM181.5 517.1h2.5v0.5h-2.5zM200.5 517.1h2.5v0.5h-2.5zM234 517.1h2.5v0.5h-2.5zM181.5 517.6h3.5v0.5h-3.5zM200 517.6h3v0.5h-3zM235 517.6h0.5v0.5h-0.5zM240.5 517.6h2v0.5h-2zM181.5 518.1h4v0.5h-4zM200 518.1h3v0.5h-3zM240.5 518.1h2.5v0.5h-2.5zM176.5 518.6h2v0.5h-2zM181 518.6h4.5v0.5h-4.5zM200 518.6h2.5v0.5h-2.5zM240 518.6h3v0.5h-3zM176.5 519.1h2.5v0.5h-2.5zM181 519.1h4.5v0.5h-4.5zM200 519.1h2.5v0.5h-2.5zM226 519.1h1.5v0.5h-1.5zM240 519.1h3v0.5h-3zM176 519.6h3v0.5h-3zM180 519.6h5v0.5h-5zM200.5 519.6h1.5v0.5h-1.5zM225.5 519.6h2.5v0.5h-2.5zM240.5 519.6h2v0.5h-2zM176 520.1h3v0.5h-3zM179.5 520.1h5.5v0.5h-5.5zM225.5 520.1h3v0.5h-3zM176.5 520.6h2v0.5h-2zM179.5 520.6h6v0.5h-6zM225.5 520.6h2.5v0.5h-2.5zM240.5 520.6h1.5v0.5h-1.5zM177 521.1h1v0.5h-1zM179.5 521.1h6v0.5h-6zM207.5 521.1h1.5v0.5h-1.5zM222 521.1h1.5v0.5h-1.5zM225.5 521.1h2.5v0.5h-2.5zM231.5 521.1h1.5v0.5h-1.5zM240 521.1h2.5v0.5h-2.5zM180 521.6h5.5v0.5h-5.5zM190 521.6h1.5v0.5h-1.5zM207 521.6h2.5v0.5h-2.5zM216.5 521.6h2.5v0.5h-2.5zM221.5 521.6h2.5v0.5h-2.5zM226.5 521.6h1v0.5h-1zM231 521.6h2.5v0.5h-2.5zM240 521.6h2.5v0.5h-2.5zM183 522.1h2v0.5h-2zM189.5 522.1h2.5v0.5h-2.5zM207 522.1h2.5v0.5h-2.5zM216.5 522.1h2.5v0.5h-2.5zM221.5 522.1h2.5v0.5h-2.5zM231 522.1h2.5v0.5h-2.5zM240 522.1h2.5v0.5h-2.5zM189.5 522.6h3v0.5h-3zM194.5 522.6h1v0.5h-1zM207 522.6h2.5v0.5h-2.5zM216.5 522.6h2.5v0.5h-2.5zM221.5 522.6h2.5v0.5h-2.5zM231 522.6h2.5v0.5h-2.5zM240 522.6h2.5v0.5h-2.5zM189.5 523.1h6.5v0.5h-6.5zM207 523.1h2v0.5h-2zM216.5 523.1h2.5v0.5h-2.5zM221.5 523.1h2v0.5h-2zM231 523.1h2.5v0.5h-2.5zM240.5 523.1h1.5v0.5h-1.5zM189.5 523.6h6.5v0.5h-6.5zM207.5 523.6h1v0.5h-1zM217 523.6h1.5v0.5h-1.5zM232 523.6h1v0.5h-1zM180.5 524.1h1.5v0.5h-1.5zM184 524.1h1.5v0.5h-1.5zM190.5 524.1h5.5v0.5h-5.5zM207 524.1h2v0.5h-2zM180 524.6h2.5v0.5h-2.5zM183.5 524.6h2.5v0.5h-2.5zM191.5 524.6h4.5v0.5h-4.5zM206.5 524.6h3v0.5h-3zM212 524.6h1.5v0.5h-1.5zM180 525.1h2.5v0.5h-2.5zM183.5 525.1h2.5v0.5h-2.5zM191.5 525.1h4v0.5h-4zM199 525.1h0.5v0.5h-0.5zM206.5 525.1h3v0.5h-3zM211.5 525.1h2.5v0.5h-2.5zM224 525.1h2v0.5h-2zM180 525.6h2.5v0.5h-2.5zM183.5 525.6h2.5v0.5h-2.5zM192 525.6h1.5v0.5h-1.5zM198.5 525.6h2v0.5h-2zM206.5 525.6h2.5v0.5h-2.5zM211.5 525.6h2.5v0.5h-2.5zM215.5 525.6h2v0.5h-2zM221.5 525.6h5v0.5h-5zM240 525.6h0.5v0.5h-0.5zM180 526.1h2.5v0.5h-2.5zM183.5 526.1h2.5v0.5h-2.5zM198 526.1h3v0.5h-3zM203.5 526.1h1.5v0.5h-1.5zM207 526.1h1.5v0.5h-1.5zM211.5 526.1h2.5v0.5h-2.5zM215 526.1h3v0.5h-3zM221 526.1h5.5v0.5h-5.5zM239 526.1h2.5v0.5h-2.5zM180.5 526.6h1.5v0.5h-1.5zM184 526.6h1.5v0.5h-1.5zM198 526.6h3v0.5h-3zM203 526.6h2.5v0.5h-2.5zM211.5 526.6h2.5v0.5h-2.5zM215 526.6h3v0.5h-3zM221 526.6h5.5v0.5h-5.5zM239 526.6h2.5v0.5h-2.5zM250 526.6h1.5v0.5h-1.5zM261 526.6h0.5v0.5h-0.5zM198 527.1h3v0.5h-3zM203 527.1h2.5v0.5h-2.5zM212.5 527.1h0.5v0.5h-0.5zM215 527.1h3v0.5h-3zM221 527.1h5v0.5h-5zM239 527.1h2.5v0.5h-2.5zM249.5 527.1h2.5v0.5h-2.5zM260 527.1h2v0.5h-2zM198.5 527.6h3v0.5h-3zM203 527.6h2.5v0.5h-2.5zM209.5 527.6h1.5v0.5h-1.5zM215 527.6h3v0.5h-3zM221.5 527.6h2v0.5h-2zM239 527.6h2.5v0.5h-2.5zM249.5 527.6h3v0.5h-3zM260 527.6h2.5v0.5h-2.5zM184 528.1h1.5v0.5h-1.5zM199 528.1h2.5v0.5h-2.5zM203 528.1h8.5v0.5h-8.5zM215 528.1h5v0.5h-5zM239.5 528.1h1.5v0.5h-1.5zM249.5 528.1h3v0.5h-3zM259.5 528.1h3v0.5h-3zM183.5 528.6h2.5v0.5h-2.5zM186.5 528.6h2.5v0.5h-2.5zM196.5 528.6h1v0.5h-1zM199 528.6h2.5v0.5h-2.5zM203.5 528.6h8.5v0.5h-8.5zM215.5 528.6h4.5v0.5h-4.5zM250 528.6h2v0.5h-2zM260 528.6h2.5v0.5h-2.5zM181 529.1h1v0.5h-1zM183.5 529.1h6.5v0.5h-6.5zM196 529.1h2v0.5h-2zM199 529.1h2.5v0.5h-2.5zM203.5 529.1h8.5v0.5h-8.5zM217.5 529.1h3v0.5h-3zM221.5 529.1h2v0.5h-2zM239 529.1h1.5v0.5h-1.5zM250.5 529.1h1v0.5h-1zM260.5 529.1h1.5v0.5h-1.5zM180.5 529.6h2v0.5h-2zM183.5 529.6h6.5v0.5h-6.5zM195.5 529.6h3v0.5h-3zM199.5 529.6h1.5v0.5h-1.5zM203.5 529.6h8v0.5h-8zM217.5 529.6h3v0.5h-3zM221.5 529.6h3v0.5h-3zM238.5 529.6h2.5v0.5h-2.5zM180 530.1h3v0.5h-3zM183.5 530.1h6.5v0.5h-6.5zM195.5 530.1h3v0.5h-3zM204 530.1h7v0.5h-7zM215 530.1h2v0.5h-2zM218 530.1h2v0.5h-2zM221 530.1h3.5v0.5h-3.5zM238.5 530.1h3v0.5h-3zM179 530.6h4v0.5h-4zM184 530.6h6v0.5h-6zM195.5 530.6h2.5v0.5h-2.5zM208.5 530.6h2.5v0.5h-2.5zM213 530.6h4.5v0.5h-4.5zM221.5 530.6h3.5v0.5h-3.5zM238.5 530.6h2.5v0.5h-2.5zM179 531.1h4v0.5h-4zM184 531.1h5.5v0.5h-5.5zM196 531.1h1.5v0.5h-1.5zM200 531.1h2v0.5h-2zM203 531.1h3.5v0.5h-3.5zM208.5 531.1h3v0.5h-3zM212.5 531.1h5v0.5h-5zM221.5 531.1h3v0.5h-3zM238.5 531.1h2.5v0.5h-2.5zM251 531.1h1.5v0.5h-1.5zM179 531.6h3.5v0.5h-3.5zM184.5 531.6h4v0.5h-4zM193 531.6h3.5v0.5h-3.5zM199 531.6h7.5v0.5h-7.5zM208.5 531.6h3v0.5h-3zM212.5 531.6h5v0.5h-5zM222.5 531.6h2v0.5h-2zM239.5 531.6h1v0.5h-1zM250.5 531.6h2.5v0.5h-2.5zM256.5 531.6h2v0.5h-2zM177.5 532.1h4v0.5h-4zM185 532.1h3v0.5h-3zM192.5 532.1h4.5v0.5h-4.5zM199 532.1h7.5v0.5h-7.5zM208.5 532.1h3v0.5h-3zM212.5 532.1h4.5v0.5h-4.5zM250 532.1h3v0.5h-3zM256 532.1h3v0.5h-3zM177 532.6h4v0.5h-4zM185 532.6h3v0.5h-3zM192.5 532.6h4.5v0.5h-4.5zM199 532.6h7.5v0.5h-7.5zM209 532.6h2.5v0.5h-2.5zM212.5 532.6h2.5v0.5h-2.5zM221.5 532.6h1.5v0.5h-1.5zM230 532.6h2.5v0.5h-2.5zM250 532.6h3v0.5h-3zM256 532.6h3v0.5h-3zM177 533.1h3v0.5h-3zM181.5 533.1h2.5v0.5h-2.5zM185.5 533.1h2v0.5h-2zM188.5 533.1h2v0.5h-2zM192 533.1h6v0.5h-6zM199 533.1h7v0.5h-7zM208.5 533.1h3.5v0.5h-3.5zM213.5 533.1h0.5v0.5h-0.5zM221 533.1h2.5v0.5h-2.5zM230 533.1h2.5v0.5h-2.5zM250.5 533.1h2v0.5h-2zM256 533.1h3v0.5h-3zM177 533.6h3.5v0.5h-3.5zM181.5 533.6h2.5v0.5h-2.5zM186 533.6h1.5v0.5h-1.5zM188.5 533.6h10v0.5h-10zM199.5 533.6h4.5v0.5h-4.5zM208.5 533.6h4v0.5h-4zM220.5 533.6h3v0.5h-3zM230 533.6h2.5v0.5h-2.5zM244 533.6h0.5v0.5h-0.5zM251 533.6h1v0.5h-1zM256.5 533.6h2v0.5h-2zM177 534.1h7v0.5h-7zM185.5 534.1h9v0.5h-9zM195 534.1h3.5v0.5h-3.5zM202 534.1h1.5v0.5h-1.5zM204 534.1h2v0.5h-2zM209 534.1h4v0.5h-4zM220.5 534.1h3v0.5h-3zM230 534.1h2.5v0.5h-2.5zM243 534.1h2v0.5h-2zM178 534.6h2v0.5h-2zM180.5 534.6h3.5v0.5h-3.5zM185.5 534.6h2.5v0.5h-2.5zM188.5 534.6h6v0.5h-6zM195.5 534.6h3v0.5h-3zM200 534.6h6v0.5h-6zM209.5 534.6h3.5v0.5h-3.5zM220.5 534.6h4.5v0.5h-4.5zM227 534.6h1.5v0.5h-1.5zM230.5 534.6h1.5v0.5h-1.5zM242.5 534.6h3v0.5h-3zM178.5 535.1h1v0.5h-1zM180 535.1h3.5v0.5h-3.5zM185.5 535.1h8.5v0.5h-8.5zM196 535.1h2v0.5h-2zM199.5 535.1h6.5v0.5h-6.5zM210 535.1h3v0.5h-3zM215.5 535.1h3v0.5h-3zM221 535.1h4.5v0.5h-4.5zM226.5 535.1h2.5v0.5h-2.5zM236.5 535.1h0.5v0.5h-0.5zM242.5 535.1h3v0.5h-3zM250 535.1h1v0.5h-1zM180.5 535.6h2.5v0.5h-2.5zM185.5 535.6h8v0.5h-8zM199.5 535.6h6.5v0.5h-6.5zM210.5 535.6h2v0.5h-2zM215.5 535.6h3.5v0.5h-3.5zM222 535.6h3.5v0.5h-3.5zM226.5 535.6h2.5v0.5h-2.5zM235.5 535.6h2.5v0.5h-2.5zM243 535.6h2.5v0.5h-2.5zM249.5 535.6h2v0.5h-2zM180.5 536.1h2v0.5h-2zM186 536.1h1v0.5h-1zM188 536.1h5.5v0.5h-5.5zM199.5 536.1h4v0.5h-4zM204 536.1h3v0.5h-3zM215.5 536.1h3.5v0.5h-3.5zM222 536.1h3.5v0.5h-3.5zM226.5 536.1h2.5v0.5h-2.5zM235.5 536.1h2.5v0.5h-2.5zM243 536.1h2v0.5h-2zM249 536.1h3v0.5h-3zM188 536.6h5.5v0.5h-5.5zM196.5 536.6h2v0.5h-2zM199.5 536.6h3.5v0.5h-3.5zM205 536.6h2.5v0.5h-2.5zM215.5 536.6h3.5v0.5h-3.5zM222.5 536.6h6.5v0.5h-6.5zM235.5 536.6h3.5v0.5h-3.5zM249 536.6h3v0.5h-3zM189 537.1h1v0.5h-1zM191 537.1h2v0.5h-2zM196 537.1h2.5v0.5h-2.5zM199 537.1h2.5v0.5h-2.5zM204.5 537.1h3v0.5h-3zM208.5 537.1h2v0.5h-2zM212 537.1h1.5v0.5h-1.5zM214.5 537.1h0.5v0.5h-0.5zM216 537.1h3v0.5h-3zM222.5 537.1h5.5v0.5h-5.5zM235.5 537.1h4v0.5h-4zM249.5 537.1h2.5v0.5h-2.5zM190.5 537.6h1.5v0.5h-1.5zM193.5 537.6h2v0.5h-2zM196 537.6h6v0.5h-6zM204.5 537.6h3v0.5h-3zM208 537.6h8v0.5h-8zM217 537.6h1.5v0.5h-1.5zM223 537.6h4.5v0.5h-4.5zM236 537.6h3.5v0.5h-3.5zM250 537.6h1.5v0.5h-1.5zM255.5 537.6h1.5v0.5h-1.5zM190 538.1h2.5v0.5h-2.5zM193.5 538.1h9v0.5h-9zM205 538.1h2v0.5h-2zM208 538.1h8v0.5h-8zM222.5 538.1h5v0.5h-5zM236.5 538.1h3v0.5h-3zM255 538.1h2.5v0.5h-2.5zM190 538.6h2.5v0.5h-2.5zM193 538.6h9.5v0.5h-9.5zM205.5 538.6h1v0.5h-1zM208 538.6h9v0.5h-9zM219 538.6h2v0.5h-2zM222 538.6h5v0.5h-5zM236.5 538.6h5v0.5h-5zM255 538.6h2.5v0.5h-2.5zM190 539.1h2.5v0.5h-2.5zM193.5 539.1h8.5v0.5h-8.5zM208.5 539.1h9v0.5h-9zM218.5 539.1h2.5v0.5h-2.5zM222.5 539.1h4v0.5h-4zM228.5 539.1h2.5v0.5h-2.5zM236 539.1h3v0.5h-3zM239.5 539.1h2.5v0.5h-2.5zM255 539.1h2.5v0.5h-2.5zM190.5 539.6h2v0.5h-2zM193.5 539.6h3v0.5h-3zM197 539.6h4.5v0.5h-4.5zM210 539.6h3v0.5h-3zM214 539.6h4v0.5h-4zM218.5 539.6h3v0.5h-3zM222.5 539.6h2v0.5h-2zM228.5 539.6h2.5v0.5h-2.5zM236 539.6h3v0.5h-3zM239.5 539.6h2.5v0.5h-2.5zM255 539.6h2.5v0.5h-2.5zM193.5 540.1h3v0.5h-3zM197 540.1h3v0.5h-3zM201 540.1h1.5v0.5h-1.5zM210 540.1h2.5v0.5h-2.5zM214.5 540.1h3.5v0.5h-3.5zM218.5 540.1h3.5v0.5h-3.5zM228.5 540.1h2.5v0.5h-2.5zM236 540.1h2.5v0.5h-2.5zM239.5 540.1h2.5v0.5h-2.5zM194 540.6h2v0.5h-2zM197.5 540.6h6v0.5h-6zM210.5 540.6h2v0.5h-2zM214 540.6h3.5v0.5h-3.5zM219 540.6h3.5v0.5h-3.5zM226.5 540.6h1.5v0.5h-1.5zM228.5 540.6h2.5v0.5h-2.5zM232.5 540.6h0.5v0.5h-0.5zM236.5 540.6h2v0.5h-2zM240 540.6h1.5v0.5h-1.5zM197.5 541.1h6v0.5h-6zM214 541.1h3v0.5h-3zM219 541.1h3.5v0.5h-3.5zM226 541.1h2.5v0.5h-2.5zM229 541.1h1.5v0.5h-1.5zM231.5 541.1h2.5v0.5h-2.5zM237 541.1h2.5v0.5h-2.5zM266.5 541.1h1v0.5h-1zM197.5 541.6h6v0.5h-6zM214 541.6h2.5v0.5h-2.5zM219 541.6h3.5v0.5h-3.5zM226 541.6h2.5v0.5h-2.5zM230 541.6h4v0.5h-4zM237 541.6h2.5v0.5h-2.5zM248 541.6h3v0.5h-3zM266 541.6h2v0.5h-2zM198 542.1h5.5v0.5h-5.5zM209 542.1h1v0.5h-1zM213 542.1h3.5v0.5h-3.5zM218 542.1h4.5v0.5h-4.5zM226 542.1h2.5v0.5h-2.5zM229.5 542.1h4.5v0.5h-4.5zM237 542.1h2.5v0.5h-2.5zM247.5 542.1h4v0.5h-4zM265.5 542.1h3v0.5h-3zM198.5 542.6h1v0.5h-1zM201.5 542.6h1.5v0.5h-1.5zM208 542.6h3.5v0.5h-3.5zM212.5 542.6h4v0.5h-4zM217.5 542.6h5v0.5h-5zM226 542.6h3v0.5h-3zM229.5 542.6h4.5v0.5h-4.5zM237 542.6h2.5v0.5h-2.5zM247.5 542.6h4v0.5h-4zM265.5 542.6h3v0.5h-3zM208 543.1h8.5v0.5h-8.5zM217 543.1h8.5v0.5h-8.5zM226.5 543.1h7v0.5h-7zM237.5 543.1h1.5v0.5h-1.5zM247.5 543.1h4v0.5h-4zM266 543.1h2.5v0.5h-2.5zM208 543.6h8.5v0.5h-8.5zM217 543.6h9v0.5h-9zM226.5 543.6h3v0.5h-3zM230 543.6h3v0.5h-3zM233.5 543.6h2v0.5h-2zM247.5 543.6h4v0.5h-4zM253.5 543.6h2.5v0.5h-2.5zM264.5 543.6h3.5v0.5h-3.5zM208.5 544.1h7.5v0.5h-7.5zM217.5 544.1h12.5v0.5h-12.5zM230.5 544.1h5.5v0.5h-5.5zM247.5 544.1h4.5v0.5h-4.5zM253 544.1h3.5v0.5h-3.5zM264 544.1h3v0.5h-3zM209 544.6h3.5v0.5h-3.5zM213 544.6h1v0.5h-1zM216 544.6h20v0.5h-20zM247.5 544.6h4.5v0.5h-4.5zM253 544.6h4v0.5h-4zM264 544.6h3v0.5h-3zM210.5 545.1h1.5v0.5h-1.5zM215.5 545.1h2.5v0.5h-2.5zM219 545.1h17v0.5h-17zM247.5 545.1h4.5v0.5h-4.5zM253 545.1h4.5v0.5h-4.5zM264 545.1h3v0.5h-3zM215.5 545.6h3v0.5h-3zM219 545.6h16.5v0.5h-16.5zM246 545.6h11.5v0.5h-11.5zM264.5 545.6h2v0.5h-2zM215.5 546.1h3v0.5h-3zM219 546.1h16v0.5h-16zM246 546.1h3v0.5h-3zM251 546.1h6.5v0.5h-6.5zM216 546.6h2v0.5h-2zM219.5 546.6h15.5v0.5h-15.5zM242.5 546.6h2v0.5h-2zM246 546.6h3.5v0.5h-3.5zM251 546.6h6.5v0.5h-6.5zM216.5 547.1h0.5v0.5h-0.5zM220 547.1h14.5v0.5h-14.5zM235 547.1h2v0.5h-2zM239.5 547.1h1v0.5h-1zM242 547.1h3v0.5h-3zM246 547.1h3v0.5h-3zM251 547.1h5.5v0.5h-5.5zM220.5 547.6h13.5v0.5h-13.5zM234.5 547.6h2.5v0.5h-2.5zM238 547.6h3v0.5h-3zM242 547.6h3v0.5h-3zM246.5 547.6h2.5v0.5h-2.5zM251 547.6h5.5v0.5h-5.5zM265 547.6h1v0.5h-1zM221 548.1h24v0.5h-24zM252 548.1h0.5v0.5h-0.5zM254 548.1h2.5v0.5h-2.5zM264.5 548.1h2v0.5h-2zM223.5 548.6h0.5v0.5h-0.5zM225.5 548.6h8.5v0.5h-8.5zM234.5 548.6h2.5v0.5h-2.5zM237.5 548.6h7v0.5h-7zM245.5 548.6h1.5v0.5h-1.5zM250 548.6h1.5v0.5h-1.5zM254.5 548.6h1.5v0.5h-1.5zM264 548.6h3v0.5h-3zM226 549.1h7.5v0.5h-7.5zM235 549.1h2v0.5h-2zM237.5 549.1h10v0.5h-10zM249.5 549.1h2.5v0.5h-2.5zM263 549.1h0.5v0.5h-0.5zM264 549.1h3v0.5h-3zM228 549.6h0.5v0.5h-0.5zM229.5 549.6h2.5v0.5h-2.5zM238 549.6h9.5v0.5h-9.5zM249 549.6h3v0.5h-3zM262 549.6h5v0.5h-5zM269 549.6h2v0.5h-2zM229.5 550.1h2v0.5h-2zM237.5 550.1h3v0.5h-3zM241 550.1h2v0.5h-2zM243.5 550.1h4v0.5h-4zM248.5 550.1h3.5v0.5h-3.5zM256 550.1h1.5v0.5h-1.5zM262 550.1h5.5v0.5h-5.5zM268.5 550.1h3v0.5h-3zM237.5 550.6h3v0.5h-3zM243.5 550.6h4v0.5h-4zM248.5 550.6h4v0.5h-4zM253 550.6h5v0.5h-5zM262 550.6h5.5v0.5h-5.5zM268.5 550.6h3v0.5h-3zM237.5 551.1h3v0.5h-3zM243.5 551.1h4v0.5h-4zM248.5 551.1h10.5v0.5h-10.5zM262 551.1h5v0.5h-5zM269 551.1h2.5v0.5h-2.5zM238 551.6h2v0.5h-2zM244.5 551.6h2.5v0.5h-2.5zM248 551.6h11.5v0.5h-11.5zM262.5 551.6h1.5v0.5h-1.5zM265.5 551.6h1v0.5h-1zM269 551.6h2v0.5h-2zM244.5 552.1h2.5v0.5h-2.5zM248 552.1h11.5v0.5h-11.5zM264 552.1h1v0.5h-1zM244.5 552.6h2.5v0.5h-2.5zM248 552.6h14v0.5h-14zM263 552.6h3v0.5h-3zM245 553.1h1.5v0.5h-1.5zM248 553.1h4.5v0.5h-4.5zM253 553.1h2v0.5h-2zM255.5 553.1h10.5v0.5h-10.5zM248.5 553.6h1.5v0.5h-1.5zM255.5 553.6h2.5v0.5h-2.5zM258.5 553.6h7.5v0.5h-7.5zM255.5 554.1h2.5v0.5h-2.5zM258.5 554.1h7.5v0.5h-7.5zM259 554.6h3v0.5h-3zM262.5 554.6h3v0.5h-3zM263 555.1h1.5v0.5h-1.5zM265 556.6h1.5v0.5h-1.5zM259 557.1h2v0.5h-2zM264.5 557.1h3.5v0.5h-3.5zM254.5 557.6h2v0.5h-2zM257.5 557.6h3.5v0.5h-3.5zM264.5 557.6h4v0.5h-4zM252.5 558.1h9.5v0.5h-9.5zM264.5 558.1h4.5v0.5h-4.5zM252 558.6h10.5v0.5h-10.5zM264.5 558.6h4.5v0.5h-4.5zM243 559.1h1v0.5h-1zM252 559.1h10.5v0.5h-10.5zM265 559.1h4v0.5h-4zM242 559.6h2.5v0.5h-2.5zM247 559.6h1.5v0.5h-1.5zM252 559.6h4.5v0.5h-4.5zM257 559.6h5.5v0.5h-5.5zM266.5 559.6h2v0.5h-2zM236.5 560.1h2v0.5h-2zM242 560.1h2.5v0.5h-2.5zM246.5 560.1h2.5v0.5h-2.5zM251.5 560.1h3v0.5h-3zM257.5 560.1h1.5v0.5h-1.5zM260 560.1h2.5v0.5h-2.5zM236 560.6h2.5v0.5h-2.5zM242 560.6h3v0.5h-3zM246.5 560.6h2.5v0.5h-2.5zM251.5 560.6h3v0.5h-3zM261 560.6h0.5v0.5h-0.5zM236 561.1h3v0.5h-3zM242 561.1h2.5v0.5h-2.5zM246.5 561.1h3.5v0.5h-3.5zM251.5 561.1h3v0.5h-3zM263.5 561.1h2v0.5h-2zM224.5 561.6h0.5v0.5h-0.5zM225.5 561.6h1v0.5h-1zM236 561.6h3.5v0.5h-3.5zM242.5 561.6h2.5v0.5h-2.5zM246.5 561.6h4v0.5h-4zM251 561.6h3v0.5h-3zM262 561.6h6v0.5h-6zM223.5 562.1h3.5v0.5h-3.5zM235.5 562.1h4v0.5h-4zM241 562.1h4.5v0.5h-4.5zM247.5 562.1h6.5v0.5h-6.5zM261.5 562.1h6.5v0.5h-6.5zM223.5 562.6h5v0.5h-5zM234 562.6h1.5v0.5h-1.5zM236 562.6h4v0.5h-4zM240.5 562.6h5.5v0.5h-5.5zM247.5 562.6h6.5v0.5h-6.5zM261 562.6h7v0.5h-7zM223.5 563.1h5v0.5h-5zM233.5 563.1h12.5v0.5h-12.5zM248 563.1h2v0.5h-2zM250.5 563.1h3v0.5h-3zM261 563.1h7v0.5h-7zM217.5 563.6h0.5v0.5h-0.5zM223.5 563.6h5.5v0.5h-5.5zM232 563.6h4v0.5h-4zM237 563.6h9v0.5h-9zM250.5 563.6h2.5v0.5h-2.5zM261 563.6h2.5v0.5h-2.5zM266 563.6h1.5v0.5h-1.5zM216.5 564.1h2v0.5h-2zM221.5 564.1h1v0.5h-1zM224 564.1h5v0.5h-5zM231.5 564.1h4.5v0.5h-4.5zM237.5 564.1h8.5v0.5h-8.5zM247.5 564.1h1.5v0.5h-1.5zM251 564.1h1.5v0.5h-1.5zM261.5 564.1h1.5v0.5h-1.5zM216 564.6h3v0.5h-3zM221 564.6h2v0.5h-2zM224.5 564.6h1.5v0.5h-1.5zM226.5 564.6h2v0.5h-2zM231.5 564.6h4.5v0.5h-4.5zM238 564.6h5v0.5h-5zM247 564.6h3v0.5h-3zM215.5 565.1h3.5v0.5h-3.5zM220.5 565.1h3v0.5h-3zM226.5 565.1h2v0.5h-2zM231.5 565.1h4.5v0.5h-4.5zM239 565.1h4v0.5h-4zM244 565.1h2v0.5h-2zM247 565.1h3v0.5h-3zM252.5 565.1h1.5v0.5h-1.5zM209 565.6h1.5v0.5h-1.5zM214 565.6h9.5v0.5h-9.5zM226 565.6h2.5v0.5h-2.5zM232 565.6h4.5v0.5h-4.5zM239.5 565.6h3.5v0.5h-3.5zM243.5 565.6h2.5v0.5h-2.5zM247 565.6h3v0.5h-3zM252 565.6h2.5v0.5h-2.5zM208.5 566.1h2.5v0.5h-2.5zM213.5 566.1h9.5v0.5h-9.5zM225.5 566.1h4.5v0.5h-4.5zM231.5 566.1h5v0.5h-5zM240.5 566.1h2v0.5h-2zM243.5 566.1h3v0.5h-3zM247 566.1h3v0.5h-3zM252 566.1h2.5v0.5h-2.5zM208.5 566.6h2.5v0.5h-2.5zM213.5 566.6h9.5v0.5h-9.5zM225.5 566.6h5v0.5h-5zM231 566.6h2v0.5h-2zM233.5 566.6h3v0.5h-3zM243.5 566.6h6v0.5h-6zM252 566.6h2.5v0.5h-2.5zM208.5 567.1h2.5v0.5h-2.5zM213.5 567.1h8v0.5h-8zM225.5 567.1h8v0.5h-8zM234 567.1h2v0.5h-2zM244 567.1h4.5v0.5h-4.5zM252 567.1h2.5v0.5h-2.5zM257.5 567.1h1v0.5h-1zM208.5 567.6h2.5v0.5h-2.5zM214 567.6h7v0.5h-7zM225.5 567.6h8v0.5h-8zM246 567.6h2.5v0.5h-2.5zM252.5 567.6h1.5v0.5h-1.5zM256.5 567.6h2.5v0.5h-2.5zM209 568.1h1v0.5h-1zM210.5 568.1h1v0.5h-1zM212 568.1h1v0.5h-1zM214.5 568.1h6.5v0.5h-6.5zM221.5 568.1h2v0.5h-2zM226 568.1h1.5v0.5h-1.5zM228 568.1h2.5v0.5h-2.5zM231 568.1h4v0.5h-4zM242.5 568.1h1.5v0.5h-1.5zM246 568.1h2.5v0.5h-2.5zM256.5 568.1h3v0.5h-3zM205 568.6h1v0.5h-1zM208 568.6h5.5v0.5h-5.5zM215 568.6h6v0.5h-6zM221.5 568.6h2.5v0.5h-2.5zM228.5 568.6h1v0.5h-1zM231.5 568.6h1v0.5h-1zM233 568.6h2.5v0.5h-2.5zM242 568.6h2.5v0.5h-2.5zM245.5 568.6h3v0.5h-3zM256.5 568.6h3v0.5h-3zM204.5 569.1h2v0.5h-2zM208 569.1h5.5v0.5h-5.5zM215 569.1h5.5v0.5h-5.5zM221.5 569.1h4v0.5h-4zM228 569.1h2v0.5h-2zM232 569.1h3.5v0.5h-3.5zM242 569.1h2.5v0.5h-2.5zM245 569.1h3v0.5h-3zM257 569.1h2v0.5h-2zM199 569.6h2.5v0.5h-2.5zM204 569.6h3v0.5h-3zM207.5 569.6h6v0.5h-6zM215.5 569.6h5v0.5h-5zM221.5 569.6h4.5v0.5h-4.5zM228 569.6h2.5v0.5h-2.5zM231.5 569.6h4v0.5h-4zM237 569.6h1v0.5h-1zM242 569.6h2.5v0.5h-2.5zM245 569.6h3v0.5h-3zM257.5 569.6h1v0.5h-1zM199 570.1h2.5v0.5h-2.5zM204 570.1h3v0.5h-3zM208 570.1h5.5v0.5h-5.5zM215.5 570.1h5v0.5h-5zM221.5 570.1h4.5v0.5h-4.5zM228 570.1h2.5v0.5h-2.5zM231.5 570.1h3.5v0.5h-3.5zM236.5 570.1h2v0.5h-2zM242 570.1h2.5v0.5h-2.5zM245.5 570.1h2.5v0.5h-2.5zM198.5 570.6h3v0.5h-3zM203.5 570.6h0.5v0.5h-0.5zM204.5 570.6h2v0.5h-2zM208.5 570.6h1.5v0.5h-1.5zM210.5 570.6h2.5v0.5h-2.5zM216.5 570.6h4v0.5h-4zM223 570.6h3v0.5h-3zM228 570.6h2.5v0.5h-2.5zM231.5 570.6h2.5v0.5h-2.5zM236 570.6h3v0.5h-3zM239.5 570.6h2v0.5h-2zM243 570.6h1v0.5h-1zM245.5 570.6h2v0.5h-2zM198 571.1h3.5v0.5h-3.5zM202.5 571.1h3.5v0.5h-3.5zM216.5 571.1h3v0.5h-3zM223 571.1h3.5v0.5h-3.5zM228 571.1h2v0.5h-2zM231.5 571.1h2.5v0.5h-2.5zM235 571.1h6.5v0.5h-6.5zM196 571.6h5v0.5h-5zM202.5 571.6h2.5v0.5h-2.5zM216.5 571.6h3v0.5h-3zM223 571.6h3.5v0.5h-3.5zM232.5 571.6h0.5v0.5h-0.5zM235 571.6h3.5v0.5h-3.5zM239 571.6h3v0.5h-3zM189.5 572.1h1.5v0.5h-1.5zM196 572.1h5.5v0.5h-5.5zM202.5 572.1h2.5v0.5h-2.5zM217 572.1h2v0.5h-2zM223 572.1h3.5v0.5h-3.5zM235 572.1h3v0.5h-3zM239 572.1h2.5v0.5h-2.5zM189 572.6h4v0.5h-4zM195.5 572.6h6v0.5h-6zM202.5 572.6h2.5v0.5h-2.5zM223.5 572.6h3.5v0.5h-3.5zM229.5 572.6h1v0.5h-1zM231 572.6h1.5v0.5h-1.5zM235 572.6h2.5v0.5h-2.5zM239.5 572.6h2v0.5h-2zM189 573.1h4.5v0.5h-4.5zM196 573.1h5.5v0.5h-5.5zM203 573.1h1.5v0.5h-1.5zM224 573.1h3.5v0.5h-3.5zM228.5 573.1h4.5v0.5h-4.5zM235.5 573.1h2v0.5h-2zM189 573.6h4.5v0.5h-4.5zM196 573.6h2v0.5h-2zM199 573.6h2v0.5h-2zM224 573.6h3.5v0.5h-3.5zM228.5 573.6h4.5v0.5h-4.5zM233.5 573.6h4.5v0.5h-4.5zM183 574.1h1v0.5h-1zM189 574.1h4.5v0.5h-4.5zM196.5 574.1h1.5v0.5h-1.5zM199.5 574.1h1v0.5h-1zM214 574.1h1.5v0.5h-1.5zM224.5 574.1h3v0.5h-3zM228.5 574.1h9.5v0.5h-9.5zM182.5 574.6h2v0.5h-2zM190 574.6h0.5v0.5h-0.5zM191 574.6h2v0.5h-2zM196 574.6h2.5v0.5h-2.5zM205 574.6h1.5v0.5h-1.5zM213.5 574.6h3.5v0.5h-3.5zM218.5 574.6h1.5v0.5h-1.5zM225 574.6h2.5v0.5h-2.5zM228.5 574.6h9.5v0.5h-9.5zM182 575.1h3v0.5h-3zM196 575.1h2.5v0.5h-2.5zM203.5 575.1h5v0.5h-5zM213.5 575.1h4v0.5h-4zM218 575.1h2.5v0.5h-2.5zM225.5 575.1h1.5v0.5h-1.5zM228.5 575.1h3.5v0.5h-3.5zM233 575.1h5v0.5h-5zM182 575.6h3v0.5h-3zM196 575.6h2.5v0.5h-2.5zM202.5 575.6h6v0.5h-6zM213.5 575.6h4v0.5h-4zM218 575.6h2.5v0.5h-2.5zM228.5 575.6h3v0.5h-3zM233.5 575.6h4v0.5h-4zM178 576.1h1v0.5h-1zM182.5 576.1h3v0.5h-3zM187.5 576.1h2v0.5h-2zM196 576.1h2.5v0.5h-2.5zM202.5 576.1h7v0.5h-7zM214 576.1h3.5v0.5h-3.5zM218 576.1h2.5v0.5h-2.5zM229 576.1h2v0.5h-2zM233.5 576.1h3v0.5h-3zM177.5 576.6h2v0.5h-2zM183 576.6h3v0.5h-3zM187.5 576.6h2.5v0.5h-2.5zM195.5 576.6h2.5v0.5h-2.5zM201 576.6h10.5v0.5h-10.5zM214.5 576.6h2.5v0.5h-2.5zM218 576.6h2.5v0.5h-2.5zM233.5 576.6h3v0.5h-3zM302.5 576.6h1.5v0.5h-1.5zM177 577.1h3v0.5h-3zM182 577.1h1v0.5h-1zM183.5 577.1h2.5v0.5h-2.5zM187 577.1h3v0.5h-3zM195.5 577.1h2.5v0.5h-2.5zM200.5 577.1h4.5v0.5h-4.5zM205.5 577.1h0.5v0.5h-0.5zM206.5 577.1h5v0.5h-5zM219 577.1h0.5v0.5h-0.5zM234 577.1h2.5v0.5h-2.5zM302 577.1h2.5v0.5h-2.5zM177 577.6h3v0.5h-3zM181.5 577.6h5v0.5h-5zM187.5 577.6h2.5v0.5h-2.5zM193 577.6h1.5v0.5h-1.5zM195.5 577.6h2.5v0.5h-2.5zM200.5 577.6h4v0.5h-4zM206.5 577.6h5.5v0.5h-5.5zM234.5 577.6h1.5v0.5h-1.5zM302 577.6h2.5v0.5h-2.5zM177.5 578.1h3v0.5h-3zM181 578.1h5.5v0.5h-5.5zM187.5 578.1h2v0.5h-2zM192.5 578.1h2.5v0.5h-2.5zM195.5 578.1h2.5v0.5h-2.5zM200.5 578.1h2.5v0.5h-2.5zM206.5 578.1h5v0.5h-5zM223.5 578.1h1.5v0.5h-1.5zM232.5 578.1h1.5v0.5h-1.5zM236 578.1h2v0.5h-2zM302 578.1h2.5v0.5h-2.5zM177.5 578.6h9v0.5h-9zM192.5 578.6h2.5v0.5h-2.5zM195.5 578.6h2v0.5h-2zM201 578.6h3.5v0.5h-3.5zM207 578.6h4.5v0.5h-4.5zM223 578.6h2.5v0.5h-2.5zM232 578.6h2.5v0.5h-2.5zM235.5 578.6h3v0.5h-3zM302 578.6h2.5v0.5h-2.5zM179 579.1h4.5v0.5h-4.5zM184.5 579.1h1.5v0.5h-1.5zM192 579.1h5.5v0.5h-5.5zM202.5 579.1h2.5v0.5h-2.5zM207.5 579.1h2.5v0.5h-2.5zM223 579.1h2.5v0.5h-2.5zM232 579.1h3v0.5h-3zM235.5 579.1h3v0.5h-3zM303 579.1h0.5v0.5h-0.5zM176.5 579.6h0.5v0.5h-0.5zM178.5 579.6h5v0.5h-5zM191.5 579.6h6v0.5h-6zM198 579.6h0.5v0.5h-0.5zM202.5 579.6h2.5v0.5h-2.5zM207.5 579.6h4.5v0.5h-4.5zM213.5 579.6h3.5v0.5h-3.5zM223 579.6h2.5v0.5h-2.5zM231.5 579.6h3.5v0.5h-3.5zM235.5 579.6h3v0.5h-3zM175.5 580.1h2.5v0.5h-2.5zM179 580.1h4.5v0.5h-4.5zM191.5 580.1h3v0.5h-3zM195 580.1h4v0.5h-4zM202.5 580.1h2.5v0.5h-2.5zM207.5 580.1h4.5v0.5h-4.5zM213 580.1h4.5v0.5h-4.5zM223 580.1h2.5v0.5h-2.5zM231.5 580.1h4v0.5h-4zM236 580.1h2v0.5h-2zM175.5 580.6h2.5v0.5h-2.5zM179.5 580.6h4v0.5h-4zM191.5 580.6h2.5v0.5h-2.5zM195 580.6h4.5v0.5h-4.5zM202.5 580.6h2v0.5h-2zM208 580.6h4.5v0.5h-4.5zM213 580.6h4.5v0.5h-4.5zM224 580.6h0.5v0.5h-0.5zM231.5 580.6h4v0.5h-4zM175.5 581.1h2.5v0.5h-2.5zM181 581.1h3v0.5h-3zM188 581.1h2v0.5h-2zM191.5 581.1h2.5v0.5h-2.5zM195.5 581.1h4v0.5h-4zM209.5 581.1h8v0.5h-8zM218.5 581.1h1.5v0.5h-1.5zM231.5 581.1h4v0.5h-4zM175.5 581.6h2.5v0.5h-2.5zM181 581.6h3v0.5h-3zM187.5 581.6h3v0.5h-3zM192.5 581.6h0.5v0.5h-0.5zM197 581.6h2.5v0.5h-2.5zM210 581.6h3v0.5h-3zM213.5 581.6h4v0.5h-4zM218 581.6h2.5v0.5h-2.5zM232.5 581.6h3v0.5h-3zM176 582.1h1.5v0.5h-1.5zM181 582.1h3v0.5h-3zM187.5 582.1h3v0.5h-3zM197.5 582.1h1.5v0.5h-1.5zM210 582.1h3v0.5h-3zM216 582.1h0.5v0.5h-0.5zM218 582.1h2.5v0.5h-2.5zM271.5 582.1h1.5v0.5h-1.5zM181.5 582.6h2v0.5h-2zM187.5 582.6h3v0.5h-3zM210.5 582.6h2.5v0.5h-2.5zM214 582.6h2v0.5h-2zM218 582.6h2.5v0.5h-2.5zM271 582.6h2.5v0.5h-2.5zM188 583.1h2v0.5h-2zM194.5 583.1h1.5v0.5h-1.5zM204.5 583.1h0.5v0.5h-0.5zM211 583.1h1.5v0.5h-1.5zM213.5 583.1h2.5v0.5h-2.5zM218 583.1h2.5v0.5h-2.5zM254.5 583.1h1.5v0.5h-1.5zM271 583.1h2.5v0.5h-2.5zM179.5 583.6h2.5v0.5h-2.5zM187 583.6h0.5v0.5h-0.5zM194 583.6h2.5v0.5h-2.5zM200.5 583.6h2v0.5h-2zM203.5 583.6h2.5v0.5h-2.5zM213.5 583.6h3v0.5h-3zM219 583.6h0.5v0.5h-0.5zM254 583.6h2.5v0.5h-2.5zM271 583.6h2.5v0.5h-2.5zM179.5 584.1h2.5v0.5h-2.5zM186 584.1h2.5v0.5h-2.5zM194 584.1h3v0.5h-3zM200 584.1h2.5v0.5h-2.5zM203.5 584.1h2.5v0.5h-2.5zM213.5 584.1h3v0.5h-3zM254 584.1h2.5v0.5h-2.5zM271 584.1h2.5v0.5h-2.5zM179.5 584.6h3.5v0.5h-3.5zM186 584.6h2.5v0.5h-2.5zM194 584.6h2.5v0.5h-2.5zM200 584.6h2.5v0.5h-2.5zM203.5 584.6h3v0.5h-3zM214 584.6h3v0.5h-3zM254 584.6h2.5v0.5h-2.5zM271.5 584.6h1.5v0.5h-1.5zM179.5 585.1h3.5v0.5h-3.5zM186 585.1h4v0.5h-4zM193 585.1h3.5v0.5h-3.5zM197 585.1h1.5v0.5h-1.5zM200 585.1h2.5v0.5h-2.5zM203.5 585.1h3.5v0.5h-3.5zM214 585.1h3v0.5h-3zM254 585.1h2.5v0.5h-2.5zM177 585.6h2v0.5h-2zM180 585.6h3.5v0.5h-3.5zM186 585.6h4.5v0.5h-4.5zM193 585.6h2.5v0.5h-2.5zM196.5 585.6h2.5v0.5h-2.5zM200 585.6h3v0.5h-3zM204 585.6h3v0.5h-3zM208 585.6h1.5v0.5h-1.5zM214.5 585.6h2v0.5h-2zM255 585.6h0.5v0.5h-0.5zM263.5 585.6h1.5v0.5h-1.5zM176.5 586.1h2.5v0.5h-2.5zM180.5 586.1h3v0.5h-3zM184.5 586.1h6v0.5h-6zM193 586.1h2.5v0.5h-2.5zM196.5 586.1h2.5v0.5h-2.5zM200 586.1h3v0.5h-3zM204.5 586.1h2.5v0.5h-2.5zM207.5 586.1h2.5v0.5h-2.5zM216.5 586.1h2v0.5h-2zM263 586.1h2.5v0.5h-2.5zM176.5 586.6h3v0.5h-3zM180.5 586.6h2.5v0.5h-2.5zM184.5 586.6h2.5v0.5h-2.5zM187.5 586.6h3v0.5h-3zM193 586.6h3v0.5h-3zM196.5 586.6h2.5v0.5h-2.5zM200 586.6h2.5v0.5h-2.5zM204.5 586.6h5.5v0.5h-5.5zM216.5 586.6h2.5v0.5h-2.5zM263 586.6h2.5v0.5h-2.5zM176.5 587.1h2.5v0.5h-2.5zM181 587.1h2v0.5h-2zM184 587.1h3v0.5h-3zM188 587.1h2v0.5h-2zM193.5 587.1h5.5v0.5h-5.5zM200.5 587.1h2v0.5h-2zM207 587.1h3v0.5h-3zM216 587.1h4v0.5h-4zM263 587.1h2.5v0.5h-2.5zM177 587.6h2v0.5h-2zM184 587.6h3v0.5h-3zM192.5 587.6h4v0.5h-4zM197.5 587.6h1v0.5h-1zM207.5 587.6h2v0.5h-2zM216 587.6h4v0.5h-4zM263 587.6h2.5v0.5h-2.5zM184.5 588.1h2v0.5h-2zM192 588.1h4.5v0.5h-4.5zM208 588.1h1v0.5h-1zM216.5 588.1h4v0.5h-4zM257 588.1h2v0.5h-2zM264 588.1h0.5v0.5h-0.5zM273 588.1h2.5v0.5h-2.5zM185.5 588.6h0.5v0.5h-0.5zM192 588.6h4.5v0.5h-4.5zM217.5 588.6h2.5v0.5h-2.5zM257 588.6h2.5v0.5h-2.5zM273 588.6h2.5v0.5h-2.5zM192 589.1h3v0.5h-3zM205 589.1h1.5v0.5h-1.5zM218 589.1h2v0.5h-2zM256.5 589.1h3v0.5h-3zM273 589.1h2.5v0.5h-2.5zM192.5 589.6h2v0.5h-2zM204.5 589.6h2.5v0.5h-2.5zM257 589.6h2.5v0.5h-2.5zM273 589.6h2.5v0.5h-2.5zM203.5 590.1h3.5v0.5h-3.5zM257.5 590.1h1.5v0.5h-1.5zM273.5 590.1h1.5v0.5h-1.5zM199 590.6h2v0.5h-2zM203.5 590.6h3.5v0.5h-3.5zM194 591.1h1.5v0.5h-1.5zM198.5 591.1h3v0.5h-3zM203.5 591.1h3.5v0.5h-3.5zM207.5 591.1h2v0.5h-2zM244 591.1h1v0.5h-1zM188 591.6h2v0.5h-2zM193.5 591.6h2v0.5h-2zM198.5 591.6h3v0.5h-3zM203.5 591.6h2.5v0.5h-2.5zM207 591.6h2.5v0.5h-2.5zM243.5 591.6h2v0.5h-2zM188 592.1h2.5v0.5h-2.5zM193 592.1h3v0.5h-3zM198.5 592.1h2.5v0.5h-2.5zM203.5 592.1h2.5v0.5h-2.5zM207 592.1h2.5v0.5h-2.5zM243 592.1h3v0.5h-3zM187.5 592.6h3v0.5h-3zM193 592.6h3v0.5h-3zM199 592.6h2v0.5h-2zM204 592.6h1.5v0.5h-1.5zM207 592.6h2.5v0.5h-2.5zM243 592.6h3v0.5h-3zM188 593.1h2.5v0.5h-2.5zM193.5 593.1h2v0.5h-2zM207.5 593.1h2v0.5h-2zM243.5 593.1h2v0.5h-2zM188 593.6h2v0.5h-2zM194 593.6h1v0.5h-1zM243.5 593.6h2v0.5h-2zM227 594.6h1.5v0.5h-1.5zM226.5 595.1h2.5v0.5h-2.5zM226.5 595.6h3v0.5h-3zM197 596.1h1v0.5h-1zM206.5 596.1h2v0.5h-2zM226.5 596.1h3v0.5h-3zM196.5 596.6h2.5v0.5h-2.5zM206.5 596.6h2.5v0.5h-2.5zM227 596.6h2v0.5h-2zM196 597.1h3v0.5h-3zM206 597.1h3v0.5h-3zM227.5 597.1h0.5v0.5h-0.5zM196 597.6h3v0.5h-3zM206.5 597.6h2.5v0.5h-2.5zM196.5 598.1h2.5v0.5h-2.5zM206.5 598.1h2v0.5h-2zM197 598.6h1.5v0.5h-1.5zM169 600.6h1.5v0.5h-1.5zM168.5 601.1h3.5v0.5h-3.5zM168.5 601.6h4v0.5h-4zM168.5 602.1h4.5v0.5h-4.5zM168.5 602.6h5v0.5h-5zM229.5 602.6h0.5v0.5h-0.5zM169 603.1h5.5v0.5h-5.5zM228.5 603.1h2.5v0.5h-2.5zM170.5 603.6h4.5v0.5h-4.5zM228.5 603.6h2.5v0.5h-2.5zM171.5 604.1h3.5v0.5h-3.5zM228.5 604.1h2.5v0.5h-2.5zM171.5 604.6h5.5v0.5h-5.5zM228.5 604.6h2.5v0.5h-2.5zM172 605.1h5.5v0.5h-5.5zM229 605.1h1.5v0.5h-1.5zM172.5 605.6h5.5v0.5h-5.5zM173.5 606.1h5v0.5h-5zM173.5 606.6h5v0.5h-5zM174.5 607.1h0.5v0.5h-0.5zM175.5 607.1h3v0.5h-3zM175.5 607.6h2.5v0.5h-2.5zM176 608.1h1.5v0.5h-1.5zM186.5 612.6h1v0.5h-1zM186 613.1h2v0.5h-2zM185.5 613.6h3v0.5h-3zM185.5 614.1h3v0.5h-3zM186 614.6h2.5v0.5h-2.5zM186.5 615.1h1.5v0.5h-1.5zM184 616.1h1v0.5h-1zM196.5 616.1h2v0.5h-2zM207.5 616.1h2v0.5h-2zM183.5 616.6h2v0.5h-2zM196.5 616.6h2.5v0.5h-2.5zM207 616.6h2.5v0.5h-2.5zM183 617.1h3v0.5h-3zM196.5 617.1h2.5v0.5h-2.5zM207 617.1h3v0.5h-3zM183 617.6h3v0.5h-3zM196.5 617.6h2.5v0.5h-2.5zM207 617.6h3v0.5h-3zM183 618.1h2.5v0.5h-2.5zM196.5 618.1h2v0.5h-2zM207.5 618.1h2v0.5h-2zM183.5 618.6h1.5v0.5h-1.5zM205 630.6h1.5v0.5h-1.5zM204.5 631.1h2.5v0.5h-2.5zM204.5 631.6h2.5v0.5h-2.5zM204.5 632.1h2.5v0.5h-2.5zM204.5 632.6h2.5v0.5h-2.5zM205.5 633.1h0.5v0.5h-0.5zM219 635.1h1.5v0.5h-1.5zM218.5 635.6h2.5v0.5h-2.5zM218.5 636.1h2.5v0.5h-2.5zM218.5 636.6h2.5v0.5h-2.5zM218.5 637.1h2.5v0.5h-2.5zM219.5 637.6h0.5v0.5h-0.5zM223.5 649.6h1v0.5h-1zM222.5 650.1h2.5v0.5h-2.5zM222.5 650.6h2.5v0.5h-2.5zM222.5 651.1h2.5v0.5h-2.5zM222.5 651.6h2.5v0.5h-2.5zM223 652.1h1.5v0.5h-1.5zM233 657.6h1.5v0.5h-1.5zM232.5 658.1h2.5v0.5h-2.5zM232.5 658.6h3v0.5h-3zM232.5 659.1h3v0.5h-3zM233 659.6h2v0.5h-2zM233.5 660.1h1v0.5h-1z" fill="#f00"/>
<path d="M80.8 434.6V677.3M121.1 434.6V677.3M161.4 434.6V677.3M201.7 434.6V677.3M242.0 434.6V677.3M282.3 434.6V677.3M322.6 434.6V677.3M362.9 434.6V677.3M70.0 668.0H374.0M70.0 645.5H374.0M70.0 623.0H374.0M70.0 600.5H374.0M70.0 578.0H374.0M70.0 555.5H374.0M70.0 533.0H374.0M70.0 510.5H374.0M70.0 488.0H374.0M70.0 465.5H374.0M70.0 443.0H374.0" stroke="#b4b4b4" stroke-width="1" stroke-dasharray="1 1" fill="none"/>
<rect x="70.0" y="434.6" width="304.0" height="242.69999999999993" fill="none" stroke="#000" stroke-width="1.7"/>
<path d="M59.0 668.0H70.0M59.0 611.8H70.0M59.0 555.5H70.0M59.0 499.2H70.0M59.0 443.0H70.0M80.8 677.3V687.8M121.1 677.3V687.8M161.4 677.3V687.8M201.7 677.3V687.8M242.0 677.3V687.8M282.3 677.3V687.8M322.6 677.3V687.8M362.9 677.3V687.8" stroke="#000" stroke-width="1.7" fill="none"/>
<text transform="translate(43.3,668.0) rotate(-90)" x="0" y="5.8" text-anchor="middle" class="t16">−10</text>
<text transform="translate(43.3,611.8) rotate(-90)" x="0" y="5.8" text-anchor="middle" class="t16">−5</text>
<text transform="translate(43.3,555.5) rotate(-90)" x="0" y="5.8" text-anchor="middle" class="t16">0</text>
<text transform="translate(43.3,499.2) rotate(-90)" x="0" y="5.8" text-anchor="middle" class="t16">5</text>
<text transform="translate(43.3,443.0) rotate(-90)" x="0" y="5.8" text-anchor="middle" class="t16">10</text>
<text x="80.8" y="714.4" text-anchor="middle" class="t16">−1</text>
<text x="121.1" y="714.4" text-anchor="middle" class="t16">0</text>
<text x="161.4" y="714.4" text-anchor="middle" class="t16">1</text>
<text x="201.7" y="714.4" text-anchor="middle" class="t16">2</text>
<text x="242.0" y="714.4" text-anchor="middle" class="t16">3</text>
<text x="282.3" y="714.4" text-anchor="middle" class="t16">4</text>
<text x="322.6" y="714.4" text-anchor="middle" class="t16">5</text>
<text x="362.9" y="714.4" text-anchor="middle" class="t16">6</text>
<text x="222.0" y="755.2" text-anchor="middle" class="t17">log10TPM in the higher group</text>
 <text transform="translate(12.8,555.6) rotate(-90)" x="0" y="0" text-anchor="middle" class="t17">log2FC</text>
<text x="220.5" y="411.3" text-anchor="middle" class="tb">MARS−Seq</text>
<text x="3.0" y="409.7" class="lab">c</text>
<circle cx="225.3" cy="451.3" r="2" fill="#f00"/><circle cx="225.3" cy="467.6" r="2" fill="#000"/>
<text x="239" y="455.6" class="t13">FDR&lt;0.05 (763)</text>
<text x="239" y="472.20000000000005" class="t13">FDR &gt;= 0.05 (16039)</text><path d="M570 503.1h1.5v0.5h-1.5zM569.5 503.6h2.5v0.5h-2.5zM569 504.1h3v0.5h-3zM568.5 504.6h3.5v0.5h-3.5zM567.5 505.1h4.5v0.5h-4.5zM567 505.6h4.5v0.5h-4.5zM566 506.1h5.5v0.5h-5.5zM565.5 506.6h5.5v0.5h-5.5zM565.5 507.1h4.5v0.5h-4.5zM565 507.6h4.5v0.5h-4.5zM564 508.1h5.5v0.5h-5.5zM563.5 508.6h5v0.5h-5zM563 509.1h4.5v0.5h-4.5zM571.5 509.1h2v0.5h-2zM562.5 509.6h4.5v0.5h-4.5zM571 509.6h3v0.5h-3zM562 510.1h4.5v0.5h-4.5zM570.5 510.1h3.5v0.5h-3.5zM561.5 510.6h4.5v0.5h-4.5zM570 510.6h4v0.5h-4zM561 511.1h3.5v0.5h-3.5zM570 511.1h4v0.5h-4zM560.5 511.6h4v0.5h-4zM568.5 511.6h5v0.5h-5zM560 512.1h4v0.5h-4zM568.5 512.1h4v0.5h-4zM559.5 512.6h4.5v0.5h-4.5zM568.5 512.6h2.5v0.5h-2.5zM558.5 513.1h4.5v0.5h-4.5zM567 513.1h4v0.5h-4zM558 513.6h4.5v0.5h-4.5zM567 513.6h3.5v0.5h-3.5zM557 514.1h4.5v0.5h-4.5zM567 514.1h3.5v0.5h-3.5zM556.5 514.6h4.5v0.5h-4.5zM566 514.6h4v0.5h-4zM556.5 515.1h4v0.5h-4zM565.5 515.1h4.5v0.5h-4.5zM556.5 515.6h3.5v0.5h-3.5zM565 515.6h4.5v0.5h-4.5zM555 516.1h4.5v0.5h-4.5zM564.5 516.1h3.5v0.5h-3.5zM554.5 516.6h4.5v0.5h-4.5zM564.5 516.6h3.5v0.5h-3.5zM570 516.6h1.5v0.5h-1.5zM554 517.1h4v0.5h-4zM564 517.1h3.5v0.5h-3.5zM569.5 517.1h2.5v0.5h-2.5zM553.5 517.6h4v0.5h-4zM558.5 517.6h2v0.5h-2zM563.5 517.6h3.5v0.5h-3.5zM568 517.6h4v0.5h-4zM553 518.1h4v0.5h-4zM558.5 518.1h2.5v0.5h-2.5zM562.5 518.1h3.5v0.5h-3.5zM568 518.1h4v0.5h-4zM552.5 518.6h8.5v0.5h-8.5zM561.5 518.6h4.5v0.5h-4.5zM568 518.6h4v0.5h-4zM552 519.1h13.5v0.5h-13.5zM568 519.1h3.5v0.5h-3.5zM551.5 519.6h9v0.5h-9zM561 519.6h4v0.5h-4zM568.5 519.6h1.5v0.5h-1.5zM551.5 520.1h13v0.5h-13zM571 520.1h1v0.5h-1zM551.5 520.6h12v0.5h-12zM565.5 520.6h1v0.5h-1zM570.5 520.6h2.5v0.5h-2.5zM551.5 521.1h3v0.5h-3zM555.5 521.1h7.5v0.5h-7.5zM565 521.1h3v0.5h-3zM570 521.1h3v0.5h-3zM548 521.6h2v0.5h-2zM552 521.6h2v0.5h-2zM555 521.6h7v0.5h-7zM563 521.6h5.5v0.5h-5.5zM570 521.6h3v0.5h-3zM548 522.1h2.5v0.5h-2.5zM552 522.1h2.5v0.5h-2.5zM555 522.1h6.5v0.5h-6.5zM562.5 522.1h6v0.5h-6zM570 522.1h3v0.5h-3zM547.5 522.6h3v0.5h-3zM551.5 522.6h3v0.5h-3zM555 522.6h17.5v0.5h-17.5zM578.5 522.6h2v0.5h-2zM548 523.1h2.5v0.5h-2.5zM552 523.1h8v0.5h-8zM561 523.1h11.5v0.5h-11.5zM578 523.1h3v0.5h-3zM548 523.6h2.5v0.5h-2.5zM552 523.6h14v0.5h-14zM567 523.6h5.5v0.5h-5.5zM578 523.6h4v0.5h-4zM584.5 523.6h2v0.5h-2zM548 524.1h2.5v0.5h-2.5zM552 524.1h12.5v0.5h-12.5zM566.5 524.1h4v0.5h-4zM571 524.1h1v0.5h-1zM578 524.1h4v0.5h-4zM584.5 524.1h2.5v0.5h-2.5zM545 524.6h1v0.5h-1zM548 524.6h2.5v0.5h-2.5zM552 524.6h12.5v0.5h-12.5zM566 524.6h4.5v0.5h-4.5zM578 524.6h4.5v0.5h-4.5zM584.5 524.6h2.5v0.5h-2.5zM544.5 525.1h2v0.5h-2zM548 525.1h2.5v0.5h-2.5zM551.5 525.1h19v0.5h-19zM578 525.1h4v0.5h-4zM584.5 525.1h2.5v0.5h-2.5zM544 525.6h3v0.5h-3zM547.5 525.6h3v0.5h-3zM552 525.6h18.5v0.5h-18.5zM578 525.6h4v0.5h-4zM584.5 525.6h2v0.5h-2zM595 525.6h2v0.5h-2zM544 526.1h3v0.5h-3zM547.5 526.1h3v0.5h-3zM552 526.1h18.5v0.5h-18.5zM571 526.1h2v0.5h-2zM584 526.1h2v0.5h-2zM595 526.1h2.5v0.5h-2.5zM541 526.6h1v0.5h-1zM544 526.6h3v0.5h-3zM548 526.6h2.5v0.5h-2.5zM552 526.6h18v0.5h-18zM571 526.6h2.5v0.5h-2.5zM577.5 526.6h4v0.5h-4zM582.5 526.6h1v0.5h-1zM584 526.6h2.5v0.5h-2.5zM588 526.6h1v0.5h-1zM595 526.6h2.5v0.5h-2.5zM540.5 527.1h2v0.5h-2zM544 527.1h3v0.5h-3zM548 527.1h3v0.5h-3zM552 527.1h16.5v0.5h-16.5zM571 527.1h2.5v0.5h-2.5zM577 527.1h13v0.5h-13zM595 527.1h2.5v0.5h-2.5zM540 527.6h3v0.5h-3zM544 527.6h3v0.5h-3zM548 527.6h2.5v0.5h-2.5zM552 527.6h16.5v0.5h-16.5zM571 527.6h2.5v0.5h-2.5zM576.5 527.6h13.5v0.5h-13.5zM595.5 527.6h1.5v0.5h-1.5zM540 528.1h3v0.5h-3zM544 528.1h3v0.5h-3zM548 528.1h2.5v0.5h-2.5zM552 528.1h2.5v0.5h-2.5zM555 528.1h13v0.5h-13zM571 528.1h2v0.5h-2zM576 528.1h14v0.5h-14zM592.5 528.1h1v0.5h-1zM540.5 528.6h2v0.5h-2zM544 528.6h3v0.5h-3zM547.5 528.6h3v0.5h-3zM552 528.6h17v0.5h-17zM570.5 528.6h3.5v0.5h-3.5zM576 528.6h14v0.5h-14zM592 528.6h2v0.5h-2zM599.5 528.6h1.5v0.5h-1.5zM541 529.1h1v0.5h-1zM544 529.1h3v0.5h-3zM547.5 529.1h3v0.5h-3zM551.5 529.1h18v0.5h-18zM570 529.1h5v0.5h-5zM576.5 529.1h13v0.5h-13zM590 529.1h4.5v0.5h-4.5zM599 529.1h2.5v0.5h-2.5zM540.5 529.6h2v0.5h-2zM544 529.6h3v0.5h-3zM547.5 529.6h3.5v0.5h-3.5zM551.5 529.6h3v0.5h-3zM555 529.6h20.5v0.5h-20.5zM577 529.6h1v0.5h-1zM578.5 529.6h10.5v0.5h-10.5zM589.5 529.6h5v0.5h-5zM599 529.6h2.5v0.5h-2.5zM540 530.1h3v0.5h-3zM544 530.1h3v0.5h-3zM547.5 530.1h3v0.5h-3zM551.5 530.1h24v0.5h-24zM577 530.1h5.5v0.5h-5.5zM583 530.1h5.5v0.5h-5.5zM589.5 530.1h4.5v0.5h-4.5zM599 530.1h2.5v0.5h-2.5zM540 530.6h3v0.5h-3zM544.5 530.6h2.5v0.5h-2.5zM548 530.6h3v0.5h-3zM551.5 530.6h31v0.5h-31zM583 530.6h3v0.5h-3zM589.5 530.6h4v0.5h-4zM599 530.6h2v0.5h-2zM602 530.6h2v0.5h-2zM540 531.1h3v0.5h-3zM544.5 531.1h2v0.5h-2zM547.5 531.1h3.5v0.5h-3.5zM552 531.1h30v0.5h-30zM582.5 531.1h1.5v0.5h-1.5zM588.5 531.1h5v0.5h-5zM602 531.1h2.5v0.5h-2.5zM535.5 531.6h1.5v0.5h-1.5zM540 531.6h3v0.5h-3zM544 531.6h3v0.5h-3zM547.5 531.6h3v0.5h-3zM552 531.6h29.5v0.5h-29.5zM582 531.6h2.5v0.5h-2.5zM588 531.6h6v0.5h-6zM602 531.6h2.5v0.5h-2.5zM535 532.1h2.5v0.5h-2.5zM540 532.1h3v0.5h-3zM544 532.1h3v0.5h-3zM548 532.1h2.5v0.5h-2.5zM553 532.1h1v0.5h-1zM554.5 532.1h31v0.5h-31zM587.5 532.1h7.5v0.5h-7.5zM600.5 532.1h1v0.5h-1zM602 532.1h2.5v0.5h-2.5zM535 532.6h2.5v0.5h-2.5zM540 532.6h3v0.5h-3zM544 532.6h3v0.5h-3zM548.5 532.6h1.5v0.5h-1.5zM552 532.6h43.5v0.5h-43.5zM600 532.6h2v0.5h-2zM602.5 532.6h1.5v0.5h-1.5zM534.5 533.1h3v0.5h-3zM540 533.1h3v0.5h-3zM544 533.1h3v0.5h-3zM548 533.1h2.5v0.5h-2.5zM552 533.1h43.5v0.5h-43.5zM599.5 533.1h3v0.5h-3zM646 533.1h1.5v0.5h-1.5zM534.5 533.6h3v0.5h-3zM540.5 533.6h2.5v0.5h-2.5zM544 533.6h3v0.5h-3zM548 533.6h3v0.5h-3zM552 533.6h40v0.5h-40zM592.5 533.6h4.5v0.5h-4.5zM599 533.6h4.5v0.5h-4.5zM645.5 533.6h2.5v0.5h-2.5zM534.5 534.1h3v0.5h-3zM540.5 534.1h2v0.5h-2zM544 534.1h3v0.5h-3zM547.5 534.1h3.5v0.5h-3.5zM552 534.1h45.5v0.5h-45.5zM599 534.1h7v0.5h-7zM645.5 534.1h2.5v0.5h-2.5zM534.5 534.6h3v0.5h-3zM540.5 534.6h2.5v0.5h-2.5zM544 534.6h3v0.5h-3zM548 534.6h2.5v0.5h-2.5zM552 534.6h46v0.5h-46zM599 534.6h7.5v0.5h-7.5zM626.5 534.6h1v0.5h-1zM638.5 534.6h2v0.5h-2zM645.5 534.6h2.5v0.5h-2.5zM534.5 535.1h3v0.5h-3zM540 535.1h3v0.5h-3zM544 535.1h3v0.5h-3zM548 535.1h2.5v0.5h-2.5zM552 535.1h46v0.5h-46zM599 535.1h7.5v0.5h-7.5zM626 535.1h2v0.5h-2zM638 535.1h3v0.5h-3zM645.5 535.1h2.5v0.5h-2.5zM534.5 535.6h2.5v0.5h-2.5zM540.5 535.6h2.5v0.5h-2.5zM544 535.6h3v0.5h-3zM548 535.6h3v0.5h-3zM552 535.6h46.5v0.5h-46.5zM599 535.6h7.5v0.5h-7.5zM625.5 535.6h3v0.5h-3zM638 535.6h3v0.5h-3zM646 535.6h1.5v0.5h-1.5zM534.5 536.1h3v0.5h-3zM540 536.1h3v0.5h-3zM544.5 536.1h2.5v0.5h-2.5zM548 536.1h3v0.5h-3zM552 536.1h47v0.5h-47zM599.5 536.1h4v0.5h-4zM604 536.1h2v0.5h-2zM625.5 536.1h3v0.5h-3zM638.5 536.1h2.5v0.5h-2.5zM534.5 536.6h3v0.5h-3zM540 536.6h3v0.5h-3zM544.5 536.6h2.5v0.5h-2.5zM548 536.6h2.5v0.5h-2.5zM552 536.6h47v0.5h-47zM600 536.6h5.5v0.5h-5.5zM626 536.6h2v0.5h-2zM638.5 536.6h2v0.5h-2zM534.5 537.1h3v0.5h-3zM540 537.1h3v0.5h-3zM544.5 537.1h2.5v0.5h-2.5zM548.5 537.1h1.5v0.5h-1.5zM552 537.1h47v0.5h-47zM600.5 537.1h4v0.5h-4zM626.5 537.1h1v0.5h-1zM534.5 537.6h3v0.5h-3zM540 537.6h3v0.5h-3zM544.5 537.6h2.5v0.5h-2.5zM548 537.6h2.5v0.5h-2.5zM552 537.6h47v0.5h-47zM600 537.6h4.5v0.5h-4.5zM613 537.6h1v0.5h-1zM534.5 538.1h3v0.5h-3zM540 538.1h3v0.5h-3zM544 538.1h2.5v0.5h-2.5zM547.5 538.1h3v0.5h-3zM552 538.1h52.5v0.5h-52.5zM612.5 538.1h2v0.5h-2zM534.5 538.6h3v0.5h-3zM540 538.6h3v0.5h-3zM544 538.6h2.5v0.5h-2.5zM547.5 538.6h3v0.5h-3zM552 538.6h53v0.5h-53zM612 538.6h3v0.5h-3zM534.5 539.1h3v0.5h-3zM540 539.1h3v0.5h-3zM544 539.1h3v0.5h-3zM548 539.1h2.5v0.5h-2.5zM552 539.1h54v0.5h-54zM607 539.1h1.5v0.5h-1.5zM612 539.1h3v0.5h-3zM528.5 539.6h1.5v0.5h-1.5zM534.5 539.6h3v0.5h-3zM540 539.6h3v0.5h-3zM544 539.6h3v0.5h-3zM548 539.6h2.5v0.5h-2.5zM552.5 539.6h56.5v0.5h-56.5zM610 539.6h1v0.5h-1zM612.5 539.6h2v0.5h-2zM528 540.1h2.5v0.5h-2.5zM534.5 540.1h3v0.5h-3zM540 540.1h3v0.5h-3zM544 540.1h3v0.5h-3zM547.5 540.1h3v0.5h-3zM552 540.1h57v0.5h-57zM609.5 540.1h2v0.5h-2zM613 540.1h1v0.5h-1zM528 540.6h3v0.5h-3zM534.5 540.6h2.5v0.5h-2.5zM540 540.6h3v0.5h-3zM544.5 540.6h2.5v0.5h-2.5zM548 540.6h2.5v0.5h-2.5zM552 540.6h2.5v0.5h-2.5zM555.5 540.6h56.5v0.5h-56.5zM528 541.1h3v0.5h-3zM534.5 541.1h2.5v0.5h-2.5zM540 541.1h3v0.5h-3zM544.5 541.1h2.5v0.5h-2.5zM548 541.1h3v0.5h-3zM552 541.1h3v0.5h-3zM555.5 541.1h47v0.5h-47zM604 541.1h8v0.5h-8zM528 541.6h3v0.5h-3zM534.5 541.6h3v0.5h-3zM540 541.6h3v0.5h-3zM544.5 541.6h2.5v0.5h-2.5zM547.5 541.6h3v0.5h-3zM552 541.6h2.5v0.5h-2.5zM555.5 541.6h56v0.5h-56zM528 542.1h3v0.5h-3zM534.5 542.1h3v0.5h-3zM540 542.1h3v0.5h-3zM544.5 542.1h2.5v0.5h-2.5zM547.5 542.1h3v0.5h-3zM551.5 542.1h3v0.5h-3zM555 542.1h56.5v0.5h-56.5zM612 542.1h2v0.5h-2zM618 542.1h3.5v0.5h-3.5zM528 542.6h2.5v0.5h-2.5zM534.5 542.6h3v0.5h-3zM540 542.6h3v0.5h-3zM544.5 542.6h2.5v0.5h-2.5zM548 542.6h2.5v0.5h-2.5zM552 542.6h62v0.5h-62zM618 542.6h4v0.5h-4zM528 543.1h3v0.5h-3zM534.5 543.1h2.5v0.5h-2.5zM540 543.1h3v0.5h-3zM544.5 543.1h2v0.5h-2zM548 543.1h2.5v0.5h-2.5zM552 543.1h63v0.5h-63zM617.5 543.1h4.5v0.5h-4.5zM624 543.1h2v0.5h-2zM528 543.6h2.5v0.5h-2.5zM534.5 543.6h2.5v0.5h-2.5zM540 543.6h3v0.5h-3zM548 543.6h2.5v0.5h-2.5zM551.5 543.6h63.5v0.5h-63.5zM618 543.6h4v0.5h-4zM624 543.6h2.5v0.5h-2.5zM638.5 543.6h2v0.5h-2zM528 544.1h2.5v0.5h-2.5zM534.5 544.1h2.5v0.5h-2.5zM540 544.1h3v0.5h-3zM545 544.1h1.5v0.5h-1.5zM548 544.1h2.5v0.5h-2.5zM551.5 544.1h63.5v0.5h-63.5zM618.5 544.1h3v0.5h-3zM622 544.1h4.5v0.5h-4.5zM638.5 544.1h2.5v0.5h-2.5zM528 544.6h3v0.5h-3zM534.5 544.6h3v0.5h-3zM540 544.6h3v0.5h-3zM544.5 544.6h2.5v0.5h-2.5zM548 544.6h2.5v0.5h-2.5zM551.5 544.6h66v0.5h-66zM620.5 544.6h0.5v0.5h-0.5zM621.5 544.6h5v0.5h-5zM638 544.6h3v0.5h-3zM528 545.1h3v0.5h-3zM534.5 545.1h3v0.5h-3zM540.5 545.1h2.5v0.5h-2.5zM544 545.1h3v0.5h-3zM548 545.1h2.5v0.5h-2.5zM552 545.1h66v0.5h-66zM621.5 545.1h4.5v0.5h-4.5zM628 545.1h1.5v0.5h-1.5zM638.5 545.1h2.5v0.5h-2.5zM528 545.6h3v0.5h-3zM534.5 545.6h3v0.5h-3zM540 545.6h3v0.5h-3zM544 545.6h3v0.5h-3zM548 545.6h2.5v0.5h-2.5zM552 545.6h68.5v0.5h-68.5zM621.5 545.6h3v0.5h-3zM627.5 545.6h2.5v0.5h-2.5zM631 545.6h2v0.5h-2zM638.5 545.6h2v0.5h-2zM528 546.1h2.5v0.5h-2.5zM534.5 546.1h3v0.5h-3zM540 546.1h3v0.5h-3zM544 546.1h3v0.5h-3zM548 546.1h2.5v0.5h-2.5zM552 546.1h2.5v0.5h-2.5zM555 546.1h69v0.5h-69zM627.5 546.1h6v0.5h-6zM528 546.6h2.5v0.5h-2.5zM534.5 546.6h3v0.5h-3zM540 546.6h3v0.5h-3zM544 546.6h3v0.5h-3zM547.5 546.6h3v0.5h-3zM552 546.6h73v0.5h-73zM627.5 546.6h6v0.5h-6zM638 546.6h3.5v0.5h-3.5zM528 547.1h2.5v0.5h-2.5zM534.5 547.1h3v0.5h-3zM540 547.1h3v0.5h-3zM544 547.1h3v0.5h-3zM547.5 547.1h3v0.5h-3zM552 547.1h74.5v0.5h-74.5zM627.5 547.1h8.5v0.5h-8.5zM637.5 547.1h5.5v0.5h-5.5zM528 547.6h3v0.5h-3zM534.5 547.6h3v0.5h-3zM540.5 547.6h2.5v0.5h-2.5zM544 547.6h3v0.5h-3zM548 547.6h2.5v0.5h-2.5zM552 547.6h75v0.5h-75zM627.5 547.6h9v0.5h-9zM637.5 547.6h6v0.5h-6zM528 548.1h3v0.5h-3zM534.5 548.1h3v0.5h-3zM540.5 548.1h2v0.5h-2zM544.5 548.1h2.5v0.5h-2.5zM548 548.1h2.5v0.5h-2.5zM552 548.1h92v0.5h-92zM528 548.6h2.5v0.5h-2.5zM534.5 548.6h2.5v0.5h-2.5zM544.5 548.6h2.5v0.5h-2.5zM548 548.6h2.5v0.5h-2.5zM552 548.6h92v0.5h-92zM645 548.6h1.5v0.5h-1.5zM528 549.1h3v0.5h-3zM534.5 549.1h2.5v0.5h-2.5zM541 549.1h1v0.5h-1zM544.5 549.1h2.5v0.5h-2.5zM548 549.1h2.5v0.5h-2.5zM552 549.1h86v0.5h-86zM638.5 549.1h1v0.5h-1zM641.5 549.1h5.5v0.5h-5.5zM650.5 549.1h1v0.5h-1zM528 549.6h3v0.5h-3zM534.5 549.6h2.5v0.5h-2.5zM540.5 549.6h2v0.5h-2zM544.5 549.6h2.5v0.5h-2.5zM548 549.6h2.5v0.5h-2.5zM552 549.6h86.5v0.5h-86.5zM639 549.6h8.5v0.5h-8.5zM649.5 549.6h2.5v0.5h-2.5zM528 550.1h3v0.5h-3zM534.5 550.1h3v0.5h-3zM540 550.1h3v0.5h-3zM545 550.1h1.5v0.5h-1.5zM548 550.1h2.5v0.5h-2.5zM551.5 550.1h96v0.5h-96zM648.5 550.1h4v0.5h-4zM528 550.6h3v0.5h-3zM534.5 550.6h3v0.5h-3zM540 550.6h3v0.5h-3zM544.5 550.6h2v0.5h-2zM548 550.6h2.5v0.5h-2.5zM551.5 550.6h101v0.5h-101zM654.5 550.6h2v0.5h-2zM528 551.1h3v0.5h-3zM534.5 551.1h3v0.5h-3zM540 551.1h3v0.5h-3zM544.5 551.1h2.5v0.5h-2.5zM548 551.1h3v0.5h-3zM552 551.1h105v0.5h-105zM528 551.6h3v0.5h-3zM534.5 551.6h3v0.5h-3zM540 551.6h3v0.5h-3zM544.5 551.6h2.5v0.5h-2.5zM548 551.6h3v0.5h-3zM552 551.6h108v0.5h-108zM516.5 552.1h2v0.5h-2zM528 552.1h3v0.5h-3zM534.5 552.1h3v0.5h-3zM540 552.1h3v0.5h-3zM544.5 552.1h2.5v0.5h-2.5zM548 552.1h2.5v0.5h-2.5zM552 552.1h111v0.5h-111zM516 552.6h2.5v0.5h-2.5zM528 552.6h3v0.5h-3zM534.5 552.6h3v0.5h-3zM540 552.6h3v0.5h-3zM544.5 552.6h2.5v0.5h-2.5zM548 552.6h2.5v0.5h-2.5zM552 552.6h116v0.5h-116zM516 553.1h3v0.5h-3zM528 553.1h3v0.5h-3zM534.5 553.1h3v0.5h-3zM540 553.1h3v0.5h-3zM544.5 553.1h2.5v0.5h-2.5zM548 553.1h2.5v0.5h-2.5zM552 553.1h120v0.5h-120zM516 553.6h3v0.5h-3zM528 553.6h3v0.5h-3zM534.5 553.6h3v0.5h-3zM540.5 553.6h2v0.5h-2zM544 553.6h3v0.5h-3zM548.5 553.6h1.5v0.5h-1.5zM552 553.6h125.5v0.5h-125.5zM516 554.1h3v0.5h-3zM528 554.1h3v0.5h-3zM534.5 554.1h3v0.5h-3zM544 554.1h3v0.5h-3zM548.5 554.1h1.5v0.5h-1.5zM552 554.1h129v0.5h-129zM516 554.6h3v0.5h-3zM528 554.6h3v0.5h-3zM534.5 554.6h2.5v0.5h-2.5zM544 554.6h3v0.5h-3zM548 554.6h2.5v0.5h-2.5zM552 554.6h129.5v0.5h-129.5zM515.5 555.1h3.5v0.5h-3.5zM528 555.1h3v0.5h-3zM534.5 555.1h3v0.5h-3zM541 555.1h1v0.5h-1zM544 555.1h3v0.5h-3zM548 555.1h2.5v0.5h-2.5zM552 555.1h129.5v0.5h-129.5zM516 555.6h3v0.5h-3zM528 555.6h3v0.5h-3zM534.5 555.6h3v0.5h-3zM540.5 555.6h2v0.5h-2zM544 555.6h3v0.5h-3zM547.5 555.6h3v0.5h-3zM552 555.6h129.5v0.5h-129.5zM516 556.1h3v0.5h-3zM528 556.1h3v0.5h-3zM534.5 556.1h3v0.5h-3zM540 556.1h3v0.5h-3zM544 556.1h3v0.5h-3zM548 556.1h2.5v0.5h-2.5zM552 556.1h129.5v0.5h-129.5zM516 556.6h2.5v0.5h-2.5zM528 556.6h3v0.5h-3zM534.5 556.6h3v0.5h-3zM540 556.6h3v0.5h-3zM544 556.6h3v0.5h-3zM548 556.6h2.5v0.5h-2.5zM552 556.6h129v0.5h-129zM516 557.1h2.5v0.5h-2.5zM528 557.1h3v0.5h-3zM534.5 557.1h3v0.5h-3zM540 557.1h3v0.5h-3zM544 557.1h3v0.5h-3zM548 557.1h2.5v0.5h-2.5zM552 557.1h127v0.5h-127zM679.5 557.1h0.5v0.5h-0.5zM516 557.6h2.5v0.5h-2.5zM528.5 557.6h2v0.5h-2zM534.5 557.6h3v0.5h-3zM540 557.6h3v0.5h-3zM544.5 557.6h2.5v0.5h-2.5zM548 557.6h2.5v0.5h-2.5zM551.5 557.6h121.5v0.5h-121.5zM673.5 557.6h1.5v0.5h-1.5zM516 558.1h3v0.5h-3zM528.5 558.1h2.5v0.5h-2.5zM534.5 558.1h2.5v0.5h-2.5zM540 558.1h3v0.5h-3zM544.5 558.1h2.5v0.5h-2.5zM548 558.1h2.5v0.5h-2.5zM552 558.1h114.5v0.5h-114.5zM671.5 558.1h0.5v0.5h-0.5zM516 558.6h3v0.5h-3zM528.5 558.6h2.5v0.5h-2.5zM535 558.6h2.5v0.5h-2.5zM540.5 558.6h2.5v0.5h-2.5zM544 558.6h3v0.5h-3zM548 558.6h2.5v0.5h-2.5zM551.5 558.6h110v0.5h-110zM662.5 558.6h0.5v0.5h-0.5zM516 559.1h3v0.5h-3zM528.5 559.1h2.5v0.5h-2.5zM534.5 559.1h3v0.5h-3zM540 559.1h3v0.5h-3zM544 559.1h3v0.5h-3zM548 559.1h2.5v0.5h-2.5zM551.5 559.1h107.5v0.5h-107.5zM516 559.6h2.5v0.5h-2.5zM528.5 559.6h2.5v0.5h-2.5zM534.5 559.6h3v0.5h-3zM540 559.6h3v0.5h-3zM544 559.6h3v0.5h-3zM548 559.6h2.5v0.5h-2.5zM552 559.6h94v0.5h-94zM646.5 559.6h6v0.5h-6zM656 559.6h1v0.5h-1zM516 560.1h2.5v0.5h-2.5zM528 560.1h3v0.5h-3zM534.5 560.1h3v0.5h-3zM540 560.1h3v0.5h-3zM544.5 560.1h2.5v0.5h-2.5zM548 560.1h2.5v0.5h-2.5zM552 560.1h93.5v0.5h-93.5zM647 560.1h5v0.5h-5zM516 560.6h2.5v0.5h-2.5zM528 560.6h3v0.5h-3zM534.5 560.6h2.5v0.5h-2.5zM540 560.6h3v0.5h-3zM544 560.6h3v0.5h-3zM548 560.6h3v0.5h-3zM551.5 560.6h88v0.5h-88zM641 560.6h3.5v0.5h-3.5zM647 560.6h2v0.5h-2zM650.5 560.6h1v0.5h-1zM517 561.1h0.5v0.5h-0.5zM528 561.1h3v0.5h-3zM534.5 561.1h2.5v0.5h-2.5zM540.5 561.1h2.5v0.5h-2.5zM544 561.1h3v0.5h-3zM547.5 561.1h3v0.5h-3zM551.5 561.1h88.5v0.5h-88.5zM641 561.1h3.5v0.5h-3.5zM528 561.6h3v0.5h-3zM534.5 561.6h2.5v0.5h-2.5zM540 561.6h3v0.5h-3zM544 561.6h3v0.5h-3zM548 561.6h2.5v0.5h-2.5zM551.5 561.6h79v0.5h-79zM633 561.6h3.5v0.5h-3.5zM637 561.6h2.5v0.5h-2.5zM641 561.6h3v0.5h-3zM528.5 562.1h2.5v0.5h-2.5zM534.5 562.1h3v0.5h-3zM540 562.1h3v0.5h-3zM544.5 562.1h2v0.5h-2zM548 562.1h2.5v0.5h-2.5zM552 562.1h72v0.5h-72zM624.5 562.1h4v0.5h-4zM629 562.1h0.5v0.5h-0.5zM633 562.1h2.5v0.5h-2.5zM637.5 562.1h2v0.5h-2zM641.5 562.1h2v0.5h-2zM528 562.6h3v0.5h-3zM534.5 562.6h3v0.5h-3zM540 562.6h3v0.5h-3zM545 562.6h1.5v0.5h-1.5zM548 562.6h2.5v0.5h-2.5zM552 562.6h76v0.5h-76zM634 562.6h1v0.5h-1zM642 562.6h1v0.5h-1zM528 563.1h3v0.5h-3zM534.5 563.1h3v0.5h-3zM540 563.1h3v0.5h-3zM544.5 563.1h2.5v0.5h-2.5zM548 563.1h2.5v0.5h-2.5zM552 563.1h76v0.5h-76zM660.5 563.1h1.5v0.5h-1.5zM528 563.6h3v0.5h-3zM534.5 563.6h3v0.5h-3zM540 563.6h3v0.5h-3zM544 563.6h3.5v0.5h-3.5zM548 563.6h2.5v0.5h-2.5zM552 563.6h72v0.5h-72zM624.5 563.6h3.5v0.5h-3.5zM660 563.6h2.5v0.5h-2.5zM528 564.1h3v0.5h-3zM534.5 564.1h3v0.5h-3zM540 564.1h3v0.5h-3zM544 564.1h3v0.5h-3zM548 564.1h2.5v0.5h-2.5zM552 564.1h68v0.5h-68zM622.5 564.1h1v0.5h-1zM625.5 564.1h2.5v0.5h-2.5zM660 564.1h2.5v0.5h-2.5zM528 564.6h3v0.5h-3zM534.5 564.6h3v0.5h-3zM540 564.6h3v0.5h-3zM544 564.6h3v0.5h-3zM548 564.6h2.5v0.5h-2.5zM552 564.6h68.5v0.5h-68.5zM626.5 564.6h0.5v0.5h-0.5zM660 564.6h2.5v0.5h-2.5zM528.5 565.1h2.5v0.5h-2.5zM535 565.1h2v0.5h-2zM540 565.1h3v0.5h-3zM544 565.1h3v0.5h-3zM548 565.1h2.5v0.5h-2.5zM552 565.1h64v0.5h-64zM617.5 565.1h3.5v0.5h-3.5zM660 565.1h2v0.5h-2zM528 565.6h3v0.5h-3zM534.5 565.6h3v0.5h-3zM540.5 565.6h2.5v0.5h-2.5zM544 565.6h3v0.5h-3zM548 565.6h2.5v0.5h-2.5zM552 565.6h54.5v0.5h-54.5zM607 565.6h1.5v0.5h-1.5zM609 565.6h6.5v0.5h-6.5zM618 565.6h3v0.5h-3zM661 565.6h0.5v0.5h-0.5zM528 566.1h3v0.5h-3zM534.5 566.1h3v0.5h-3zM540.5 566.1h2.5v0.5h-2.5zM544 566.1h2.5v0.5h-2.5zM548 566.1h2.5v0.5h-2.5zM552 566.1h54.5v0.5h-54.5zM609.5 566.1h6v0.5h-6zM618 566.1h3v0.5h-3zM528 566.6h2.5v0.5h-2.5zM534.5 566.6h3v0.5h-3zM540 566.6h3v0.5h-3zM544 566.6h3v0.5h-3zM548 566.6h2.5v0.5h-2.5zM552 566.6h50v0.5h-50zM602.5 566.6h3.5v0.5h-3.5zM610 566.6h3.5v0.5h-3.5zM618.5 566.6h2v0.5h-2zM528 567.1h3v0.5h-3zM534.5 567.1h3v0.5h-3zM540 567.1h3v0.5h-3zM544 567.1h3v0.5h-3zM548 567.1h2.5v0.5h-2.5zM552 567.1h50v0.5h-50zM603 567.1h5v0.5h-5zM610 567.1h2.5v0.5h-2.5zM528 567.6h3v0.5h-3zM534.5 567.6h3v0.5h-3zM540 567.6h2.5v0.5h-2.5zM544 567.6h3v0.5h-3zM548 567.6h3v0.5h-3zM552 567.6h50.5v0.5h-50.5zM605.5 567.6h2.5v0.5h-2.5zM610 567.6h2.5v0.5h-2.5zM528.5 568.1h2v0.5h-2zM534.5 568.1h3v0.5h-3zM540 568.1h2.5v0.5h-2.5zM544 568.1h3v0.5h-3zM548 568.1h3v0.5h-3zM552 568.1h50.5v0.5h-50.5zM605 568.1h3v0.5h-3zM610.5 568.1h1.5v0.5h-1.5zM649.5 568.1h1.5v0.5h-1.5zM667.5 568.1h2v0.5h-2zM528 568.6h2.5v0.5h-2.5zM534.5 568.6h3v0.5h-3zM540.5 568.6h2.5v0.5h-2.5zM544.5 568.6h2.5v0.5h-2.5zM548 568.6h3v0.5h-3zM552 568.6h40v0.5h-40zM593 568.6h10v0.5h-10zM605 568.6h3v0.5h-3zM649 568.6h2v0.5h-2zM667.5 568.6h2.5v0.5h-2.5zM528 569.1h2.5v0.5h-2.5zM534.5 569.1h3v0.5h-3zM540 569.1h3v0.5h-3zM544.5 569.1h2.5v0.5h-2.5zM548 569.1h3v0.5h-3zM552 569.1h40v0.5h-40zM593 569.1h11v0.5h-11zM605 569.1h3v0.5h-3zM648.5 569.1h3v0.5h-3zM667.5 569.1h2.5v0.5h-2.5zM528 569.6h3v0.5h-3zM534.5 569.6h3v0.5h-3zM540 569.6h3v0.5h-3zM544.5 569.6h2.5v0.5h-2.5zM548.5 569.6h2v0.5h-2zM551.5 569.6h40v0.5h-40zM593.5 569.6h1.5v0.5h-1.5zM597.5 569.6h6.5v0.5h-6.5zM605 569.6h2v0.5h-2zM648.5 569.6h3v0.5h-3zM667.5 569.6h2.5v0.5h-2.5zM528 570.1h3v0.5h-3zM534.5 570.1h3v0.5h-3zM540 570.1h3v0.5h-3zM544.5 570.1h2.5v0.5h-2.5zM548.5 570.1h1.5v0.5h-1.5zM551.5 570.1h38v0.5h-38zM590 570.1h1v0.5h-1zM595.5 570.1h0.5v0.5h-0.5zM597.5 570.1h3v0.5h-3zM601.5 570.1h2.5v0.5h-2.5zM617 570.1h0.5v0.5h-0.5zM649 570.1h2v0.5h-2zM668 570.1h1.5v0.5h-1.5zM528 570.6h3v0.5h-3zM534.5 570.6h3v0.5h-3zM540 570.6h3v0.5h-3zM544 570.6h2.5v0.5h-2.5zM548 570.6h2.5v0.5h-2.5zM552 570.6h35.5v0.5h-35.5zM593 570.6h4v0.5h-4zM597.5 570.6h2.5v0.5h-2.5zM601.5 570.6h2.5v0.5h-2.5zM616 570.6h2.5v0.5h-2.5zM649.5 570.6h1v0.5h-1zM528 571.1h3v0.5h-3zM534.5 571.1h3v0.5h-3zM540.5 571.1h2v0.5h-2zM544 571.1h3v0.5h-3zM548 571.1h2.5v0.5h-2.5zM551.5 571.1h36.5v0.5h-36.5zM592.5 571.1h4.5v0.5h-4.5zM597.5 571.1h2.5v0.5h-2.5zM602 571.1h1.5v0.5h-1.5zM616 571.1h2.5v0.5h-2.5zM528.5 571.6h2.5v0.5h-2.5zM534.5 571.6h3v0.5h-3zM540 571.6h3v0.5h-3zM544 571.6h3v0.5h-3zM548 571.6h2.5v0.5h-2.5zM551.5 571.6h36.5v0.5h-36.5zM592.5 571.6h4.5v0.5h-4.5zM598 571.6h1.5v0.5h-1.5zM616 571.6h2.5v0.5h-2.5zM528.5 572.1h2v0.5h-2zM534.5 572.1h3v0.5h-3zM540 572.1h3v0.5h-3zM544 572.1h3v0.5h-3zM548 572.1h2.5v0.5h-2.5zM552 572.1h36.5v0.5h-36.5zM590.5 572.1h1.5v0.5h-1.5zM592.5 572.1h4.5v0.5h-4.5zM616 572.1h2.5v0.5h-2.5zM534.5 572.6h3v0.5h-3zM540 572.6h3v0.5h-3zM544 572.6h3v0.5h-3zM548 572.6h2.5v0.5h-2.5zM552 572.6h33.5v0.5h-33.5zM586 572.6h2.5v0.5h-2.5zM590 572.6h2.5v0.5h-2.5zM593 572.6h3.5v0.5h-3.5zM598.5 572.6h2v0.5h-2zM616.5 572.6h1.5v0.5h-1.5zM534.5 573.1h3v0.5h-3zM540.5 573.1h2v0.5h-2zM544 573.1h3v0.5h-3zM548 573.1h2.5v0.5h-2.5zM551.5 573.1h33.5v0.5h-33.5zM586 573.1h6.5v0.5h-6.5zM593 573.1h2.5v0.5h-2.5zM598 573.1h2.5v0.5h-2.5zM534.5 573.6h2.5v0.5h-2.5zM540.5 573.6h2.5v0.5h-2.5zM544.5 573.6h2.5v0.5h-2.5zM548 573.6h2.5v0.5h-2.5zM551.5 573.6h33.5v0.5h-33.5zM586 573.6h9.5v0.5h-9.5zM598 573.6h3v0.5h-3zM535 574.1h2v0.5h-2zM540 574.1h3v0.5h-3zM544.5 574.1h2.5v0.5h-2.5zM548 574.1h3v0.5h-3zM552 574.1h33v0.5h-33zM586.5 574.1h9.5v0.5h-9.5zM598 574.1h3v0.5h-3zM534.5 574.6h3v0.5h-3zM540.5 574.6h2.5v0.5h-2.5zM545 574.6h1.5v0.5h-1.5zM548 574.6h3v0.5h-3zM552.5 574.6h1.5v0.5h-1.5zM554.5 574.6h29.5v0.5h-29.5zM587 574.6h5v0.5h-5zM593 574.6h3v0.5h-3zM598.5 574.6h2v0.5h-2zM534.5 575.1h3v0.5h-3zM540 575.1h3v0.5h-3zM544.5 575.1h2.5v0.5h-2.5zM548 575.1h2.5v0.5h-2.5zM552 575.1h28.5v0.5h-28.5zM581 575.1h2v0.5h-2zM588.5 575.1h4v0.5h-4zM593 575.1h3v0.5h-3zM534.5 575.6h2.5v0.5h-2.5zM540 575.6h3v0.5h-3zM544.5 575.6h2.5v0.5h-2.5zM548 575.6h2v0.5h-2zM552 575.6h31v0.5h-31zM590 575.6h2.5v0.5h-2.5zM593.5 575.6h2v0.5h-2zM534.5 576.1h3v0.5h-3zM540 576.1h3v0.5h-3zM544.5 576.1h2.5v0.5h-2.5zM548 576.1h2.5v0.5h-2.5zM552 576.1h31.5v0.5h-31.5zM590 576.1h2.5v0.5h-2.5zM594 576.1h1v0.5h-1zM534.5 576.6h3v0.5h-3zM540 576.6h3v0.5h-3zM544.5 576.6h2.5v0.5h-2.5zM548 576.6h2.5v0.5h-2.5zM552 576.6h31.5v0.5h-31.5zM590 576.6h2.5v0.5h-2.5zM607.5 576.6h1v0.5h-1zM534.5 577.1h3v0.5h-3zM540 577.1h3v0.5h-3zM544.5 577.1h2.5v0.5h-2.5zM547.5 577.1h3v0.5h-3zM552 577.1h31v0.5h-31zM590.5 577.1h1.5v0.5h-1.5zM606.5 577.1h2.5v0.5h-2.5zM534.5 577.6h3v0.5h-3zM540 577.6h3v0.5h-3zM544.5 577.6h2.5v0.5h-2.5zM547.5 577.6h3v0.5h-3zM551.5 577.6h32v0.5h-32zM606.5 577.6h2.5v0.5h-2.5zM534.5 578.1h3v0.5h-3zM540 578.1h3v0.5h-3zM544.5 578.1h2v0.5h-2zM548 578.1h2.5v0.5h-2.5zM552 578.1h32v0.5h-32zM606.5 578.1h2.5v0.5h-2.5zM534.5 578.6h3v0.5h-3zM540 578.6h3v0.5h-3zM544.5 578.6h2.5v0.5h-2.5zM548 578.6h2.5v0.5h-2.5zM552 578.6h34v0.5h-34zM606.5 578.6h2.5v0.5h-2.5zM535 579.1h2v0.5h-2zM540 579.1h3v0.5h-3zM544 579.1h3v0.5h-3zM548.5 579.1h1.5v0.5h-1.5zM552 579.1h27.5v0.5h-27.5zM580 579.1h6.5v0.5h-6.5zM607 579.1h1.5v0.5h-1.5zM540 579.6h3v0.5h-3zM544.5 579.6h2.5v0.5h-2.5zM548.5 579.6h2v0.5h-2zM552 579.6h25v0.5h-25zM577.5 579.6h2v0.5h-2zM580.5 579.6h6v0.5h-6zM540.5 580.1h2.5v0.5h-2.5zM544 580.1h3v0.5h-3zM548 580.1h2.5v0.5h-2.5zM552 580.1h20.5v0.5h-20.5zM573 580.1h3.5v0.5h-3.5zM577 580.1h3v0.5h-3zM581 580.1h5.5v0.5h-5.5zM541 580.6h2v0.5h-2zM544 580.6h3v0.5h-3zM548 580.6h3v0.5h-3zM552 580.6h20v0.5h-20zM573 580.6h3v0.5h-3zM576.5 580.6h3.5v0.5h-3.5zM581 580.6h2v0.5h-2zM584 580.6h2v0.5h-2zM544 581.1h3v0.5h-3zM548 581.1h2.5v0.5h-2.5zM552 581.1h2.5v0.5h-2.5zM555 581.1h17.5v0.5h-17.5zM573 581.1h2.5v0.5h-2.5zM576.5 581.1h3.5v0.5h-3.5zM543.5 581.6h3.5v0.5h-3.5zM547.5 581.6h3v0.5h-3zM552 581.6h2.5v0.5h-2.5zM555 581.6h18v0.5h-18zM573.5 581.6h2v0.5h-2zM577 581.6h2.5v0.5h-2.5zM627.5 581.6h0.5v0.5h-0.5zM543.5 582.1h3.5v0.5h-3.5zM548 582.1h2.5v0.5h-2.5zM552 582.1h2.5v0.5h-2.5zM555 582.1h21v0.5h-21zM577.5 582.1h1.5v0.5h-1.5zM626.5 582.1h2v0.5h-2zM543.5 582.6h3.5v0.5h-3.5zM547.5 582.6h3v0.5h-3zM552 582.6h2.5v0.5h-2.5zM555 582.6h8.5v0.5h-8.5zM564 582.6h5.5v0.5h-5.5zM570 582.6h8.5v0.5h-8.5zM626.5 582.6h2.5v0.5h-2.5zM543.5 583.1h7v0.5h-7zM551.5 583.1h15.5v0.5h-15.5zM567.5 583.1h2v0.5h-2zM570.5 583.1h8v0.5h-8zM626 583.1h3v0.5h-3zM544 583.6h24.5v0.5h-24.5zM571 583.6h4.5v0.5h-4.5zM576 583.6h2.5v0.5h-2.5zM626.5 583.6h2.5v0.5h-2.5zM544.5 584.1h24.5v0.5h-24.5zM572 584.1h3v0.5h-3zM576 584.1h2.5v0.5h-2.5zM627 584.1h1.5v0.5h-1.5zM544.5 584.6h24.5v0.5h-24.5zM572 584.6h2v0.5h-2zM576.5 584.6h1.5v0.5h-1.5zM545.5 585.1h19v0.5h-19zM565.5 585.1h4v0.5h-4zM546 585.6h17.5v0.5h-17.5zM566 585.6h3.5v0.5h-3.5zM547.5 586.1h3v0.5h-3zM551.5 586.1h13v0.5h-13zM566.5 586.1h4v0.5h-4zM547.5 586.6h3v0.5h-3zM551.5 586.6h14v0.5h-14zM566.5 586.6h5v0.5h-5zM548 587.1h11.5v0.5h-11.5zM560 587.1h5.5v0.5h-5.5zM567 587.1h5v0.5h-5zM548.5 587.6h11v0.5h-11zM560.5 587.6h5.5v0.5h-5.5zM568 587.6h4v0.5h-4zM549.5 588.1h10v0.5h-10zM561.5 588.1h4.5v0.5h-4.5zM568.5 588.1h4v0.5h-4zM549.5 588.6h10v0.5h-10zM562.5 588.6h3v0.5h-3zM566.5 588.6h1v0.5h-1zM569.5 588.6h3.5v0.5h-3.5zM622.5 588.6h0.5v0.5h-0.5zM549.5 589.1h2.5v0.5h-2.5zM552.5 589.1h1.5v0.5h-1.5zM554.5 589.1h4.5v0.5h-4.5zM563 589.1h5v0.5h-5zM570 589.1h3.5v0.5h-3.5zM622 589.1h2v0.5h-2zM550 589.6h1.5v0.5h-1.5zM552 589.6h2.5v0.5h-2.5zM555 589.6h4.5v0.5h-4.5zM564.5 589.6h4v0.5h-4zM570 589.6h3.5v0.5h-3.5zM621.5 589.6h3v0.5h-3zM552 590.1h2.5v0.5h-2.5zM556.5 590.1h3v0.5h-3zM564.5 590.1h4v0.5h-4zM570.5 590.1h3v0.5h-3zM621.5 590.1h3v0.5h-3zM552 590.6h2.5v0.5h-2.5zM557 590.6h2v0.5h-2zM564.5 590.6h3.5v0.5h-3.5zM571.5 590.6h1.5v0.5h-1.5zM621.5 590.6h2.5v0.5h-2.5zM552.5 591.1h2v0.5h-2zM557.5 591.1h1v0.5h-1zM560 591.1h0.5v0.5h-0.5zM565 591.1h3v0.5h-3zM568.5 591.1h1.5v0.5h-1.5zM622 591.1h2v0.5h-2zM559 591.6h2.5v0.5h-2.5zM566 591.6h1.5v0.5h-1.5zM568 591.6h2.5v0.5h-2.5zM583 591.6h1v0.5h-1zM559 592.1h2.5v0.5h-2.5zM568 592.1h2.5v0.5h-2.5zM582.5 592.1h2.5v0.5h-2.5zM556 592.6h1.5v0.5h-1.5zM559 592.6h2.5v0.5h-2.5zM568 592.6h2.5v0.5h-2.5zM582.5 592.6h2.5v0.5h-2.5zM555.5 593.1h2.5v0.5h-2.5zM559 593.1h2.5v0.5h-2.5zM568 593.1h3.5v0.5h-3.5zM575.5 593.1h1.5v0.5h-1.5zM582.5 593.1h2.5v0.5h-2.5zM555.5 593.6h3.5v0.5h-3.5zM559.5 593.6h1.5v0.5h-1.5zM562.5 593.6h2v0.5h-2zM568.5 593.6h3.5v0.5h-3.5zM575 593.6h2.5v0.5h-2.5zM582.5 593.6h2.5v0.5h-2.5zM555.5 594.1h3.5v0.5h-3.5zM562 594.1h2.5v0.5h-2.5zM569 594.1h3v0.5h-3zM575 594.1h4.5v0.5h-4.5zM583 594.1h1.5v0.5h-1.5zM555.5 594.6h3.5v0.5h-3.5zM562 594.6h3v0.5h-3zM569 594.6h3v0.5h-3zM575 594.6h4.5v0.5h-4.5zM556 595.1h4.5v0.5h-4.5zM562 595.1h2.5v0.5h-2.5zM569.5 595.1h2v0.5h-2zM575 595.1h5v0.5h-5zM556.5 595.6h4.5v0.5h-4.5zM562.5 595.6h2v0.5h-2zM576 595.6h4v0.5h-4zM558.5 596.1h2.5v0.5h-2.5zM577.5 596.1h2v0.5h-2zM558.5 596.6h3v0.5h-3zM558.5 597.1h3.5v0.5h-3.5zM574 597.1h3v0.5h-3zM559 597.6h3v0.5h-3zM574 597.6h3.5v0.5h-3.5zM559 598.1h5v0.5h-5zM567.5 598.1h2v0.5h-2zM573.5 598.1h4v0.5h-4zM559.5 598.6h5v0.5h-5zM567 598.6h3.5v0.5h-3.5zM574 598.6h4v0.5h-4zM559.5 599.1h5v0.5h-5zM567 599.1h4v0.5h-4zM574 599.1h5v0.5h-5zM560.5 599.6h1v0.5h-1zM562 599.6h2.5v0.5h-2.5zM567 599.6h4v0.5h-4zM575 599.6h4.5v0.5h-4.5zM562 600.1h2.5v0.5h-2.5zM567.5 600.1h4.5v0.5h-4.5zM575.5 600.1h4.5v0.5h-4.5zM562 600.6h2.5v0.5h-2.5zM568 600.6h4.5v0.5h-4.5zM576.5 600.6h3.5v0.5h-3.5zM563 601.1h0.5v0.5h-0.5zM568.5 601.1h1v0.5h-1zM570 601.1h3v0.5h-3zM577 601.1h2.5v0.5h-2.5zM566.5 601.6h1v0.5h-1zM570 601.6h3v0.5h-3zM578 601.6h2v0.5h-2zM566 602.1h2v0.5h-2zM570.5 602.1h4v0.5h-4zM578 602.1h2.5v0.5h-2.5zM565.5 602.6h3v0.5h-3zM570.5 602.6h4.5v0.5h-4.5zM577.5 602.6h3v0.5h-3zM565.5 603.1h3.5v0.5h-3.5zM570.5 603.1h4.5v0.5h-4.5zM578 603.1h2.5v0.5h-2.5zM565.5 603.6h4v0.5h-4zM571 603.6h4.5v0.5h-4.5zM578.5 603.6h1.5v0.5h-1.5zM565.5 604.1h4v0.5h-4zM571.5 604.1h4v0.5h-4zM566 604.6h3.5v0.5h-3.5zM572 604.6h3.5v0.5h-3.5zM567 605.1h4v0.5h-4zM573 605.1h2v0.5h-2zM568 605.6h3.5v0.5h-3.5zM574 605.6h0.5v0.5h-0.5zM577.5 605.6h0.5v0.5h-0.5zM568.5 606.1h3v0.5h-3zM576.5 606.1h2.5v0.5h-2.5zM568.5 606.6h3v0.5h-3zM576.5 606.6h4v0.5h-4zM568.5 607.1h3v0.5h-3zM576.5 607.1h4v0.5h-4zM569 607.6h1.5v0.5h-1.5zM576.5 607.6h4.5v0.5h-4.5zM577 608.1h3.5v0.5h-3.5zM574.5 608.6h1v0.5h-1zM578.5 608.6h2v0.5h-2zM574 609.1h2v0.5h-2zM573.5 609.6h3v0.5h-3zM573.5 610.1h3v0.5h-3zM574 610.6h2v0.5h-2zM574.5 611.1h1v0.5h-1z" fill="#000"/>
<path d="M588 487.1h1.5v0.5h-1.5zM587.5 487.6h2.5v0.5h-2.5zM587 488.1h3v0.5h-3zM586.5 488.6h3.5v0.5h-3.5zM585.5 489.1h4.5v0.5h-4.5zM585.5 489.6h4v0.5h-4zM584.5 490.1h5v0.5h-5zM584 490.6h5v0.5h-5zM584 491.1h3.5v0.5h-3.5zM583 491.6h4v0.5h-4zM582 492.1h4.5v0.5h-4.5zM581.5 492.6h4.5v0.5h-4.5zM581.5 493.1h4v0.5h-4zM581 493.6h4v0.5h-4zM581 494.1h3.5v0.5h-3.5zM580 494.6h4.5v0.5h-4.5zM579 495.1h5v0.5h-5zM599 495.1h1v0.5h-1zM578.5 495.6h4v0.5h-4zM598.5 495.6h2v0.5h-2zM578.5 496.1h4v0.5h-4zM598 496.1h3v0.5h-3zM577.5 496.6h4.5v0.5h-4.5zM585 496.6h2v0.5h-2zM598 496.6h3v0.5h-3zM577 497.1h4v0.5h-4zM585 497.1h2.5v0.5h-2.5zM598 497.1h2.5v0.5h-2.5zM576.5 497.6h3v0.5h-3zM584.5 497.6h3v0.5h-3zM598.5 497.6h1.5v0.5h-1.5zM575.5 498.1h4v0.5h-4zM584 498.1h3.5v0.5h-3.5zM575.5 498.6h4v0.5h-4zM583.5 498.6h4v0.5h-4zM574.5 499.1h4.5v0.5h-4.5zM583.5 499.1h3v0.5h-3zM574 499.6h4v0.5h-4zM582 499.6h4.5v0.5h-4.5zM573.5 500.1h4v0.5h-4zM581.5 500.1h5v0.5h-5zM573 500.6h4v0.5h-4zM581 500.6h5.5v0.5h-5.5zM572.5 501.1h4v0.5h-4zM581 501.1h3v0.5h-3zM584.5 501.1h1v0.5h-1zM572 501.6h4v0.5h-4zM581 501.6h3v0.5h-3zM571.5 502.1h4v0.5h-4zM581.5 502.1h2v0.5h-2zM571 502.6h4v0.5h-4zM578.5 502.6h2.5v0.5h-2.5zM571 503.1h3.5v0.5h-3.5zM578.5 503.1h3v0.5h-3zM571 503.6h2.5v0.5h-2.5zM578 503.6h3.5v0.5h-3.5zM571 504.1h2.5v0.5h-2.5zM578.5 504.1h3v0.5h-3zM571.5 504.6h1v0.5h-1zM578.5 504.6h2.5v0.5h-2.5zM576.5 505.1h1v0.5h-1zM575.5 505.6h2.5v0.5h-2.5zM581.5 505.6h1.5v0.5h-1.5zM613 505.6h2v0.5h-2zM575 506.1h3v0.5h-3zM581 506.1h2.5v0.5h-2.5zM612.5 506.1h3v0.5h-3zM574.5 506.6h3.5v0.5h-3.5zM581 506.6h3v0.5h-3zM586 506.6h2v0.5h-2zM609.5 506.6h2v0.5h-2zM612.5 506.6h3v0.5h-3zM575 507.1h3v0.5h-3zM581 507.1h3v0.5h-3zM585.5 507.1h3v0.5h-3zM609.5 507.1h2.5v0.5h-2.5zM612.5 507.1h3v0.5h-3zM575 507.6h2.5v0.5h-2.5zM580 507.6h3.5v0.5h-3.5zM585 507.6h3.5v0.5h-3.5zM592.5 507.6h1v0.5h-1zM609.5 507.6h2.5v0.5h-2.5zM613 507.6h2v0.5h-2zM575.5 508.1h1v0.5h-1zM578.5 508.1h4.5v0.5h-4.5zM584.5 508.1h4v0.5h-4zM592 508.1h2v0.5h-2zM609.5 508.1h2.5v0.5h-2.5zM578 508.6h4.5v0.5h-4.5zM584 508.6h4v0.5h-4zM591.5 508.6h3v0.5h-3zM610 508.6h1.5v0.5h-1.5zM578 509.1h4.5v0.5h-4.5zM583.5 509.1h4v0.5h-4zM591.5 509.1h3v0.5h-3zM577.5 509.6h4.5v0.5h-4.5zM583 509.6h4v0.5h-4zM592 509.6h2.5v0.5h-2.5zM629 509.6h0.5v0.5h-0.5zM577.5 510.1h4v0.5h-4zM583 510.1h3.5v0.5h-3.5zM591 510.1h3v0.5h-3zM610.5 510.1h2v0.5h-2zM628 510.1h2.5v0.5h-2.5zM577.5 510.6h3.5v0.5h-3.5zM583 510.6h3.5v0.5h-3.5zM591 510.6h2.5v0.5h-2.5zM610 510.6h2.5v0.5h-2.5zM628 510.6h2.5v0.5h-2.5zM575 511.1h1.5v0.5h-1.5zM577.5 511.1h3v0.5h-3zM581 511.1h5v0.5h-5zM591 511.1h2.5v0.5h-2.5zM610 511.1h3v0.5h-3zM628 511.1h2.5v0.5h-2.5zM574.5 511.6h3v0.5h-3zM578 511.6h1.5v0.5h-1.5zM580.5 511.6h5v0.5h-5zM591 511.6h2.5v0.5h-2.5zM610 511.6h2.5v0.5h-2.5zM628 511.6h2.5v0.5h-2.5zM574.5 512.1h3v0.5h-3zM580.5 512.1h5v0.5h-5zM591 512.1h2v0.5h-2zM610.5 512.1h2v0.5h-2zM628.5 512.1h1.5v0.5h-1.5zM574 512.6h3.5v0.5h-3.5zM579.5 512.6h5.5v0.5h-5.5zM573.5 513.1h4v0.5h-4zM579 513.1h6v0.5h-6zM573 513.6h4v0.5h-4zM578.5 513.6h6v0.5h-6zM573 514.1h3.5v0.5h-3.5zM578 514.1h5.5v0.5h-5.5zM572.5 514.6h4v0.5h-4zM577 514.6h6.5v0.5h-6.5zM572 515.1h4v0.5h-4zM576.5 515.1h7v0.5h-7zM585.5 515.1h0.5v0.5h-0.5zM572.5 515.6h2.5v0.5h-2.5zM576 515.6h6.5v0.5h-6.5zM584.5 515.6h2v0.5h-2zM572.5 516.1h2v0.5h-2zM575.5 516.1h6v0.5h-6zM584.5 516.1h2.5v0.5h-2.5zM575 516.6h6v0.5h-6zM584 516.6h3v0.5h-3zM574.5 517.1h5v0.5h-5zM584.5 517.1h2.5v0.5h-2.5zM639 517.1h1.5v0.5h-1.5zM574 517.6h5.5v0.5h-5.5zM585 517.6h1.5v0.5h-1.5zM609.5 517.6h1.5v0.5h-1.5zM638.5 517.6h2.5v0.5h-2.5zM574 518.1h5v0.5h-5zM581.5 518.1h2v0.5h-2zM584 518.1h3v0.5h-3zM609 518.1h2.5v0.5h-2.5zM638.5 518.1h2.5v0.5h-2.5zM574 518.6h4.5v0.5h-4.5zM580.5 518.6h6.5v0.5h-6.5zM588 518.6h2v0.5h-2zM609 518.6h2.5v0.5h-2.5zM638.5 518.6h2.5v0.5h-2.5zM574 519.1h4v0.5h-4zM580.5 519.1h6.5v0.5h-6.5zM587.5 519.1h2.5v0.5h-2.5zM609 519.1h2.5v0.5h-2.5zM638.5 519.1h2.5v0.5h-2.5zM574 519.6h3.5v0.5h-3.5zM580 519.6h7v0.5h-7zM587.5 519.6h2.5v0.5h-2.5zM609 519.6h2.5v0.5h-2.5zM639.5 519.6h0.5v0.5h-0.5zM574 520.1h2.5v0.5h-2.5zM580 520.1h6.5v0.5h-6.5zM587.5 520.1h3v0.5h-3zM609.5 520.1h1v0.5h-1zM574.5 520.6h1.5v0.5h-1.5zM580 520.6h6.5v0.5h-6.5zM588 520.6h4v0.5h-4zM580 521.1h7v0.5h-7zM588.5 521.1h4v0.5h-4zM576 521.6h0.5v0.5h-0.5zM580 521.6h7.5v0.5h-7.5zM588.5 521.6h4v0.5h-4zM575.5 522.1h2v0.5h-2zM580 522.1h4.5v0.5h-4.5zM585 522.1h8.5v0.5h-8.5zM575 522.6h3v0.5h-3zM579.5 522.6h14.5v0.5h-14.5zM595 522.6h1.5v0.5h-1.5zM575 523.1h3v0.5h-3zM579.5 523.1h17.5v0.5h-17.5zM574.5 523.6h4v0.5h-4zM579 523.6h3v0.5h-3zM582.5 523.6h14.5v0.5h-14.5zM574.5 524.1h23v0.5h-23zM573 524.6h24.5v0.5h-24.5zM573 525.1h24v0.5h-24zM571 525.6h7v0.5h-7zM578.5 525.6h18.5v0.5h-18.5zM599 525.6h2v0.5h-2zM570.5 526.1h26v0.5h-26zM597 526.1h0.5v0.5h-0.5zM598.5 526.1h4v0.5h-4zM620.5 526.1h0.5v0.5h-0.5zM570.5 526.6h9v0.5h-9zM580.5 526.6h17.5v0.5h-17.5zM598.5 526.6h4.5v0.5h-4.5zM620 526.6h2v0.5h-2zM626 526.6h1.5v0.5h-1.5zM570.5 527.1h4v0.5h-4zM575 527.1h28.5v0.5h-28.5zM608 527.1h1.5v0.5h-1.5zM618.5 527.1h4v0.5h-4zM625.5 527.1h2.5v0.5h-2.5zM571 527.6h5v0.5h-5zM576.5 527.6h27v0.5h-27zM607 527.6h3v0.5h-3zM618 527.6h4.5v0.5h-4.5zM625.5 527.6h2.5v0.5h-2.5zM572 528.1h18.5v0.5h-18.5zM591 528.1h7.5v0.5h-7.5zM599 528.1h4.5v0.5h-4.5zM606 528.1h4.5v0.5h-4.5zM618 528.1h4v0.5h-4zM625.5 528.1h3v0.5h-3zM571 528.6h19.5v0.5h-19.5zM591.5 528.6h11.5v0.5h-11.5zM606 528.6h4.5v0.5h-4.5zM618 528.6h3.5v0.5h-3.5zM626 528.6h3v0.5h-3zM570.5 529.1h20v0.5h-20zM591.5 529.1h5v0.5h-5zM597 529.1h13v0.5h-13zM618.5 529.1h2v0.5h-2zM626.5 529.1h3v0.5h-3zM570 529.6h39.5v0.5h-39.5zM626.5 529.6h2.5v0.5h-2.5zM570 530.1h4.5v0.5h-4.5zM575 530.1h12.5v0.5h-12.5zM588 530.1h18.5v0.5h-18.5zM607 530.1h2.5v0.5h-2.5zM626.5 530.1h2.5v0.5h-2.5zM570.5 530.6h3.5v0.5h-3.5zM575.5 530.6h4v0.5h-4zM580 530.6h7.5v0.5h-7.5zM588 530.6h21.5v0.5h-21.5zM616.5 530.6h2v0.5h-2zM627.5 530.6h1v0.5h-1zM641.5 530.6h1v0.5h-1zM570.5 531.1h4v0.5h-4zM575.5 531.1h12v0.5h-12zM588.5 531.1h21v0.5h-21zM611 531.1h2v0.5h-2zM616 531.1h3v0.5h-3zM641 531.1h2v0.5h-2zM571 531.6h4v0.5h-4zM575.5 531.6h34.5v0.5h-34.5zM611 531.6h2.5v0.5h-2.5zM616 531.6h3v0.5h-3zM640.5 531.6h3v0.5h-3zM571 532.1h4v0.5h-4zM575.5 532.1h38v0.5h-38zM616 532.1h2.5v0.5h-2.5zM633 532.1h1v0.5h-1zM640.5 532.1h3v0.5h-3zM571 532.6h4v0.5h-4zM575.5 532.6h38v0.5h-38zM616.5 532.6h2v0.5h-2zM632.5 532.6h2v0.5h-2zM640.5 532.6h2.5v0.5h-2.5zM571.5 533.1h3v0.5h-3zM576 533.1h37v0.5h-37zM614 533.1h1.5v0.5h-1.5zM632 533.1h3v0.5h-3zM641 533.1h1.5v0.5h-1.5zM573.5 533.6h0.5v0.5h-0.5zM576.5 533.6h36.5v0.5h-36.5zM613.5 533.6h2.5v0.5h-2.5zM632 533.6h3v0.5h-3zM576.5 534.1h36.5v0.5h-36.5zM613.5 534.1h3.5v0.5h-3.5zM632.5 534.1h2.5v0.5h-2.5zM577 534.6h40.5v0.5h-40.5zM633 534.6h1.5v0.5h-1.5zM577.5 535.1h40v0.5h-40zM630 535.1h3.5v0.5h-3.5zM580.5 535.6h2v0.5h-2zM583.5 535.6h1.5v0.5h-1.5zM585.5 535.6h32v0.5h-32zM630 535.6h4v0.5h-4zM581 536.1h1v0.5h-1zM585.5 536.1h32.5v0.5h-32.5zM629.5 536.1h4.5v0.5h-4.5zM585.5 536.6h33v0.5h-33zM629.5 536.6h4.5v0.5h-4.5zM635.5 536.6h2v0.5h-2zM586 537.1h25.5v0.5h-25.5zM612.5 537.1h6.5v0.5h-6.5zM630 537.1h3.5v0.5h-3.5zM635.5 537.1h2.5v0.5h-2.5zM587.5 537.6h3v0.5h-3zM591 537.6h20.5v0.5h-20.5zM612 537.6h7v0.5h-7zM630.5 537.6h1v0.5h-1zM635 537.6h3v0.5h-3zM643.5 537.6h0.5v0.5h-0.5zM591 538.1h28.5v0.5h-28.5zM621 538.1h1.5v0.5h-1.5zM635.5 538.1h2.5v0.5h-2.5zM643 538.1h2v0.5h-2zM591 538.6h28v0.5h-28zM619.5 538.6h3.5v0.5h-3.5zM624.5 538.6h2v0.5h-2zM635.5 538.6h2v0.5h-2zM642.5 538.6h2.5v0.5h-2.5zM591.5 539.1h1.5v0.5h-1.5zM594 539.1h29v0.5h-29zM623.5 539.1h3.5v0.5h-3.5zM642.5 539.1h3v0.5h-3zM594 539.6h33v0.5h-33zM642.5 539.6h2.5v0.5h-2.5zM594.5 540.1h32.5v0.5h-32.5zM642.5 540.1h2.5v0.5h-2.5zM595 540.6h31.5v0.5h-31.5zM643 540.6h1.5v0.5h-1.5zM596.5 541.1h25.5v0.5h-25.5zM622.5 541.1h3v0.5h-3zM598.5 541.6h27v0.5h-27zM627 541.6h2v0.5h-2zM630 541.6h0.5v0.5h-0.5zM599.5 542.1h26v0.5h-26zM626.5 542.1h5v0.5h-5zM639 542.1h1.5v0.5h-1.5zM601 542.6h30.5v0.5h-30.5zM635.5 542.6h1v0.5h-1zM638.5 542.6h2.5v0.5h-2.5zM602 543.1h30v0.5h-30zM635 543.1h2v0.5h-2zM638.5 543.1h3v0.5h-3zM602.5 543.6h31v0.5h-31zM634.5 543.6h3v0.5h-3zM638.5 543.6h2.5v0.5h-2.5zM661 543.6h1.5v0.5h-1.5zM604.5 544.1h29.5v0.5h-29.5zM634.5 544.1h6.5v0.5h-6.5zM660.5 544.1h2.5v0.5h-2.5zM605 544.6h34.5v0.5h-34.5zM641 544.6h2v0.5h-2zM650 544.6h0.5v0.5h-0.5zM660 544.6h3v0.5h-3zM606.5 545.1h33v0.5h-33zM640.5 545.1h4v0.5h-4zM649 545.1h2.5v0.5h-2.5zM660 545.1h3v0.5h-3zM608 545.6h1.5v0.5h-1.5zM610 545.6h1.5v0.5h-1.5zM612 545.6h27.5v0.5h-27.5zM640.5 545.6h4.5v0.5h-4.5zM649 545.6h2.5v0.5h-2.5zM660.5 545.6h2v0.5h-2zM612.5 546.1h35v0.5h-35zM649 546.1h2.5v0.5h-2.5zM661 546.1h2v0.5h-2zM613 546.6h35.5v0.5h-35.5zM649 546.6h2.5v0.5h-2.5zM661.5 546.6h2v0.5h-2zM700 546.6h1v0.5h-1zM613.5 547.1h35.5v0.5h-35.5zM649.5 547.1h3.5v0.5h-3.5zM661 547.1h3v0.5h-3zM699 547.1h2.5v0.5h-2.5zM614.5 547.6h35v0.5h-35zM651 547.6h3v0.5h-3zM661 547.6h3v0.5h-3zM699 547.6h2.5v0.5h-2.5zM616 548.1h1.5v0.5h-1.5zM618 548.1h4.5v0.5h-4.5zM623 548.1h27v0.5h-27zM650.5 548.1h4v0.5h-4zM661 548.1h2.5v0.5h-2.5zM699 548.1h3v0.5h-3zM618.5 548.6h1v0.5h-1zM621 548.6h0.5v0.5h-0.5zM623 548.6h27.5v0.5h-27.5zM651 548.6h4v0.5h-4zM660 548.6h1v0.5h-1zM662 548.6h1.5v0.5h-1.5zM699 548.6h2.5v0.5h-2.5zM727.5 548.6h2v0.5h-2zM625 549.1h25.5v0.5h-25.5zM651 549.1h13v0.5h-13zM664.5 549.1h1v0.5h-1zM699.5 549.1h1.5v0.5h-1.5zM727.5 549.1h2.5v0.5h-2.5zM625.5 549.6h41v0.5h-41zM727 549.6h3v0.5h-3zM626 550.1h40.5v0.5h-40.5zM727.5 550.1h2.5v0.5h-2.5zM627 550.6h0.5v0.5h-0.5zM628 550.6h39v0.5h-39zM670.5 550.6h2v0.5h-2zM727.5 550.6h2v0.5h-2zM631.5 551.1h6.5v0.5h-6.5zM638.5 551.1h28.5v0.5h-28.5zM670.5 551.1h3v0.5h-3zM710 551.1h1v0.5h-1zM635.5 551.6h2v0.5h-2zM639 551.6h3v0.5h-3zM642.5 551.6h24.5v0.5h-24.5zM668.5 551.6h6v0.5h-6zM709.5 551.6h2v0.5h-2zM640 552.1h1v0.5h-1zM643.5 552.1h9.5v0.5h-9.5zM653.5 552.1h13.5v0.5h-13.5zM668 552.1h6.5v0.5h-6.5zM709 552.1h3v0.5h-3zM646 552.6h0.5v0.5h-0.5zM647 552.6h2.5v0.5h-2.5zM651 552.6h2v0.5h-2zM655 552.6h12v0.5h-12zM668 552.6h9v0.5h-9zM709 552.6h3v0.5h-3zM657 553.1h6.5v0.5h-6.5zM664 553.1h2.5v0.5h-2.5zM668 553.1h9.5v0.5h-9.5zM709 553.1h2.5v0.5h-2.5zM657 553.6h6.5v0.5h-6.5zM668.5 553.6h9v0.5h-9zM709.5 553.6h1.5v0.5h-1.5zM658.5 554.1h1.5v0.5h-1.5zM660.5 554.1h1.5v0.5h-1.5zM669.5 554.1h8v0.5h-8zM670 554.6h3v0.5h-3zM673.5 554.6h4v0.5h-4zM675.5 555.1h1.5v0.5h-1.5zM661.5 556.1h0.5v0.5h-0.5zM672 556.1h0.5v0.5h-0.5zM654.5 556.6h1.5v0.5h-1.5zM660.5 556.6h2.5v0.5h-2.5zM669 556.6h1.5v0.5h-1.5zM671 556.6h2.5v0.5h-2.5zM652.5 557.1h4v0.5h-4zM660.5 557.1h4v0.5h-4zM667 557.1h6.5v0.5h-6.5zM650 557.6h6.5v0.5h-6.5zM658 557.6h1.5v0.5h-1.5zM660.5 557.6h4.5v0.5h-4.5zM667 557.6h6.5v0.5h-6.5zM638 558.1h3.5v0.5h-3.5zM643 558.1h4v0.5h-4zM649 558.1h8v0.5h-8zM657.5 558.1h8.5v0.5h-8.5zM667 558.1h6.5v0.5h-6.5zM633 558.6h1v0.5h-1zM637 558.6h4.5v0.5h-4.5zM642.5 558.6h5v0.5h-5zM649 558.6h24v0.5h-24zM632.5 559.1h3.5v0.5h-3.5zM636.5 559.1h5.5v0.5h-5.5zM642.5 559.1h19v0.5h-19zM662 559.1h10.5v0.5h-10.5zM624 559.6h2v0.5h-2zM626.5 559.6h35v0.5h-35zM662.5 559.6h5v0.5h-5zM670 559.6h2.5v0.5h-2.5zM621 560.1h1.5v0.5h-1.5zM623.5 560.1h37.5v0.5h-37.5zM663.5 560.1h4v0.5h-4zM670 560.1h2.5v0.5h-2.5zM620.5 560.6h40v0.5h-40zM665 560.6h2v0.5h-2zM670 560.6h2.5v0.5h-2.5zM616.5 561.1h1.5v0.5h-1.5zM618.5 561.1h36v0.5h-36zM655 561.1h5v0.5h-5zM671 561.1h1v0.5h-1zM612.5 561.6h2v0.5h-2zM616 561.6h37.5v0.5h-37.5zM655.5 561.6h4v0.5h-4zM609 562.1h2.5v0.5h-2.5zM612.5 562.1h2.5v0.5h-2.5zM616 562.1h37v0.5h-37zM656 562.1h1v0.5h-1zM658 562.1h1v0.5h-1zM608 562.6h7v0.5h-7zM616 562.6h36.5v0.5h-36.5zM603.5 563.1h1.5v0.5h-1.5zM608 563.1h7v0.5h-7zM615.5 563.1h37v0.5h-37zM603 563.6h2.5v0.5h-2.5zM608 563.6h6.5v0.5h-6.5zM615 563.6h34v0.5h-34zM650.5 563.6h1v0.5h-1zM603 564.1h2.5v0.5h-2.5zM607.5 564.1h6.5v0.5h-6.5zM614.5 564.1h31.5v0.5h-31.5zM676 564.1h0.5v0.5h-0.5zM596.5 564.6h1.5v0.5h-1.5zM602 564.6h4.5v0.5h-4.5zM607.5 564.6h7v0.5h-7zM615 564.6h30.5v0.5h-30.5zM675 564.6h2v0.5h-2zM594 565.1h5.5v0.5h-5.5zM601.5 565.1h5.5v0.5h-5.5zM607.5 565.1h36v0.5h-36zM674.5 565.1h3v0.5h-3zM593.5 565.6h6.5v0.5h-6.5zM601 565.6h6v0.5h-6zM607.5 565.6h13.5v0.5h-13.5zM621.5 565.6h22v0.5h-22zM674.5 565.6h3v0.5h-3zM593 566.1h14v0.5h-14zM607.5 566.1h14v0.5h-14zM622 566.1h22v0.5h-22zM673.5 566.1h4v0.5h-4zM593 566.6h14v0.5h-14zM607.5 566.6h14v0.5h-14zM622 566.6h15.5v0.5h-15.5zM638.5 566.6h5.5v0.5h-5.5zM673 566.6h4v0.5h-4zM589.5 567.1h1v0.5h-1zM593 567.1h44v0.5h-44zM639 567.1h5v0.5h-5zM673 567.1h3v0.5h-3zM587.5 567.6h4v0.5h-4zM593 567.6h33v0.5h-33zM628 567.6h2.5v0.5h-2.5zM631.5 567.6h4v0.5h-4zM639.5 567.6h1v0.5h-1zM641.5 567.6h2v0.5h-2zM673.5 567.6h2.5v0.5h-2.5zM587.5 568.1h38v0.5h-38zM628 568.1h2v0.5h-2zM632 568.1h3.5v0.5h-3.5zM656 568.1h1v0.5h-1zM673.5 568.1h2v0.5h-2zM586.5 568.6h41v0.5h-41zM632 568.6h3.5v0.5h-3.5zM655.5 568.6h2.5v0.5h-2.5zM586 569.1h39v0.5h-39zM625.5 569.1h2.5v0.5h-2.5zM631.5 569.1h3.5v0.5h-3.5zM655.5 569.1h2.5v0.5h-2.5zM585.5 569.6h42.5v0.5h-42.5zM631 569.6h3v0.5h-3zM655.5 569.6h2.5v0.5h-2.5zM584 570.1h44v0.5h-44zM631 570.1h3v0.5h-3zM655.5 570.1h2.5v0.5h-2.5zM582 570.6h10.5v0.5h-10.5zM593 570.6h34.5v0.5h-34.5zM631.5 570.6h2v0.5h-2zM656 570.6h1.5v0.5h-1.5zM582 571.1h30v0.5h-30zM612.5 571.1h7v0.5h-7zM620 571.1h7.5v0.5h-7.5zM632 571.1h1v0.5h-1zM664 571.1h1v0.5h-1zM581.5 571.6h31v0.5h-31zM613 571.6h14v0.5h-14zM663.5 571.6h2v0.5h-2zM581 572.1h9.5v0.5h-9.5zM591 572.1h22v0.5h-22zM613.5 572.1h11.5v0.5h-11.5zM663 572.1h3v0.5h-3zM578 572.6h1.5v0.5h-1.5zM580.5 572.6h8.5v0.5h-8.5zM590.5 572.6h31v0.5h-31zM622.5 572.6h2v0.5h-2zM663 572.6h3v0.5h-3zM577.5 573.1h2.5v0.5h-2.5zM580.5 573.1h8.5v0.5h-8.5zM590.5 573.1h26v0.5h-26zM617 573.1h5v0.5h-5zM663 573.1h2.5v0.5h-2.5zM575.5 573.6h0.5v0.5h-0.5zM577 573.6h3.5v0.5h-3.5zM581 573.6h7.5v0.5h-7.5zM589 573.6h27.5v0.5h-27.5zM617 573.6h5v0.5h-5zM663.5 573.6h1.5v0.5h-1.5zM575 574.1h5.5v0.5h-5.5zM581 574.1h7v0.5h-7zM588.5 574.1h28v0.5h-28zM617 574.1h5v0.5h-5zM625.5 574.1h2v0.5h-2zM574.5 574.6h6v0.5h-6zM581 574.6h23.5v0.5h-23.5zM605.5 574.6h10.5v0.5h-10.5zM617 574.6h4.5v0.5h-4.5zM625.5 574.6h2.5v0.5h-2.5zM573 575.1h31.5v0.5h-31.5zM606 575.1h7v0.5h-7zM613.5 575.1h3v0.5h-3zM617.5 575.1h3.5v0.5h-3.5zM625.5 575.1h2.5v0.5h-2.5zM571.5 575.6h9.5v0.5h-9.5zM581.5 575.6h23.5v0.5h-23.5zM606.5 575.6h2.5v0.5h-2.5zM609.5 575.6h4.5v0.5h-4.5zM614.5 575.6h2.5v0.5h-2.5zM617.5 575.6h3.5v0.5h-3.5zM625.5 575.6h2.5v0.5h-2.5zM571 576.1h34.5v0.5h-34.5zM606 576.1h2.5v0.5h-2.5zM609.5 576.1h4.5v0.5h-4.5zM614.5 576.1h6.5v0.5h-6.5zM626 576.1h1.5v0.5h-1.5zM571 576.6h37.5v0.5h-37.5zM609 576.6h5v0.5h-5zM614.5 576.6h4.5v0.5h-4.5zM619.5 576.6h0.5v0.5h-0.5zM628.5 576.6h1.5v0.5h-1.5zM571 577.1h43v0.5h-43zM614.5 577.1h4.5v0.5h-4.5zM628 577.1h2.5v0.5h-2.5zM571 577.6h28v0.5h-28zM599.5 577.6h14.5v0.5h-14.5zM615 577.6h1v0.5h-1zM616.5 577.6h2.5v0.5h-2.5zM628 577.6h2.5v0.5h-2.5zM571.5 578.1h18.5v0.5h-18.5zM590.5 578.1h17v0.5h-17zM608.5 578.1h5.5v0.5h-5.5zM617 578.1h1.5v0.5h-1.5zM628 578.1h2.5v0.5h-2.5zM570.5 578.6h32v0.5h-32zM604 578.6h3v0.5h-3zM608.5 578.6h6v0.5h-6zM628 578.6h2.5v0.5h-2.5zM570.5 579.1h27v0.5h-27zM598.5 579.1h3.5v0.5h-3.5zM604 579.1h2.5v0.5h-2.5zM608.5 579.1h6v0.5h-6zM628.5 579.1h1.5v0.5h-1.5zM645.5 579.1h1v0.5h-1zM570.5 579.6h23v0.5h-23zM594 579.6h3v0.5h-3zM598.5 579.6h4v0.5h-4zM604 579.6h2.5v0.5h-2.5zM608.5 579.6h5.5v0.5h-5.5zM644.5 579.6h2.5v0.5h-2.5zM570 580.1h27v0.5h-27zM598 580.1h8v0.5h-8zM608.5 580.1h3.5v0.5h-3.5zM612.5 580.1h1v0.5h-1zM644.5 580.1h2.5v0.5h-2.5zM570.5 580.6h35.5v0.5h-35.5zM608.5 580.6h2.5v0.5h-2.5zM644.5 580.6h2.5v0.5h-2.5zM570.5 581.1h35.5v0.5h-35.5zM608.5 581.1h2.5v0.5h-2.5zM613.5 581.1h1v0.5h-1zM644.5 581.1h2.5v0.5h-2.5zM572 581.6h5v0.5h-5zM578 581.6h28v0.5h-28zM609 581.6h1.5v0.5h-1.5zM613 581.6h2.5v0.5h-2.5zM645 581.6h1.5v0.5h-1.5zM572.5 582.1h5v0.5h-5zM578.5 582.1h12v0.5h-12zM591 582.1h14.5v0.5h-14.5zM612.5 582.1h3v0.5h-3zM572.5 582.6h4.5v0.5h-4.5zM578 582.6h25.5v0.5h-25.5zM612.5 582.6h3v0.5h-3zM573 583.1h4v0.5h-4zM577.5 583.1h5v0.5h-5zM583.5 583.1h4v0.5h-4zM588 583.1h9v0.5h-9zM597.5 583.1h6v0.5h-6zM613 583.1h2.5v0.5h-2.5zM573 583.6h4v0.5h-4zM577.5 583.6h4.5v0.5h-4.5zM583.5 583.6h3.5v0.5h-3.5zM587.5 583.6h16v0.5h-16zM613.5 583.6h1.5v0.5h-1.5zM573.5 584.1h27v0.5h-27zM601 584.1h2v0.5h-2zM574 584.6h6v0.5h-6zM581 584.6h19v0.5h-19zM576 585.1h3v0.5h-3zM580 585.1h19.5v0.5h-19.5zM576.5 585.6h2.5v0.5h-2.5zM579.5 585.6h20v0.5h-20zM600.5 585.6h0.5v0.5h-0.5zM577 586.1h1.5v0.5h-1.5zM579 586.1h23v0.5h-23zM578.5 586.6h23.5v0.5h-23.5zM578.5 587.1h23.5v0.5h-23.5zM578.5 587.6h10.5v0.5h-10.5zM589.5 587.6h5.5v0.5h-5.5zM597 587.6h5v0.5h-5zM579 588.1h2.5v0.5h-2.5zM582.5 588.1h6v0.5h-6zM589 588.1h6v0.5h-6zM597 588.1h2.5v0.5h-2.5zM600 588.1h1.5v0.5h-1.5zM580 588.6h1v0.5h-1zM582.5 588.6h6v0.5h-6zM589 588.6h6v0.5h-6zM597.5 588.6h1.5v0.5h-1.5zM583 589.1h12v0.5h-12zM582 589.6h13v0.5h-13zM581.5 590.1h4v0.5h-4zM586 590.1h3v0.5h-3zM590 590.1h0.5v0.5h-0.5zM593.5 590.1h0.5v0.5h-0.5zM581.5 590.6h4v0.5h-4zM586.5 590.6h3.5v0.5h-3.5zM581.5 591.1h3v0.5h-3zM586.5 591.1h4v0.5h-4zM605 591.1h1.5v0.5h-1.5zM582 591.6h2v0.5h-2zM586.5 591.6h4v0.5h-4zM604.5 591.6h2.5v0.5h-2.5zM609.5 591.6h2v0.5h-2zM586.5 592.1h4v0.5h-4zM604.5 592.1h2.5v0.5h-2.5zM609.5 592.1h2.5v0.5h-2.5zM587 592.6h3.5v0.5h-3.5zM604.5 592.6h2.5v0.5h-2.5zM609.5 592.6h2.5v0.5h-2.5zM589 593.1h1v0.5h-1zM604.5 593.1h2.5v0.5h-2.5zM609.5 593.1h2.5v0.5h-2.5zM605 593.6h1.5v0.5h-1.5zM610 593.6h1.5v0.5h-1.5zM591.5 595.1h2v0.5h-2zM591 595.6h3v0.5h-3zM578.5 596.1h2v0.5h-2zM591 596.1h3v0.5h-3zM578.5 596.6h3.5v0.5h-3.5zM591 596.6h2.5v0.5h-2.5zM578 597.1h4.5v0.5h-4.5zM591.5 597.1h2v0.5h-2zM578.5 597.6h4.5v0.5h-4.5zM578.5 598.1h5v0.5h-5zM604.5 598.1h2v0.5h-2zM579 598.6h5v0.5h-5zM604.5 598.6h2.5v0.5h-2.5zM580 599.1h4v0.5h-4zM604 599.1h3v0.5h-3zM581 599.6h3v0.5h-3zM604.5 599.6h2.5v0.5h-2.5zM581 600.1h5v0.5h-5zM604.5 600.1h2v0.5h-2zM581.5 600.6h4.5v0.5h-4.5zM581.5 601.1h4.5v0.5h-4.5zM580 601.6h1.5v0.5h-1.5zM583.5 601.6h2.5v0.5h-2.5zM579.5 602.1h2.5v0.5h-2.5zM584 602.1h2v0.5h-2zM579 602.6h3v0.5h-3zM579 603.1h3v0.5h-3zM579.5 603.6h2.5v0.5h-2.5zM579.5 604.1h2v0.5h-2zM582.5 604.1h1v0.5h-1zM595.5 604.1h0.5v0.5h-0.5zM582 604.6h2v0.5h-2zM594.5 604.6h2.5v0.5h-2.5zM581.5 605.1h3v0.5h-3zM594.5 605.1h2.5v0.5h-2.5zM581.5 605.6h3v0.5h-3zM594.5 605.6h2.5v0.5h-2.5zM582 606.1h2.5v0.5h-2.5zM594.5 606.1h2.5v0.5h-2.5zM582 606.6h2v0.5h-2zM595 606.6h1.5v0.5h-1.5zM583 607.1h0.5v0.5h-0.5zM579.5 607.6h2v0.5h-2zM600.5 607.6h2v0.5h-2zM579 608.1h3v0.5h-3zM600.5 608.1h2.5v0.5h-2.5zM579 608.6h3v0.5h-3zM600 608.6h3v0.5h-3zM579 609.1h3v0.5h-3zM600.5 609.1h2.5v0.5h-2.5zM613.5 609.1h2v0.5h-2zM579.5 609.6h2.5v0.5h-2.5zM600.5 609.6h2v0.5h-2zM613 609.6h2.5v0.5h-2.5zM580 610.1h2v0.5h-2zM613 610.1h2.5v0.5h-2.5zM575 610.6h1.5v0.5h-1.5zM582.5 610.6h2v0.5h-2zM613 610.6h2.5v0.5h-2.5zM574.5 611.1h3.5v0.5h-3.5zM582.5 611.1h2.5v0.5h-2.5zM613.5 611.1h2v0.5h-2zM574.5 611.6h4.5v0.5h-4.5zM582 611.6h4v0.5h-4zM574.5 612.1h5v0.5h-5zM582.5 612.1h4v0.5h-4zM574.5 612.6h5v0.5h-5zM582.5 612.6h4.5v0.5h-4.5zM575 613.1h4.5v0.5h-4.5zM584 613.1h3v0.5h-3zM577 613.6h2v0.5h-2zM579.5 613.6h0.5v0.5h-0.5zM584 613.6h3v0.5h-3zM578.5 614.1h2.5v0.5h-2.5zM584.5 614.1h2.5v0.5h-2.5zM578.5 614.6h2.5v0.5h-2.5zM584.5 614.6h2.5v0.5h-2.5zM578.5 615.1h3v0.5h-3zM585.5 615.1h0.5v0.5h-0.5zM578.5 615.6h4v0.5h-4zM579 616.1h4v0.5h-4zM579 616.6h4v0.5h-4zM579.5 617.1h5.5v0.5h-5.5zM580.5 617.6h5v0.5h-5zM581 618.1h4.5v0.5h-4.5zM583 618.6h2.5v0.5h-2.5zM583 619.1h2v0.5h-2zM587 621.1h1.5v0.5h-1.5zM586.5 621.6h2.5v0.5h-2.5zM586.5 622.1h3v0.5h-3zM586.5 622.6h3.5v0.5h-3.5zM586.5 623.1h4v0.5h-4zM587 623.6h3.5v0.5h-3.5zM588 624.1h3v0.5h-3zM588 624.6h2.5v0.5h-2.5zM588.5 625.1h1.5v0.5h-1.5z" fill="#f00"/>
<path d="M490.8 434.6V677.3M531.1 434.6V677.3M571.4 434.6V677.3M611.7 434.6V677.3M652.0 434.6V677.3M692.3 434.6V677.3M732.6 434.6V677.3M772.9 434.6V677.3M480.0 668.0H784.0M480.0 645.5H784.0M480.0 623.0H784.0M480.0 600.5H784.0M480.0 578.0H784.0M480.0 555.5H784.0M480.0 533.0H784.0M480.0 510.5H784.0M480.0 488.0H784.0M480.0 465.5H784.0M480.0 443.0H784.0" stroke="#b4b4b4" stroke-width="1" stroke-dasharray="1 1" fill="none"/>
<rect x="480.0" y="434.6" width="304.0" height="242.69999999999993" fill="none" stroke="#000" stroke-width="1.7"/>
<path d="M469.0 668.0H480.0M469.0 611.8H480.0M469.0 555.5H480.0M469.0 499.2H480.0M469.0 443.0H480.0M490.8 677.3V687.8M531.1 677.3V687.8M571.4 677.3V687.8M611.7 677.3V687.8M652.0 677.3V687.8M692.3 677.3V687.8M732.6 677.3V687.8M772.9 677.3V687.8" stroke="#000" stroke-width="1.7" fill="none"/>
<text transform="translate(453.3,668.0) rotate(-90)" x="0" y="5.8" text-anchor="middle" class="t16">−10</text>
<text transform="translate(453.3,611.8) rotate(-90)" x="0" y="5.8" text-anchor="middle" class="t16">−5</text>
<text transform="translate(453.3,555.5) rotate(-90)" x="0" y="5.8" text-anchor="middle" class="t16">0</text>
<text transform="translate(453.3,499.2) rotate(-90)" x="0" y="5.8" text-anchor="middle" class="t16">5</text>
<text transform="translate(453.3,443.0) rotate(-90)" x="0" y="5.8" text-anchor="middle" class="t16">10</text>
<text x="490.8" y="714.4" text-anchor="middle" class="t16">−1</text>
<text x="531.1" y="714.4" text-anchor="middle" class="t16">0</text>
<text x="571.4" y="714.4" text-anchor="middle" class="t16">1</text>
<text x="611.7" y="714.4" text-anchor="middle" class="t16">2</text>
<text x="652.0" y="714.4" text-anchor="middle" class="t16">3</text>
<text x="692.3" y="714.4" text-anchor="middle" class="t16">4</text>
<text x="732.6" y="714.4" text-anchor="middle" class="t16">5</text>
<text x="772.9" y="714.4" text-anchor="middle" class="t16">6</text>
<text x="632.0" y="755.2" text-anchor="middle" class="t17">log10TPM in the higher group</text>
 <text transform="translate(422.8,555.6) rotate(-90)" x="0" y="0" text-anchor="middle" class="t17">log2FC</text>
<text x="630.5" y="411.3" text-anchor="middle" class="tb">SCRB−Seq</text>
<text x="412.0" y="412.5" class="lab">d</text>
<circle cx="635.3" cy="451.3" r="2" fill="#f00"/><circle cx="635.3" cy="467.6" r="2" fill="#000"/>
<text x="649" y="455.6" class="t13">FDR&lt;0.05 (5156)</text>
<text x="649" y="472.20000000000005" class="t13">FDR &gt;= 0.05 (13407)</text>
<ellipse cx="423.17" cy="1009.89" rx="167.93" ry="95.96" transform="rotate(-45 423.17 1009.89)" fill="#00cd00" fill-opacity="0.3" stroke="none"/>
<ellipse cx="279.23" cy="1009.89" rx="167.93" ry="95.96" transform="rotate(-135 279.23 1009.89)" fill="#ff0000" fill-opacity="0.3" stroke="none"/>
<ellipse cx="351.20" cy="961.91" rx="158.33" ry="71.97" transform="rotate(-45 351.20 961.91)" fill="#00ffff" fill-opacity="0.3" stroke="none"/>
<ellipse cx="351.20" cy="961.91" rx="167.93" ry="71.97" transform="rotate(-135 351.20 961.91)" fill="#0000ff" fill-opacity="0.3" stroke="none"/>
<ellipse cx="423.17" cy="1009.89" rx="167.93" ry="95.96" transform="rotate(-45 423.17 1009.89)" fill="none" stroke="#000" stroke-width="1.8"/>
<ellipse cx="279.23" cy="1009.89" rx="167.93" ry="95.96" transform="rotate(-135 279.23 1009.89)" fill="none" stroke="#000" stroke-width="1.8"/>
<ellipse cx="351.20" cy="961.91" rx="158.33" ry="71.97" transform="rotate(-45 351.20 961.91)" fill="none" stroke="#000" stroke-width="1.8"/>
<ellipse cx="351.20" cy="961.91" rx="167.93" ry="71.97" transform="rotate(-135 351.20 961.91)" fill="none" stroke="#000" stroke-width="1.8"/>
<text x="279.6" y="870.2" text-anchor="middle" class="sv">356</text>
<text x="423.6" y="870.2" text-anchor="middle" class="sv">3745</text>
<text x="197.6" y="961.3" text-anchor="middle" class="sv">2255</text>
<text x="504.5" y="961.3" text-anchor="middle" class="sv">260</text>
<text x="260.5" y="918.0" text-anchor="middle" class="sv">206</text>
<text x="351.6" y="908.4" text-anchor="middle" class="sv">116</text>
<text x="442.7" y="918.0" text-anchor="middle" class="sv">136</text>
<text x="303.8" y="961.3" text-anchor="middle" class="sv">79</text>
<text x="399.4" y="961.3" text-anchor="middle" class="sv">10</text>
<text x="351.6" y="1013.5" text-anchor="middle" class="sv">7</text>
<text x="264.3" y="1036.4" text-anchor="middle" class="sv">1041</text>
<text x="437.6" y="1036.4" text-anchor="middle" class="sv">14</text>
<text x="315.3" y="1056.2" text-anchor="middle" class="sv">64</text>
<text x="387.9" y="1056.2" text-anchor="middle" class="sv">18</text>
<text x="351.6" y="1104.6" text-anchor="middle" class="sv">114</text>
<text x="139.9" y="859.5" class="sv">CEL−Seq2/C1</text>
<text x="254.4" y="816.8" class="sv">MARS−Seq</text>
<text x="399.1" y="817.3" class="sv">SCRB−Seq</text>
<text x="510.8" y="859.0" class="sv">Drop−Seq</text>
<text x="124.5" y="807.7" class="lab">e</text>
</svg></body></html>
